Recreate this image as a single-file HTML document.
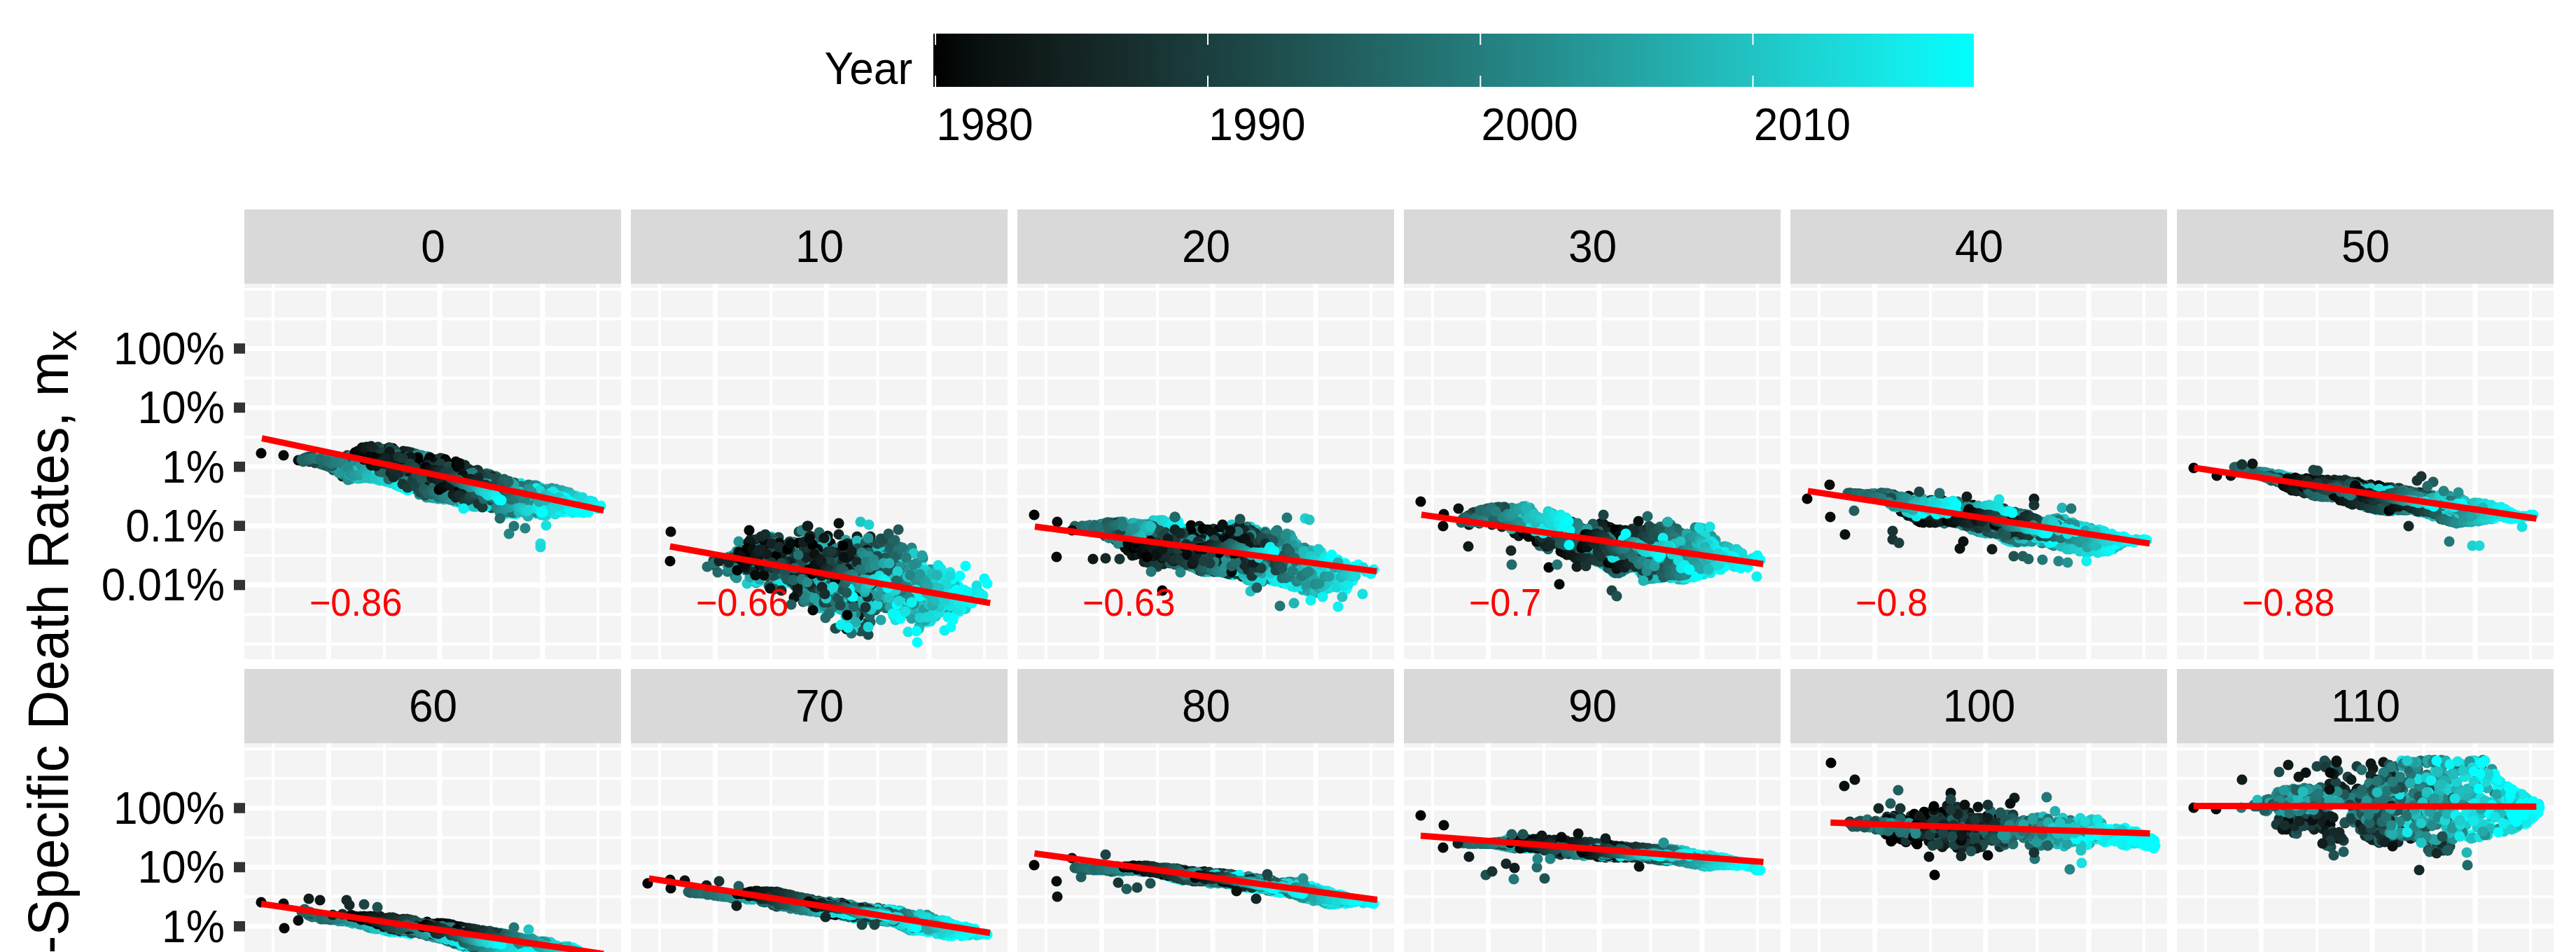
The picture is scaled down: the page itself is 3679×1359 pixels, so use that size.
<!DOCTYPE html>
<html><head><meta charset="utf-8"><title>chart</title>
<style>html,body{margin:0;padding:0;background:#fff}svg{display:block}text{font-family:"Liberation Sans", sans-serif;fill:#000}.P{fill:none;stroke-linecap:round;stroke-width:15.2px}.y0{stroke:#000000}.y1{stroke:#050a0a}.y2{stroke:#0a1211}.y3{stroke:#0e1817}.y4{stroke:#111d1d}.y5{stroke:#132222}.y6{stroke:#152827}.y7{stroke:#172d2d}.y8{stroke:#193333}.y9{stroke:#1a3938}.y10{stroke:#1c3f3e}.y11{stroke:#1d4444}.y12{stroke:#1e4b4a}.y13{stroke:#1f5150}.y14{stroke:#215757}.y15{stroke:#225d5d}.y16{stroke:#226463}.y17{stroke:#236a6a}.y18{stroke:#247170}.y19{stroke:#247777}.y20{stroke:#257e7e}.y21{stroke:#258584}.y22{stroke:#258b8b}.y23{stroke:#259292}.y24{stroke:#259999}.y25{stroke:#25a0a0}.y26{stroke:#25a7a7}.y27{stroke:#24aeae}.y28{stroke:#23b5b5}.y29{stroke:#22bcbc}.y30{stroke:#21c4c3}.y31{stroke:#20cbcb}.y32{stroke:#1ed2d2}.y33{stroke:#1bd9d9}.y34{stroke:#18e1e1}.y35{stroke:#15e8e8}.y36{stroke:#10f0f0}.y37{stroke:#09f7f7}.y38{stroke:#00ffff}</style></head><body>
<svg width="3679" height="1359" viewBox="0 0 3679 1359">
<rect width="3679" height="1359" fill="#fff"/>
<defs><linearGradient id="cb" x1="0" x2="1" y1="0" y2="0"><stop offset="0.0000" stop-color="#000000"/><stop offset="0.0417" stop-color="#080f0f"/><stop offset="0.0833" stop-color="#0f1818"/><stop offset="0.1250" stop-color="#132121"/><stop offset="0.1667" stop-color="#162929"/><stop offset="0.2083" stop-color="#183232"/><stop offset="0.2500" stop-color="#1b3c3b"/><stop offset="0.2917" stop-color="#1d4545"/><stop offset="0.3333" stop-color="#1f4f4e"/><stop offset="0.3750" stop-color="#215858"/><stop offset="0.4167" stop-color="#226362"/><stop offset="0.4583" stop-color="#236d6d"/><stop offset="0.5000" stop-color="#247777"/><stop offset="0.5417" stop-color="#258281"/><stop offset="0.5833" stop-color="#258c8c"/><stop offset="0.6250" stop-color="#259797"/><stop offset="0.6667" stop-color="#25a2a2"/><stop offset="0.7083" stop-color="#24adad"/><stop offset="0.7500" stop-color="#23b9b9"/><stop offset="0.7917" stop-color="#21c4c4"/><stop offset="0.8333" stop-color="#1ed0d0"/><stop offset="0.8750" stop-color="#1bdbdb"/><stop offset="0.9167" stop-color="#16e7e7"/><stop offset="0.9583" stop-color="#0df3f3"/><stop offset="1.0000" stop-color="#00ffff"/></linearGradient>
<clipPath id="vp"><rect x="0" y="0" width="3679" height="1359"/></clipPath><clipPath id="c00"><rect x="349" y="405" width="538" height="536"/></clipPath><clipPath id="c01"><rect x="901" y="405" width="538" height="536"/></clipPath><clipPath id="c02"><rect x="1453" y="405" width="538" height="536"/></clipPath><clipPath id="c03"><rect x="2005" y="405" width="538" height="536"/></clipPath><clipPath id="c04"><rect x="2557" y="405" width="538" height="536"/></clipPath><clipPath id="c05"><rect x="3109" y="405" width="538" height="536"/></clipPath><clipPath id="c10"><rect x="349" y="1061" width="538" height="536"/></clipPath><clipPath id="c11"><rect x="901" y="1061" width="538" height="536"/></clipPath><clipPath id="c12"><rect x="1453" y="1061" width="538" height="536"/></clipPath><clipPath id="c13"><rect x="2005" y="1061" width="538" height="536"/></clipPath><clipPath id="c14"><rect x="2557" y="1061" width="538" height="536"/></clipPath><clipPath id="c15"><rect x="3109" y="1061" width="538" height="536"/></clipPath></defs>
<rect x="1333" y="48" width="1486" height="76" fill="url(#cb)"/>
<rect x="1335.0" y="48" width="2" height="16" fill="#fff"/>
<rect x="1335.0" y="108.0" width="2" height="16" fill="#fff"/>
<rect x="1724.0" y="48" width="2" height="16" fill="#fff"/>
<rect x="1724.0" y="108.0" width="2" height="16" fill="#fff"/>
<rect x="2113.3" y="48" width="2" height="16" fill="#fff"/>
<rect x="2113.3" y="108.0" width="2" height="16" fill="#fff"/>
<rect x="2502.5" y="48" width="2" height="16" fill="#fff"/>
<rect x="2502.5" y="108.0" width="2" height="16" fill="#fff"/>
<text transform="translate(1177.5,120.0) scale(1,1.050)" font-size="62.2">Year</text>
<text transform="translate(1337.3,200.0) scale(1,1.050)" font-size="62.2">1980</text>
<text transform="translate(1726.3,200.0) scale(1,1.050)" font-size="62.2">1990</text>
<text transform="translate(2115.6,200.0) scale(1,1.050)" font-size="62.2">2000</text>
<text transform="translate(2504.8,200.0) scale(1,1.050)" font-size="62.2">2010</text>
<text transform="translate(96.5,1500.0) rotate(-90) scale(1,1.050)" font-size="77.8">Age-Specific Death Rates, m<tspan font-size="60" dy="12">x</tspan></text>
<rect x="349" y="299" width="538" height="106" fill="#d9d9d9"/>
<text transform="translate(618.5,374.3) scale(1,1.050)" font-size="62.2" text-anchor="middle">0</text>
<rect x="349" y="405" width="538" height="536" fill="#f4f4f4"/>
<path d="M390.0 405V941M549.0 405V941M701.5 405V941M854.0 405V941M349 413.1H887M349 455.3H887M349 539.7H887M349 624.1H887M349 708.5H887M349 792.9H887M349 877.3H887M349 919.5H887" stroke="#fff" stroke-width="4" fill="none"/>
<path d="M469.5 405V941M628.0 405V941M775.0 405V941M349 497.5H887M349 581.9H887M349 666.3H887M349 750.7H887M349 835.1H887" stroke="#fff" stroke-width="7" fill="none"/>
<g class="P" clip-path="url(#c00)"><path class="y0" d="M373 647h0"/><path class="y1" d="M405 650h0"/><path class="y2" d="M426 657h0"/><path class="y3" d="M442 659h0"/><path class="y6" d="M489 680h0"/><path class="y16" d="M595 699h0"/><path class="y34" d="M690 723h0"/><path class="y12" d="M491 653h0"/><path class="y14" d="M476 671h0"/><path class="y27" d="M529 683h0"/><path class="y33" d="M558 689h0"/><path class="y36" d="M581 699h0"/><path class="y37" d="M582 700h0"/><path class="y10" d="M447 653h0"/><path class="y11" d="M444 652h0"/><path class="y12" d="M441 652h0"/><path class="y13" d="M438 653h0"/><path class="y14" d="M435 654h0"/><path class="y15" d="M434 655h0"/><path class="y16" d="M438 655h0"/><path class="y18" d="M452 655h0"/><path class="y30" d="M501 684h0"/><path class="y34" d="M528 682h0"/><path class="y35" d="M529 683h0"/><path class="y36" d="M536 684h0"/><path class="y38" d="M539 685h0"/><path class="y10" d="M540 638h0"/><path class="y13" d="M549 641h0"/><path class="y15" d="M555 640h0"/><path class="y24" d="M590 647h0"/><path class="y12" d="M460 663h0"/><path class="y15" d="M450 661h0"/><path class="y16" d="M457 662h0"/><path class="y17" d="M463 664h0"/><path class="y18" d="M469 666h0"/><path class="y21" d="M489 677h0"/><path class="y22" d="M497 685h0"/><path class="y23" d="M497 681h0"/><path class="y24" d="M506 682h0"/><path class="y25" d="M513 683h0"/><path class="y26" d="M517 682h0"/><path class="y27" d="M520 682h0"/><path class="y28" d="M516 682h0"/><path class="y29" d="M523 682h0"/><path class="y30" d="M527 682h0"/><path class="y31" d="M543 686h0"/><path class="y32" d="M550 687h0"/><path class="y33" d="M552 687h0"/><path class="y34" d="M556 688h0"/><path class="y35" d="M558 689h0"/><path class="y36" d="M565 692h0"/><path class="y37" d="M568 693h0"/><path class="y38" d="M573 695h0"/><path class="y10" d="M496 650h0"/><path class="y11" d="M490 656h0"/><path class="y12" d="M483 654h0"/><path class="y13" d="M480 654h0"/><path class="y14" d="M478 654h0"/><path class="y17" d="M487 672h0"/><path class="y20" d="M500 651h0"/><path class="y23" d="M516 662h0"/><path class="y30" d="M540 683h0"/><path class="y33" d="M562 690h0"/><path class="y35" d="M570 694h0"/><path class="y10" d="M478 656h0"/><path class="y13" d="M467 665h0"/><path class="y14" d="M465 663h0"/><path class="y15" d="M465 661h0"/><path class="y17" d="M473 668h0"/><path class="y19" d="M487 661h0"/><path class="y20" d="M494 667h0"/><path class="y21" d="M502 660h0"/><path class="y22" d="M507 654h0"/><path class="y23" d="M513 667h0"/><path class="y24" d="M516 664h0"/><path class="y25" d="M522 668h0"/><path class="y28" d="M527 672h0"/><path class="y14" d="M536 675h0"/><path class="y19" d="M569 687h0"/><path class="y30" d="M634 713h0"/><path class="y31" d="M650 716h0"/><path class="y32" d="M655 717h0"/><path class="y36" d="M682 723h0"/><path class="y37" d="M688 724h0"/><path class="y0" d="M515 646h0"/><path class="y1" d="M518 646h0"/><path class="y3" d="M526 650h0"/><path class="y4" d="M530 650h0"/><path class="y16" d="M581 645h0"/><path class="y17" d="M583 645h0"/><path class="y18" d="M588 646h0"/><path class="y25" d="M611 652h0"/><path class="y29" d="M620 656h0"/><path class="y11" d="M449 660h0"/><path class="y12" d="M442 657h0"/><path class="y13" d="M440 658h0"/><path class="y14" d="M434 658h0"/><path class="y15" d="M433 659h0"/><path class="y16" d="M431 656h0"/><path class="y17" d="M441 656h0"/><path class="y18" d="M446 654h0"/><path class="y19" d="M452 655h0"/><path class="y20" d="M458 654h0"/><path class="y21" d="M466 654h0"/><path class="y22" d="M474 657h0"/><path class="y23" d="M477 668h0"/><path class="y24" d="M484 675h0"/><path class="y25" d="M494 663h0"/><path class="y26" d="M497 665h0"/><path class="y27" d="M503 671h0"/><path class="y28" d="M499 677h0"/><path class="y29" d="M504 672h0"/><path class="y30" d="M510 683h0"/><path class="y31" d="M523 679h0"/><path class="y32" d="M527 679h0"/><path class="y34" d="M536 678h0"/><path class="y36" d="M548 685h0"/><path class="y37" d="M557 689h0"/><path class="y0" d="M556 639h0"/><path class="y1" d="M561 640h0"/><path class="y4" d="M576 644h0"/><path class="y5" d="M581 645h0"/><path class="y6" d="M586 646h0"/><path class="y8" d="M594 648h0"/><path class="y9" d="M600 650h0"/><path class="y10" d="M604 651h0"/><path class="y11" d="M610 652h0"/><path class="y29" d="M758 732h0"/><path class="y30" d="M762 730h0"/><path class="y12" d="M493 657h0"/><path class="y13" d="M484 657h0"/><path class="y14" d="M474 665h0"/><path class="y15" d="M468 662h0"/><path class="y16" d="M460 659h0"/><path class="y17" d="M458 656h0"/><path class="y18" d="M468 659h0"/><path class="y19" d="M474 662h0"/><path class="y20" d="M480 659h0"/><path class="y21" d="M490 659h0"/><path class="y22" d="M497 666h0"/><path class="y23" d="M500 676h0"/><path class="y24" d="M505 679h0"/><path class="y25" d="M513 678h0"/><path class="y26" d="M519 675h0"/><path class="y27" d="M524 678h0"/><path class="y28" d="M524 678h0"/><path class="y29" d="M526 682h0"/><path class="y30" d="M535 683h0"/><path class="y31" d="M545 683h0"/><path class="y32" d="M551 687h0"/><path class="y33" d="M559 689h0"/><path class="y34" d="M565 692h0"/><path class="y35" d="M569 694h0"/><path class="y36" d="M574 696h0"/><path class="y37" d="M579 698h0"/><path class="y38" d="M584 699h0"/><path class="y4" d="M630 655h0"/><path class="y32" d="M768 694h0"/><path class="y33" d="M772 696h0"/><path class="y38" d="M808 702h0"/><path class="y33" d="M781 735h0"/><path class="y34" d="M793 734h0"/><path class="y35" d="M795 732h0"/><path class="y36" d="M802 731h0"/><path class="y37" d="M805 731h0"/><path class="y38" d="M810 730h0"/><path class="y30" d="M634 712h0"/><path class="y32" d="M653 716h0"/><path class="y33" d="M655 717h0"/><path class="y6" d="M622 656h0"/><path class="y11" d="M564 643h0"/><path class="y12" d="M562 645h0"/><path class="y13" d="M559 645h0"/><path class="y16" d="M557 640h0"/><path class="y17" d="M568 649h0"/><path class="y19" d="M581 653h0"/><path class="y21" d="M596 649h0"/><path class="y22" d="M602 650h0"/><path class="y23" d="M607 653h0"/><path class="y24" d="M611 652h0"/><path class="y3" d="M599 701h0"/><path class="y7" d="M611 691h0"/><path class="y9" d="M618 694h0"/><path class="y32" d="M712 728h0"/><path class="y35" d="M730 733h0"/><path class="y36" d="M737 734h0"/><path class="y37" d="M742 731h0"/><path class="y8" d="M670 670h0"/><path class="y15" d="M701 678h0"/><path class="y16" d="M708 680h0"/><path class="y17" d="M710 681h0"/><path class="y21" d="M737 690h0"/><path class="y29" d="M781 698h0"/><path class="y37" d="M823 708h0"/><path class="y13" d="M702 725h0"/><path class="y36" d="M818 732h0"/><path class="y37" d="M819 729h0"/><path class="y38" d="M825 731h0"/><path class="y0" d="M507 646h0"/><path class="y1" d="M511 644h0"/><path class="y2" d="M517 639h0"/><path class="y3" d="M520 639h0"/><path class="y4" d="M524 638h0"/><path class="y5" d="M530 637h0"/><path class="y6" d="M534 642h0"/><path class="y7" d="M536 652h0"/><path class="y8" d="M543 647h0"/><path class="y9" d="M546 646h0"/><path class="y10" d="M551 646h0"/><path class="y11" d="M557 641h0"/><path class="y12" d="M559 651h0"/><path class="y13" d="M561 652h0"/><path class="y15" d="M569 659h0"/><path class="y16" d="M574 659h0"/><path class="y30" d="M621 689h0"/><path class="y0" d="M614 653h0"/><path class="y1" d="M621 660h0"/><path class="y13" d="M683 672h0"/><path class="y16" d="M695 676h0"/><path class="y17" d="M699 677h0"/><path class="y2" d="M572 677h0"/><path class="y3" d="M578 677h0"/><path class="y6" d="M590 674h0"/><path class="y7" d="M593 683h0"/><path class="y11" d="M605 697h0"/><path class="y13" d="M612 701h0"/><path class="y14" d="M615 710h0"/><path class="y23" d="M657 716h0"/><path class="y28" d="M676 723h0"/><path class="y29" d="M675 722h0"/><path class="y30" d="M680 723h0"/><path class="y0" d="M597 658h0"/><path class="y1" d="M603 667h0"/><path class="y3" d="M609 685h0"/><path class="y8" d="M629 654h0"/><path class="y9" d="M633 655h0"/><path class="y35" d="M744 690h0"/><path class="y36" d="M751 693h0"/><path class="y37" d="M830 718h0"/><path class="y38" d="M836 721h0"/><path class="y14" d="M542 673h0"/><path class="y15" d="M543 671h0"/><path class="y16" d="M546 674h0"/><path class="y17" d="M555 684h0"/><path class="y19" d="M571 676h0"/><path class="y20" d="M579 687h0"/><path class="y21" d="M584 688h0"/><path class="y23" d="M599 706h0"/><path class="y24" d="M609 710h0"/><path class="y25" d="M614 706h0"/><path class="y26" d="M619 711h0"/><path class="y27" d="M627 712h0"/><path class="y28" d="M625 712h0"/><path class="y31" d="M656 711h0"/><path class="y32" d="M661 718h0"/><path class="y34" d="M672 722h0"/><path class="y35" d="M678 723h0"/><path class="y38" d="M695 723h0"/><path class="y3" d="M543 661h0"/><path class="y4" d="M549 662h0"/><path class="y5" d="M558 675h0"/><path class="y6" d="M562 681h0"/><path class="y7" d="M570 675h0"/><path class="y8" d="M575 691h0"/><path class="y9" d="M582 696h0"/><path class="y10" d="M589 686h0"/><path class="y11" d="M594 695h0"/><path class="y12" d="M600 703h0"/><path class="y13" d="M607 707h0"/><path class="y15" d="M616 705h0"/><path class="y16" d="M618 705h0"/><path class="y18" d="M626 710h0"/><path class="y19" d="M630 709h0"/><path class="y20" d="M633 711h0"/><path class="y21" d="M637 710h0"/><path class="y22" d="M642 713h0"/><path class="y23" d="M646 714h0"/><path class="y24" d="M649 709h0"/><path class="y30" d="M677 723h0"/><path class="y31" d="M683 722h0"/><path class="y33" d="M697 721h0"/><path class="y34" d="M708 723h0"/><path class="y35" d="M714 731h0"/><path class="y36" d="M721 734h0"/><path class="y38" d="M732 733h0"/><path class="y1" d="M664 667h0"/><path class="y6" d="M695 679h0"/><path class="y7" d="M703 680h0"/><path class="y13" d="M727 687h0"/><path class="y15" d="M734 689h0"/><path class="y17" d="M745 694h0"/><path class="y18" d="M746 695h0"/><path class="y19" d="M755 692h0"/><path class="y20" d="M761 693h0"/><path class="y21" d="M765 693h0"/><path class="y22" d="M774 699h0"/><path class="y23" d="M780 701h0"/><path class="y24" d="M788 697h0"/><path class="y25" d="M794 698h0"/><path class="y26" d="M802 700h0"/><path class="y27" d="M807 702h0"/><path class="y28" d="M813 703h0"/><path class="y29" d="M811 705h0"/><path class="y30" d="M818 707h0"/><path class="y31" d="M824 711h0"/><path class="y32" d="M827 710h0"/><path class="y33" d="M832 710h0"/><path class="y34" d="M843 715h0"/><path class="y35" d="M847 716h0"/><path class="y36" d="M852 724h0"/><path class="y37" d="M854 726h0"/><path class="y38" d="M858 722h0"/><path class="y2" d="M621 661h0"/><path class="y32" d="M742 702h0"/><path class="y36" d="M766 697h0"/><path class="y37" d="M768 702h0"/><path class="y0" d="M534 653h0"/><path class="y1" d="M539 655h0"/><path class="y2" d="M548 654h0"/><path class="y3" d="M556 645h0"/><path class="y4" d="M564 654h0"/><path class="y5" d="M574 664h0"/><path class="y6" d="M581 666h0"/><path class="y7" d="M590 659h0"/><path class="y9" d="M608 681h0"/><path class="y10" d="M615 683h0"/><path class="y11" d="M625 687h0"/><path class="y17" d="M661 713h0"/><path class="y27" d="M727 701h0"/><path class="y38" d="M814 716h0"/><path class="y0" d="M623 698h0"/><path class="y10" d="M681 714h0"/><path class="y20" d="M724 731h0"/><path class="y22" d="M730 730h0"/><path class="y23" d="M734 732h0"/><path class="y24" d="M737 731h0"/><path class="y26" d="M751 733h0"/><path class="y27" d="M754 737h0"/><path class="y28" d="M760 730h0"/><path class="y29" d="M759 728h0"/><path class="y30" d="M767 733h0"/><path class="y31" d="M773 735h0"/><path class="y32" d="M778 736h0"/><path class="y33" d="M785 729h0"/><path class="y34" d="M795 732h0"/><path class="y35" d="M801 727h0"/><path class="y0" d="M608 663h0"/><path class="y1" d="M612 657h0"/><path class="y3" d="M625 665h0"/><path class="y18" d="M700 683h0"/><path class="y31" d="M767 731h0"/><path class="y0" d="M597 653h0"/><path class="y1" d="M602 673h0"/><path class="y2" d="M607 667h0"/><path class="y4" d="M617 682h0"/><path class="y5" d="M625 685h0"/><path class="y6" d="M630 684h0"/><path class="y7" d="M635 678h0"/><path class="y24" d="M725 691h0"/><path class="y25" d="M730 689h0"/><path class="y26" d="M734 692h0"/><path class="y27" d="M738 702h0"/><path class="y29" d="M746 703h0"/><path class="y33" d="M771 700h0"/><path class="y34" d="M786 704h0"/><path class="y35" d="M790 702h0"/><path class="y36" d="M796 707h0"/><path class="y37" d="M803 709h0"/><path class="y38" d="M808 711h0"/><path class="y0" d="M636 656h0"/><path class="y1" d="M638 659h0"/><path class="y3" d="M647 675h0"/><path class="y6" d="M658 662h0"/><path class="y7" d="M664 664h0"/><path class="y8" d="M668 675h0"/><path class="y12" d="M688 677h0"/><path class="y13" d="M693 678h0"/><path class="y16" d="M706 705h0"/><path class="y20" d="M723 704h0"/><path class="y37" d="M791 710h0"/><path class="y0" d="M651 659h0"/><path class="y1" d="M655 661h0"/><path class="y2" d="M657 671h0"/><path class="y4" d="M664 676h0"/><path class="y6" d="M673 672h0"/><path class="y7" d="M679 672h0"/><path class="y8" d="M682 671h0"/><path class="y9" d="M685 677h0"/><path class="y10" d="M690 681h0"/><path class="y11" d="M696 683h0"/><path class="y12" d="M701 683h0"/><path class="y13" d="M706 686h0"/><path class="y15" d="M719 697h0"/><path class="y17" d="M728 707h0"/><path class="y18" d="M729 708h0"/><path class="y29" d="M759 710h0"/><path class="y33" d="M779 730h0"/><path class="y36" d="M797 728h0"/><path class="y0" d="M573 652h0"/><path class="y1" d="M577 656h0"/><path class="y2" d="M582 654h0"/><path class="y3" d="M587 653h0"/><path class="y4" d="M595 672h0"/><path class="y5" d="M600 681h0"/><path class="y6" d="M605 667h0"/><path class="y7" d="M611 664h0"/><path class="y8" d="M618 667h0"/><path class="y9" d="M623 668h0"/><path class="y10" d="M629 662h0"/><path class="y11" d="M633 677h0"/><path class="y12" d="M641 666h0"/><path class="y13" d="M645 679h0"/><path class="y15" d="M651 684h0"/><path class="y16" d="M656 681h0"/><path class="y19" d="M671 676h0"/><path class="y20" d="M675 675h0"/><path class="y24" d="M692 690h0"/><path class="y25" d="M696 691h0"/><path class="y26" d="M703 691h0"/><path class="y28" d="M715 706h0"/><path class="y31" d="M725 717h0"/><path class="y37" d="M763 717h0"/><path class="y0" d="M520 656h0"/><path class="y1" d="M527 652h0"/><path class="y2" d="M530 664h0"/><path class="y3" d="M537 665h0"/><path class="y4" d="M543 660h0"/><path class="y5" d="M550 654h0"/><path class="y6" d="M557 665h0"/><path class="y7" d="M561 668h0"/><path class="y8" d="M569 652h0"/><path class="y9" d="M575 654h0"/><path class="y10" d="M579 669h0"/><path class="y11" d="M586 662h0"/><path class="y12" d="M592 668h0"/><path class="y13" d="M595 677h0"/><path class="y14" d="M602 684h0"/><path class="y15" d="M605 698h0"/><path class="y16" d="M611 704h0"/><path class="y17" d="M618 698h0"/><path class="y18" d="M620 703h0"/><path class="y19" d="M624 703h0"/><path class="y20" d="M630 702h0"/><path class="y21" d="M634 707h0"/><path class="y22" d="M640 703h0"/><path class="y23" d="M647 707h0"/><path class="y24" d="M651 709h0"/><path class="y30" d="M681 706h0"/><path class="y32" d="M694 719h0"/><path class="y33" d="M701 714h0"/><path class="y0" d="M650 700h0"/><path class="y2" d="M660 698h0"/><path class="y8" d="M683 719h0"/><path class="y9" d="M689 724h0"/><path class="y20" d="M753 729h0"/><path class="y21" d="M759 722h0"/><path class="y22" d="M766 731h0"/><path class="y23" d="M772 732h0"/><path class="y29" d="M792 721h0"/><path class="y30" d="M792 713h0"/><path class="y31" d="M799 710h0"/><path class="y33" d="M807 726h0"/><path class="y36" d="M827 726h0"/><path class="y37" d="M833 732h0"/><path class="y38" d="M840 731h0"/><path class="y0" d="M654 703h0"/><path class="y3" d="M665 702h0"/><path class="y4" d="M666 706h0"/><path class="y7" d="M678 705h0"/><path class="y12" d="M701 714h0"/><path class="y14" d="M708 713h0"/><path class="y15" d="M716 709h0"/><path class="y17" d="M727 722h0"/><path class="y18" d="M732 732h0"/><path class="y21" d="M750 715h0"/><path class="y22" d="M753 720h0"/><path class="y23" d="M757 725h0"/><path class="y24" d="M762 728h0"/><path class="y25" d="M767 724h0"/><path class="y31" d="M780 727h0"/><path class="y32" d="M783 725h0"/><path class="y33" d="M788 727h0"/><path class="y34" d="M798 723h0"/><path class="y35" d="M805 723h0"/><path class="y36" d="M807 722h0"/><path class="y37" d="M814 728h0"/><path class="y38" d="M819 727h0"/><path class="y0" d="M627 699h0"/><path class="y1" d="M632 696h0"/><path class="y2" d="M638 693h0"/><path class="y3" d="M643 693h0"/><path class="y4" d="M647 706h0"/><path class="y5" d="M651 710h0"/><path class="y6" d="M656 706h0"/><path class="y7" d="M657 708h0"/><path class="y8" d="M664 714h0"/><path class="y9" d="M666 715h0"/><path class="y10" d="M670 713h0"/><path class="y11" d="M671 708h0"/><path class="y12" d="M674 705h0"/><path class="y13" d="M677 704h0"/><path class="y14" d="M680 704h0"/><path class="y15" d="M684 698h0"/><path class="y17" d="M691 712h0"/><path class="y18" d="M695 708h0"/><path class="y20" d="M704 710h0"/><path class="y21" d="M709 724h0"/><path class="y22" d="M714 731h0"/><path class="y23" d="M718 729h0"/><path class="y24" d="M723 725h0"/><path class="y25" d="M728 724h0"/><path class="y26" d="M734 721h0"/><path class="y27" d="M739 722h0"/><path class="y28" d="M741 731h0"/><path class="y29" d="M741 725h0"/><path class="y30" d="M745 725h0"/><path class="y31" d="M748 728h0"/><path class="y32" d="M752 730h0"/><path class="y33" d="M755 728h0"/><path class="y34" d="M766 726h0"/><path class="y35" d="M768 722h0"/><path class="y36" d="M772 724h0"/><path class="y37" d="M773 732h0"/><path class="y38" d="M775 731h0"/><path class="y0" d="M652 664h0"/><path class="y1" d="M656 663h0"/><path class="y2" d="M661 678h0"/><path class="y3" d="M666 686h0"/><path class="y4" d="M672 684h0"/><path class="y5" d="M677 685h0"/><path class="y6" d="M683 682h0"/><path class="y7" d="M687 693h0"/><path class="y8" d="M693 692h0"/><path class="y9" d="M697 694h0"/><path class="y10" d="M702 705h0"/><path class="y11" d="M707 693h0"/><path class="y12" d="M709 683h0"/><path class="y13" d="M715 696h0"/><path class="y14" d="M717 689h0"/><path class="y15" d="M720 684h0"/><path class="y16" d="M726 688h0"/><path class="y17" d="M730 707h0"/><path class="y18" d="M730 713h0"/><path class="y19" d="M737 711h0"/><path class="y20" d="M742 706h0"/><path class="y21" d="M746 711h0"/><path class="y22" d="M748 706h0"/><path class="y23" d="M755 698h0"/><path class="y24" d="M759 702h0"/><path class="y25" d="M765 710h0"/><path class="y26" d="M770 716h0"/><path class="y27" d="M771 715h0"/><path class="y28" d="M779 714h0"/><path class="y29" d="M779 707h0"/><path class="y30" d="M785 710h0"/><path class="y31" d="M789 711h0"/><path class="y32" d="M793 715h0"/><path class="y33" d="M799 722h0"/><path class="y34" d="M805 715h0"/><path class="y35" d="M813 720h0"/><path class="y36" d="M818 718h0"/><path class="y37" d="M821 728h0"/><path class="y38" d="M827 725h0"/><path class="y0" d="M608 667h0"/><path class="y1" d="M611 670h0"/><path class="y2" d="M614 671h0"/><path class="y3" d="M618 674h0"/><path class="y4" d="M621 671h0"/><path class="y5" d="M624 673h0"/><path class="y6" d="M627 674h0"/><path class="y7" d="M630 672h0"/><path class="y8" d="M633 676h0"/><path class="y9" d="M636 674h0"/><path class="y10" d="M639 673h0"/><path class="y11" d="M642 681h0"/><path class="y12" d="M644 683h0"/><path class="y13" d="M647 684h0"/><path class="y14" d="M650 686h0"/><path class="y15" d="M653 688h0"/><path class="y16" d="M655 685h0"/><path class="y17" d="M658 688h0"/><path class="y18" d="M660 691h0"/><path class="y19" d="M663 691h0"/><path class="y20" d="M665 692h0"/><path class="y21" d="M668 692h0"/><path class="y22" d="M670 695h0"/><path class="y23" d="M673 695h0"/><path class="y24" d="M676 694h0"/><path class="y25" d="M678 694h0"/><path class="y26" d="M681 695h0"/><path class="y27" d="M683 697h0"/><path class="y28" d="M686 700h0"/><path class="y29" d="M685 700h0"/><path class="y30" d="M688 700h0"/><path class="y31" d="M691 702h0"/><path class="y32" d="M694 704h0"/><path class="y33" d="M697 707h0"/><path class="y34" d="M704 706h0"/><path class="y35" d="M707 707h0"/><path class="y36" d="M710 710h0"/><path class="y37" d="M713 714h0"/><path class="y38" d="M716 714h0"/><path class="y21" d="M727 762h0"/><path class="y19" d="M734 751h0"/><path class="y21" d="M750 754h0"/><path class="y34" d="M780 750h0M772 776h0"/><path class="y33" d="M772 781h0"/><path class="y36" d="M662 726h0"/><path class="y17" d="M714 740h0"/></g>
<path d="M374.0 625.6L862.2 728.5" stroke="#f00" stroke-width="9" fill="none"/>
<text transform="translate(441.7,878.8) scale(1,1.050)" font-size="52.5" style="fill:#f00">−0.86</text>
<rect x="901" y="299" width="538" height="106" fill="#d9d9d9"/>
<text transform="translate(1170.5,374.3) scale(1,1.050)" font-size="62.2" text-anchor="middle">10</text>
<rect x="901" y="405" width="538" height="536" fill="#f4f4f4"/>
<path d="M942.0 405V941M1101.0 405V941M1253.5 405V941M1406.0 405V941M901 413.1H1439M901 455.3H1439M901 539.7H1439M901 624.1H1439M901 708.5H1439M901 792.9H1439M901 877.3H1439M901 919.5H1439" stroke="#fff" stroke-width="4" fill="none"/>
<path d="M1021.5 405V941M1180.0 405V941M1327.0 405V941M901 497.5H1439M901 581.9H1439M901 666.3H1439M901 750.7H1439M901 835.1H1439" stroke="#fff" stroke-width="7" fill="none"/>
<g class="P" clip-path="url(#c01)"><path class="y17" d="M1025 817h0"/><path class="y19" d="M1039 816h0"/><path class="y23" d="M1065 814h0"/><path class="y26" d="M1080 832h0"/><path class="y20" d="M1041 795h0"/><path class="y22" d="M1052 787h0"/><path class="y23" d="M1055 773h0"/><path class="y11" d="M1019 800h0"/><path class="y20" d="M1036 799h0"/><path class="y30" d="M1079 782h0"/><path class="y32" d="M1102 766h0"/><path class="y34" d="M1108 826h0"/><path class="y25" d="M1046 793h0"/><path class="y30" d="M1062 811h0"/><path class="y33" d="M1084 830h0"/><path class="y25" d="M1039 807h0"/><path class="y31" d="M1067 833h0"/><path class="y32" d="M1072 824h0"/><path class="y34" d="M1080 830h0"/><path class="y11" d="M1042 807h0"/><path class="y18" d="M1044 798h0"/><path class="y19" d="M1050 823h0"/><path class="y21" d="M1059 785h0"/><path class="y22" d="M1064 786h0"/><path class="y26" d="M1085 827h0"/><path class="y28" d="M1084 812h0"/><path class="y32" d="M1108 832h0"/><path class="y33" d="M1114 827h0"/><path class="y36" d="M1126 832h0"/><path class="y12" d="M1045 796h0"/><path class="y15" d="M1020 807h0"/><path class="y17" d="M1010 809h0"/><path class="y18" d="M1020 804h0"/><path class="y21" d="M1042 811h0"/><path class="y22" d="M1049 807h0"/><path class="y23" d="M1052 825h0"/><path class="y24" d="M1057 810h0"/><path class="y26" d="M1071 824h0"/><path class="y27" d="M1076 814h0"/><path class="y34" d="M1117 830h0"/><path class="y5" d="M1027 801h0"/><path class="y6" d="M1041 803h0"/><path class="y7" d="M1053 797h0"/><path class="y8" d="M1067 813h0"/><path class="y9" d="M1079 801h0"/><path class="y16" d="M1147 774h0"/><path class="y17" d="M1153 769h0"/><path class="y19" d="M1151 771h0"/><path class="y4" d="M1219 776h0"/><path class="y5" d="M1224 766h0"/><path class="y17" d="M1286 781h0"/><path class="y22" d="M1318 797h0"/><path class="y24" d="M1329 813h0"/><path class="y37" d="M1385 850h0"/><path class="y38" d="M1392 845h0"/><path class="y9" d="M1218 783h0"/><path class="y13" d="M1229 901h0"/><path class="y31" d="M1300 864h0"/><path class="y36" d="M1324 888h0"/><path class="y2" d="M1182 765h0"/><path class="y17" d="M1265 868h0"/><path class="y28" d="M1312 898h0"/><path class="y4" d="M1202 779h0"/><path class="y10" d="M1229 875h0"/><path class="y11" d="M1237 868h0"/><path class="y12" d="M1240 906h0"/><path class="y14" d="M1250 871h0"/><path class="y34" d="M1329 887h0"/><path class="y37" d="M1343 819h0"/><path class="y26" d="M1276 855h0"/><path class="y32" d="M1294 802h0"/><path class="y36" d="M1318 810h0"/><path class="y0" d="M1053 814h0"/><path class="y1" d="M1055 788h0"/><path class="y2" d="M1059 794h0"/><path class="y3" d="M1065 810h0"/><path class="y4" d="M1068 803h0"/><path class="y5" d="M1072 770h0"/><path class="y6" d="M1077 816h0"/><path class="y7" d="M1080 770h0"/><path class="y24" d="M1142 775h0"/><path class="y29" d="M1158 844h0"/><path class="y36" d="M1186 874h0"/><path class="y5" d="M1198 763h0"/><path class="y14" d="M1238 874h0"/><path class="y15" d="M1243 888h0"/><path class="y18" d="M1258 866h0"/><path class="y21" d="M1276 878h0"/><path class="y25" d="M1302 883h0"/><path class="y28" d="M1324 882h0"/><path class="y33" d="M1341 875h0"/><path class="y34" d="M1352 826h0"/><path class="y37" d="M1364 835h0"/><path class="y38" d="M1369 837h0"/><path class="y1" d="M1186 775h0"/><path class="y11" d="M1236 890h0"/><path class="y14" d="M1247 867h0"/><path class="y18" d="M1270 856h0"/><path class="y19" d="M1275 875h0"/><path class="y28" d="M1336 880h0"/><path class="y36" d="M1370 873h0"/><path class="y2" d="M1092 780h0"/><path class="y3" d="M1095 822h0"/><path class="y10" d="M1141 759h0"/><path class="y15" d="M1168 768h0"/><path class="y16" d="M1170 760h0"/><path class="y21" d="M1189 786h0"/><path class="y22" d="M1194 783h0"/><path class="y24" d="M1201 781h0"/><path class="y25" d="M1208 771h0"/><path class="y29" d="M1224 772h0"/><path class="y30" d="M1229 745h0"/><path class="y31" d="M1235 773h0"/><path class="y32" d="M1241 749h0"/><path class="y15" d="M1106 841h0"/><path class="y16" d="M1109 820h0"/><path class="y20" d="M1137 791h0"/><path class="y23" d="M1159 773h0"/><path class="y33" d="M1211 856h0"/><path class="y35" d="M1221 891h0"/><path class="y25" d="M1297 876h0"/><path class="y31" d="M1324 863h0"/><path class="y32" d="M1329 867h0"/><path class="y33" d="M1333 881h0"/><path class="y36" d="M1354 844h0"/><path class="y38" d="M1362 880h0"/><path class="y0" d="M1059 800h0"/><path class="y1" d="M1063 806h0"/><path class="y2" d="M1069 774h0"/><path class="y3" d="M1072 774h0"/><path class="y6" d="M1086 784h0"/><path class="y8" d="M1095 772h0"/><path class="y13" d="M1113 775h0"/><path class="y15" d="M1121 822h0"/><path class="y16" d="M1126 827h0"/><path class="y17" d="M1129 830h0"/><path class="y18" d="M1133 781h0"/><path class="y19" d="M1135 836h0"/><path class="y26" d="M1160 862h0"/><path class="y28" d="M1170 868h0"/><path class="y31" d="M1179 769h0"/><path class="y37" d="M1207 874h0"/><path class="y12" d="M1104 822h0"/><path class="y14" d="M1094 821h0"/><path class="y15" d="M1095 815h0"/><path class="y16" d="M1098 836h0"/><path class="y18" d="M1116 815h0"/><path class="y20" d="M1131 781h0"/><path class="y22" d="M1147 844h0"/><path class="y23" d="M1151 834h0"/><path class="y24" d="M1161 849h0"/><path class="y25" d="M1166 781h0"/><path class="y26" d="M1171 858h0"/><path class="y28" d="M1177 861h0"/><path class="y31" d="M1208 880h0"/><path class="y3" d="M1161 779h0"/><path class="y5" d="M1169 843h0"/><path class="y15" d="M1214 880h0"/><path class="y26" d="M1258 885h0"/><path class="y30" d="M1269 852h0"/><path class="y37" d="M1308 805h0"/><path class="y10" d="M1112 767h0"/><path class="y14" d="M1101 768h0"/><path class="y15" d="M1105 771h0"/><path class="y18" d="M1128 773h0"/><path class="y19" d="M1134 774h0"/><path class="y21" d="M1145 757h0"/><path class="y28" d="M1175 780h0"/><path class="y29" d="M1180 871h0"/><path class="y33" d="M1207 851h0"/><path class="y37" d="M1226 883h0"/><path class="y1" d="M1091 771h0"/><path class="y3" d="M1100 810h0"/><path class="y6" d="M1116 843h0"/><path class="y10" d="M1129 787h0"/><path class="y11" d="M1132 794h0"/><path class="y12" d="M1136 836h0"/><path class="y13" d="M1140 801h0"/><path class="y14" d="M1142 807h0"/><path class="y23" d="M1177 865h0"/><path class="y28" d="M1201 844h0"/><path class="y29" d="M1200 870h0"/><path class="y31" d="M1210 872h0"/><path class="y32" d="M1213 891h0"/><path class="y33" d="M1218 899h0"/><path class="y11" d="M1247 781h0"/><path class="y16" d="M1265 786h0"/><path class="y24" d="M1291 809h0"/><path class="y26" d="M1301 864h0"/><path class="y32" d="M1325 870h0"/><path class="y34" d="M1339 850h0"/><path class="y35" d="M1340 807h0"/><path class="y1" d="M1154 751h0"/><path class="y15" d="M1236 775h0"/><path class="y19" d="M1255 856h0"/><path class="y20" d="M1261 793h0"/><path class="y24" d="M1277 810h0"/><path class="y27" d="M1290 810h0"/><path class="y38" d="M1360 866h0"/><path class="y10" d="M1109 784h0"/><path class="y11" d="M1104 772h0"/><path class="y12" d="M1101 789h0"/><path class="y14" d="M1088 802h0"/><path class="y15" d="M1090 796h0"/><path class="y16" d="M1092 819h0"/><path class="y17" d="M1106 774h0"/><path class="y19" d="M1121 796h0"/><path class="y20" d="M1129 812h0"/><path class="y22" d="M1144 840h0"/><path class="y23" d="M1153 786h0"/><path class="y30" d="M1186 844h0"/><path class="y31" d="M1202 851h0"/><path class="y1" d="M1193 789h0"/><path class="y2" d="M1198 747h0"/><path class="y3" d="M1203 785h0"/><path class="y4" d="M1210 776h0"/><path class="y16" d="M1267 790h0"/><path class="y17" d="M1272 776h0"/><path class="y18" d="M1277 793h0"/><path class="y21" d="M1291 813h0"/><path class="y22" d="M1295 819h0"/><path class="y26" d="M1317 854h0"/><path class="y30" d="M1331 842h0"/><path class="y37" d="M1371 853h0"/><path class="y38" d="M1377 842h0"/><path class="y2" d="M1226 880h0"/><path class="y4" d="M1238 785h0"/><path class="y5" d="M1243 766h0"/><path class="y8" d="M1259 851h0"/><path class="y10" d="M1269 814h0"/><path class="y14" d="M1283 756h0"/><path class="y22" d="M1326 856h0"/><path class="y26" d="M1354 869h0"/><path class="y28" d="M1365 852h0"/><path class="y29" d="M1363 834h0"/><path class="y31" d="M1376 856h0"/><path class="y32" d="M1379 869h0"/><path class="y33" d="M1384 846h0"/><path class="y34" d="M1395 836h0"/><path class="y35" d="M1399 846h0"/><path class="y36" d="M1404 850h0"/><path class="y37" d="M1406 826h0"/><path class="y38" d="M1410 833h0"/><path class="y0" d="M1162 782h0"/><path class="y1" d="M1168 784h0"/><path class="y3" d="M1176 794h0"/><path class="y12" d="M1218 796h0"/><path class="y16" d="M1242 879h0"/><path class="y18" d="M1254 785h0"/><path class="y21" d="M1274 821h0"/><path class="y23" d="M1285 805h0"/><path class="y25" d="M1296 793h0"/><path class="y30" d="M1312 861h0"/><path class="y31" d="M1315 814h0"/><path class="y32" d="M1320 830h0"/><path class="y33" d="M1324 851h0"/><path class="y34" d="M1337 855h0"/><path class="y35" d="M1341 832h0"/><path class="y37" d="M1354 849h0"/><path class="y38" d="M1360 827h0"/><path class="y0" d="M1141 775h0"/><path class="y3" d="M1151 789h0"/><path class="y4" d="M1153 751h0"/><path class="y5" d="M1157 765h0"/><path class="y10" d="M1176 795h0"/><path class="y11" d="M1180 799h0"/><path class="y14" d="M1196 801h0"/><path class="y19" d="M1222 876h0"/><path class="y23" d="M1240 768h0"/><path class="y25" d="M1245 869h0"/><path class="y29" d="M1253 784h0"/><path class="y30" d="M1257 780h0"/><path class="y31" d="M1263 795h0"/><path class="y34" d="M1279 885h0"/><path class="y37" d="M1294 857h0"/><path class="y38" d="M1300 836h0"/><path class="y2" d="M1124 782h0"/><path class="y3" d="M1130 806h0"/><path class="y4" d="M1134 823h0"/><path class="y5" d="M1139 846h0"/><path class="y8" d="M1148 785h0"/><path class="y11" d="M1157 820h0"/><path class="y12" d="M1163 789h0"/><path class="y15" d="M1171 851h0"/><path class="y16" d="M1174 846h0"/><path class="y17" d="M1179 882h0"/><path class="y19" d="M1189 867h0"/><path class="y20" d="M1194 897h0"/><path class="y33" d="M1240 895h0"/><path class="y0" d="M1160 777h0"/><path class="y3" d="M1177 768h0"/><path class="y5" d="M1187 789h0"/><path class="y6" d="M1191 789h0"/><path class="y8" d="M1203 803h0"/><path class="y9" d="M1208 786h0"/><path class="y11" d="M1217 859h0"/><path class="y12" d="M1221 793h0"/><path class="y13" d="M1225 783h0"/><path class="y16" d="M1241 789h0"/><path class="y23" d="M1282 849h0"/><path class="y26" d="M1299 838h0"/><path class="y27" d="M1304 836h0"/><path class="y29" d="M1307 870h0"/><path class="y31" d="M1319 847h0"/><path class="y32" d="M1323 815h0"/><path class="y34" d="M1341 813h0"/><path class="y35" d="M1344 812h0"/><path class="y36" d="M1349 843h0"/><path class="y37" d="M1352 834h0"/><path class="y38" d="M1359 854h0"/><path class="y0" d="M1203 831h0"/><path class="y2" d="M1209 898h0"/><path class="y3" d="M1213 803h0"/><path class="y4" d="M1216 787h0"/><path class="y5" d="M1220 863h0"/><path class="y6" d="M1225 858h0"/><path class="y7" d="M1231 802h0"/><path class="y10" d="M1242 854h0"/><path class="y12" d="M1253 776h0"/><path class="y13" d="M1258 769h0"/><path class="y14" d="M1265 796h0"/><path class="y15" d="M1271 781h0"/><path class="y16" d="M1272 805h0"/><path class="y17" d="M1280 796h0"/><path class="y18" d="M1281 844h0"/><path class="y20" d="M1289 826h0"/><path class="y21" d="M1292 847h0"/><path class="y22" d="M1295 822h0"/><path class="y23" d="M1298 815h0"/><path class="y25" d="M1303 808h0"/><path class="y26" d="M1305 818h0"/><path class="y27" d="M1310 870h0"/><path class="y28" d="M1313 894h0"/><path class="y29" d="M1311 857h0"/><path class="y30" d="M1314 866h0"/><path class="y31" d="M1320 821h0"/><path class="y33" d="M1331 879h0"/><path class="y34" d="M1340 869h0"/><path class="y35" d="M1344 867h0"/><path class="y36" d="M1349 900h0"/><path class="y37" d="M1354 881h0"/><path class="y38" d="M1361 885h0"/><path class="y3" d="M1217 801h0"/><path class="y12" d="M1253 794h0"/><path class="y13" d="M1258 774h0"/><path class="y15" d="M1268 811h0"/><path class="y17" d="M1279 792h0"/><path class="y18" d="M1284 837h0"/><path class="y19" d="M1291 823h0"/><path class="y20" d="M1295 838h0"/><path class="y21" d="M1302 782h0"/><path class="y22" d="M1305 862h0"/><path class="y23" d="M1309 804h0"/><path class="y24" d="M1314 884h0"/><path class="y25" d="M1319 870h0"/><path class="y26" d="M1321 886h0"/><path class="y27" d="M1324 828h0"/><path class="y28" d="M1328 848h0"/><path class="y29" d="M1325 848h0"/><path class="y30" d="M1327 863h0"/><path class="y31" d="M1332 833h0"/><path class="y32" d="M1335 824h0"/><path class="y33" d="M1340 820h0"/><path class="y34" d="M1350 828h0"/><path class="y35" d="M1357 817h0"/><path class="y37" d="M1366 842h0"/><path class="y38" d="M1371 822h0"/><path class="y0" d="M1086 807h0"/><path class="y1" d="M1091 821h0"/><path class="y2" d="M1100 840h0"/><path class="y4" d="M1116 791h0"/><path class="y5" d="M1126 802h0"/><path class="y7" d="M1142 823h0"/><path class="y9" d="M1160 838h0"/><path class="y10" d="M1167 838h0"/><path class="y11" d="M1177 860h0"/><path class="y12" d="M1182 860h0"/><path class="y13" d="M1188 830h0"/><path class="y15" d="M1203 838h0"/><path class="y16" d="M1207 811h0"/><path class="y18" d="M1216 904h0"/><path class="y22" d="M1241 851h0"/><path class="y24" d="M1253 840h0"/><path class="y26" d="M1271 866h0"/><path class="y27" d="M1279 821h0"/><path class="y28" d="M1288 869h0"/><path class="y30" d="M1296 823h0"/><path class="y31" d="M1305 790h0"/><path class="y32" d="M1314 882h0"/><path class="y33" d="M1324 881h0"/><path class="y34" d="M1340 875h0"/><path class="y35" d="M1347 848h0"/><path class="y36" d="M1353 861h0"/><path class="y37" d="M1358 856h0"/><path class="y38" d="M1366 843h0"/><path class="y0" d="M1108 794h0"/><path class="y1" d="M1113 775h0"/><path class="y2" d="M1118 780h0"/><path class="y4" d="M1128 808h0"/><path class="y5" d="M1133 824h0"/><path class="y6" d="M1138 793h0"/><path class="y7" d="M1144 792h0"/><path class="y8" d="M1146 815h0"/><path class="y9" d="M1152 830h0"/><path class="y10" d="M1156 803h0"/><path class="y11" d="M1162 807h0"/><path class="y13" d="M1168 794h0"/><path class="y14" d="M1171 844h0"/><path class="y15" d="M1179 833h0"/><path class="y17" d="M1184 876h0"/><path class="y18" d="M1191 857h0"/><path class="y19" d="M1193 853h0"/><path class="y21" d="M1201 841h0"/><path class="y22" d="M1207 867h0"/><path class="y23" d="M1213 850h0"/><path class="y24" d="M1215 845h0"/><path class="y27" d="M1232 863h0"/><path class="y31" d="M1244 870h0"/><path class="y33" d="M1256 841h0"/><path class="y37" d="M1275 876h0"/><path class="y38" d="M1281 863h0"/><path class="y0" d="M1072 792h0"/><path class="y1" d="M1079 821h0"/><path class="y2" d="M1082 797h0"/><path class="y3" d="M1089 808h0"/><path class="y4" d="M1095 791h0"/><path class="y5" d="M1102 776h0"/><path class="y6" d="M1109 808h0"/><path class="y7" d="M1113 781h0"/><path class="y8" d="M1121 804h0"/><path class="y9" d="M1127 774h0"/><path class="y10" d="M1131 831h0"/><path class="y11" d="M1138 838h0"/><path class="y12" d="M1144 805h0"/><path class="y13" d="M1147 859h0"/><path class="y14" d="M1154 833h0"/><path class="y15" d="M1157 857h0"/><path class="y16" d="M1163 820h0"/><path class="y21" d="M1186 843h0"/><path class="y22" d="M1192 825h0"/><path class="y23" d="M1199 858h0"/><path class="y24" d="M1203 845h0"/><path class="y26" d="M1216 876h0"/><path class="y27" d="M1222 888h0"/><path class="y29" d="M1228 852h0"/><path class="y30" d="M1233 849h0"/><path class="y31" d="M1240 863h0"/><path class="y32" d="M1246 841h0"/><path class="y33" d="M1253 863h0"/><path class="y37" d="M1282 878h0"/><path class="y38" d="M1286 883h0"/><path class="y0" d="M1125 784h0"/><path class="y1" d="M1129 776h0"/><path class="y2" d="M1134 853h0"/><path class="y3" d="M1139 839h0"/><path class="y4" d="M1147 774h0"/><path class="y5" d="M1152 796h0"/><path class="y6" d="M1157 834h0"/><path class="y7" d="M1163 793h0"/><path class="y9" d="M1175 836h0"/><path class="y10" d="M1181 853h0"/><path class="y11" d="M1185 802h0"/><path class="y12" d="M1193 897h0"/><path class="y13" d="M1197 854h0"/><path class="y15" d="M1203 829h0"/><path class="y18" d="M1218 808h0"/><path class="y21" d="M1231 789h0"/><path class="y22" d="M1235 793h0"/><path class="y23" d="M1241 794h0"/><path class="y24" d="M1244 847h0"/><path class="y26" d="M1255 851h0"/><path class="y28" d="M1267 841h0"/><path class="y30" d="M1270 827h0"/><path class="y31" d="M1277 837h0"/><path class="y32" d="M1282 816h0"/><path class="y33" d="M1288 795h0"/><path class="y35" d="M1305 823h0"/><path class="y36" d="M1310 851h0"/><path class="y37" d="M1315 851h0"/><path class="y38" d="M1321 838h0"/><path class="y0" d="M1204 779h0"/><path class="y1" d="M1208 823h0"/><path class="y3" d="M1218 819h0"/><path class="y4" d="M1224 822h0"/><path class="y5" d="M1229 844h0"/><path class="y6" d="M1235 819h0"/><path class="y7" d="M1239 852h0"/><path class="y8" d="M1245 834h0"/><path class="y9" d="M1249 819h0"/><path class="y10" d="M1254 811h0"/><path class="y12" d="M1261 770h0"/><path class="y13" d="M1267 815h0"/><path class="y14" d="M1269 762h0"/><path class="y15" d="M1272 803h0"/><path class="y16" d="M1278 771h0"/><path class="y17" d="M1282 792h0"/><path class="y18" d="M1282 785h0"/><path class="y19" d="M1289 782h0"/><path class="y20" d="M1294 841h0"/><path class="y21" d="M1298 849h0"/><path class="y22" d="M1300 857h0"/><path class="y23" d="M1307 826h0"/><path class="y24" d="M1311 822h0"/><path class="y25" d="M1317 793h0"/><path class="y26" d="M1322 830h0"/><path class="y27" d="M1323 846h0"/><path class="y28" d="M1331 852h0"/><path class="y29" d="M1331 819h0"/><path class="y30" d="M1337 839h0"/><path class="y31" d="M1341 866h0"/><path class="y32" d="M1345 861h0"/><path class="y33" d="M1351 835h0"/><path class="y34" d="M1357 865h0"/><path class="y35" d="M1365 853h0"/><path class="y36" d="M1370 864h0"/><path class="y37" d="M1373 869h0"/><path class="y38" d="M1379 808h0"/><path class="y0" d="M1193 827h0"/><path class="y1" d="M1198 811h0"/><path class="y2" d="M1205 795h0"/><path class="y3" d="M1211 812h0"/><path class="y5" d="M1221 836h0"/><path class="y6" d="M1224 803h0"/><path class="y8" d="M1236 867h0"/><path class="y9" d="M1242 826h0"/><path class="y11" d="M1253 824h0"/><path class="y12" d="M1258 851h0"/><path class="y13" d="M1262 812h0"/><path class="y14" d="M1266 814h0"/><path class="y15" d="M1272 838h0"/><path class="y16" d="M1277 795h0"/><path class="y17" d="M1280 829h0"/><path class="y18" d="M1287 843h0"/><path class="y19" d="M1290 839h0"/><path class="y20" d="M1294 796h0"/><path class="y21" d="M1300 821h0"/><path class="y22" d="M1304 806h0"/><path class="y23" d="M1310 836h0"/><path class="y24" d="M1314 820h0"/><path class="y25" d="M1321 833h0"/><path class="y26" d="M1325 836h0"/><path class="y27" d="M1332 864h0"/><path class="y28" d="M1338 821h0"/><path class="y29" d="M1336 857h0"/><path class="y30" d="M1341 840h0"/><path class="y31" d="M1347 854h0"/><path class="y32" d="M1350 857h0"/><path class="y33" d="M1357 822h0"/><path class="y34" d="M1368 870h0"/><path class="y35" d="M1373 864h0"/><path class="y36" d="M1379 858h0"/><path class="y37" d="M1382 845h0"/><path class="y38" d="M1388 861h0"/><path class="y0" d="M1067 783h0"/><path class="y1" d="M1070 757h0"/><path class="y2" d="M1075 784h0"/><path class="y3" d="M1078 796h0"/><path class="y4" d="M1082 789h0"/><path class="y5" d="M1084 786h0"/><path class="y6" d="M1087 766h0"/><path class="y7" d="M1093 763h0"/><path class="y8" d="M1098 809h0"/><path class="y9" d="M1102 803h0"/><path class="y10" d="M1107 811h0"/><path class="y11" d="M1112 812h0"/><path class="y12" d="M1116 804h0"/><path class="y13" d="M1121 816h0"/><path class="y14" d="M1124 827h0"/><path class="y15" d="M1130 863h0"/><path class="y16" d="M1133 828h0"/><path class="y17" d="M1135 811h0"/><path class="y18" d="M1140 792h0"/><path class="y19" d="M1145 827h0"/><path class="y20" d="M1149 858h0"/><path class="y21" d="M1151 853h0"/><path class="y22" d="M1153 831h0"/><path class="y23" d="M1158 809h0"/><path class="y24" d="M1160 812h0"/><path class="y25" d="M1163 854h0"/><path class="y27" d="M1169 828h0"/><path class="y28" d="M1175 825h0"/><path class="y29" d="M1172 832h0"/><path class="y30" d="M1178 839h0"/><path class="y31" d="M1180 854h0"/><path class="y32" d="M1185 842h0"/><path class="y33" d="M1190 838h0"/><path class="y35" d="M1205 844h0"/><path class="y36" d="M1211 896h0"/><path class="y37" d="M1214 840h0"/><path class="y38" d="M1218 852h0"/><path class="y0" d="M1155 813h0"/><path class="y1" d="M1156 769h0"/><path class="y2" d="M1163 791h0"/><path class="y3" d="M1166 811h0"/><path class="y5" d="M1173 822h0"/><path class="y6" d="M1174 838h0"/><path class="y7" d="M1178 848h0"/><path class="y8" d="M1182 788h0"/><path class="y9" d="M1187 787h0"/><path class="y11" d="M1196 811h0"/><path class="y12" d="M1200 864h0"/><path class="y13" d="M1204 842h0"/><path class="y14" d="M1209 846h0"/><path class="y16" d="M1219 866h0"/><path class="y17" d="M1223 828h0"/><path class="y18" d="M1228 813h0"/><path class="y19" d="M1234 812h0"/><path class="y20" d="M1237 802h0"/><path class="y21" d="M1242 810h0"/><path class="y22" d="M1248 799h0"/><path class="y23" d="M1250 807h0"/><path class="y24" d="M1255 851h0"/><path class="y25" d="M1259 839h0"/><path class="y26" d="M1262 804h0"/><path class="y27" d="M1266 853h0"/><path class="y28" d="M1270 804h0"/><path class="y29" d="M1267 834h0"/><path class="y30" d="M1270 853h0"/><path class="y31" d="M1276 843h0"/><path class="y32" d="M1279 843h0"/><path class="y33" d="M1284 858h0"/><path class="y34" d="M1293 873h0"/><path class="y35" d="M1297 902h0"/><path class="y36" d="M1302 860h0"/><path class="y37" d="M1308 842h0"/><path class="y38" d="M1309 901h0"/><path class="y0" d="M1160 819h0"/><path class="y1" d="M1163 807h0"/><path class="y2" d="M1166 808h0"/><path class="y3" d="M1170 798h0"/><path class="y4" d="M1173 801h0"/><path class="y5" d="M1176 819h0"/><path class="y6" d="M1179 812h0"/><path class="y7" d="M1182 820h0"/><path class="y8" d="M1185 814h0"/><path class="y9" d="M1188 819h0"/><path class="y10" d="M1191 820h0"/><path class="y11" d="M1194 820h0"/><path class="y12" d="M1196 816h0"/><path class="y13" d="M1199 819h0"/><path class="y14" d="M1202 812h0"/><path class="y15" d="M1205 815h0"/><path class="y16" d="M1207 832h0"/><path class="y17" d="M1210 822h0"/><path class="y18" d="M1212 827h0"/><path class="y19" d="M1215 822h0"/><path class="y20" d="M1217 820h0"/><path class="y21" d="M1220 825h0"/><path class="y22" d="M1222 828h0"/><path class="y23" d="M1225 832h0"/><path class="y24" d="M1228 839h0"/><path class="y25" d="M1230 832h0"/><path class="y26" d="M1233 827h0"/><path class="y27" d="M1235 845h0"/><path class="y28" d="M1238 828h0"/><path class="y29" d="M1237 840h0"/><path class="y30" d="M1240 833h0"/><path class="y31" d="M1243 833h0"/><path class="y32" d="M1246 828h0"/><path class="y33" d="M1249 827h0"/><path class="y34" d="M1256 822h0"/><path class="y35" d="M1259 828h0"/><path class="y36" d="M1262 827h0"/><path class="y37" d="M1265 830h0"/><path class="y38" d="M1268 839h0"/><path class="y1" d="M958 759h0"/><path class="y0" d="M957 801h0"/><path class="y38" d="M1310 917h0M1358 895h0"/><path class="y36" d="M1201 892h0"/><path class="y0" d="M1210 878h0"/><path class="y1" d="M1161 871h0"/></g>
<path d="M956.9 780.0L1414.2 860.9" stroke="#f00" stroke-width="9" fill="none"/>
<text transform="translate(993.7,878.8) scale(1,1.050)" font-size="52.5" style="fill:#f00">−0.66</text>
<rect x="1453" y="299" width="538" height="106" fill="#d9d9d9"/>
<text transform="translate(1722.5,374.3) scale(1,1.050)" font-size="62.2" text-anchor="middle">20</text>
<rect x="1453" y="405" width="538" height="536" fill="#f4f4f4"/>
<path d="M1494.0 405V941M1653.0 405V941M1805.5 405V941M1958.0 405V941M1453 413.1H1991M1453 455.3H1991M1453 539.7H1991M1453 624.1H1991M1453 708.5H1991M1453 792.9H1991M1453 877.3H1991M1453 919.5H1991" stroke="#fff" stroke-width="4" fill="none"/>
<path d="M1573.5 405V941M1732.0 405V941M1879.0 405V941M1453 497.5H1991M1453 581.9H1991M1453 666.3H1991M1453 750.7H1991M1453 835.1H1991" stroke="#fff" stroke-width="7" fill="none"/>
<g class="P" clip-path="url(#c02)"><path class="y3" d="M1546 756h0"/><path class="y4" d="M1561 753h0"/><path class="y6" d="M1593 771h0"/><path class="y32" d="M1786 752h0"/><path class="y33" d="M1790 757h0"/><path class="y34" d="M1794 756h0"/><path class="y35" d="M1798 760h0"/><path class="y10" d="M1551 752h0"/><path class="y11" d="M1548 754h0"/><path class="y12" d="M1545 754h0"/><path class="y13" d="M1542 755h0"/><path class="y14" d="M1539 756h0"/><path class="y15" d="M1538 755h0"/><path class="y16" d="M1542 754h0"/><path class="y17" d="M1547 753h0"/><path class="y18" d="M1556 750h0"/><path class="y19" d="M1562 750h0"/><path class="y21" d="M1573 748h0"/><path class="y29" d="M1603 745h0"/><path class="y30" d="M1605 745h0"/><path class="y31" d="M1619 747h0"/><path class="y32" d="M1624 748h0"/><path class="y33" d="M1627 748h0"/><path class="y11" d="M1571 749h0"/><path class="y12" d="M1564 750h0"/><path class="y13" d="M1563 750h0"/><path class="y14" d="M1557 750h0"/><path class="y15" d="M1554 751h0"/><path class="y16" d="M1561 753h0"/><path class="y25" d="M1617 747h0"/><path class="y27" d="M1624 748h0"/><path class="y28" d="M1620 747h0"/><path class="y31" d="M1647 743h0"/><path class="y32" d="M1654 743h0"/><path class="y33" d="M1656 743h0"/><path class="y34" d="M1660 743h0"/><path class="y35" d="M1662 743h0"/><path class="y37" d="M1672 745h0"/><path class="y38" d="M1677 743h0"/><path class="y12" d="M1574 758h0"/><path class="y14" d="M1569 755h0"/><path class="y15" d="M1569 754h0M1572 756h0"/><path class="y17" d="M1567 753h0"/><path class="y21" d="M1597 776h0"/><path class="y22" d="M1604 778h0"/><path class="y33" d="M1662 759h0"/><path class="y1" d="M1607 782h0"/><path class="y2" d="M1611 786h0"/><path class="y3" d="M1617 793h0"/><path class="y4" d="M1620 790h0"/><path class="y9" d="M1639 803h0"/><path class="y13" d="M1653 809h0"/><path class="y25" d="M1696 807h0"/><path class="y26" d="M1701 809h0"/><path class="y27" d="M1705 810h0"/><path class="y29" d="M1710 813h0"/><path class="y36" d="M1738 816h0"/><path class="y37" d="M1741 816h0"/><path class="y38" d="M1746 817h0"/><path class="y11" d="M1553 751h0"/><path class="y12" d="M1546 751h0"/><path class="y13" d="M1544 753h0"/><path class="y14" d="M1538 754h0"/><path class="y15" d="M1537 753h0"/><path class="y16" d="M1535 751h0"/><path class="y17" d="M1545 751h0"/><path class="y18" d="M1550 751h0"/><path class="y19" d="M1556 750h0"/><path class="y20" d="M1562 750h0"/><path class="y21" d="M1570 749h0"/><path class="y22" d="M1578 747h0"/><path class="y23" d="M1581 747h0"/><path class="y24" d="M1588 746h0"/><path class="y25" d="M1598 745h0"/><path class="y33" d="M1636 748h0"/><path class="y12" d="M1597 761h0"/><path class="y13" d="M1588 764h0"/><path class="y14" d="M1578 765h0"/><path class="y15" d="M1572 755h0"/><path class="y16" d="M1564 751h0"/><path class="y17" d="M1562 752h0"/><path class="y18" d="M1572 753h0"/><path class="y19" d="M1578 762h0"/><path class="y20" d="M1584 768h0"/><path class="y21" d="M1594 770h0"/><path class="y22" d="M1601 774h0"/><path class="y23" d="M1604 765h0"/><path class="y24" d="M1609 755h0"/><path class="y25" d="M1617 765h0"/><path class="y26" d="M1623 767h0"/><path class="y27" d="M1628 767h0"/><path class="y28" d="M1628 757h0"/><path class="y29" d="M1630 769h0"/><path class="y30" d="M1639 761h0"/><path class="y12" d="M1653 752h0"/><path class="y13" d="M1646 751h0"/><path class="y14" d="M1640 749h0"/><path class="y16" d="M1644 762h0"/><path class="y17" d="M1658 763h0"/><path class="y21" d="M1690 755h0"/><path class="y22" d="M1696 755h0"/><path class="y32" d="M1759 749h0"/><path class="y10" d="M1600 759h0"/><path class="y11" d="M1594 746h0"/><path class="y12" d="M1587 751h0"/><path class="y13" d="M1584 746h0"/><path class="y14" d="M1582 746h0"/><path class="y15" d="M1581 746h0"/><path class="y16" d="M1583 754h0"/><path class="y17" d="M1591 750h0"/><path class="y18" d="M1596 749h0"/><path class="y19" d="M1602 745h0"/><path class="y20" d="M1604 751h0"/><path class="y21" d="M1611 768h0"/><path class="y22" d="M1616 755h0"/><path class="y23" d="M1620 754h0"/><path class="y24" d="M1629 749h0"/><path class="y25" d="M1632 749h0"/><path class="y26" d="M1637 752h0"/><path class="y27" d="M1641 757h0"/><path class="y28" d="M1636 753h0"/><path class="y29" d="M1641 750h0"/><path class="y30" d="M1644 752h0"/><path class="y31" d="M1659 743h0"/><path class="y32" d="M1660 743h0"/><path class="y33" d="M1666 746h0"/><path class="y34" d="M1670 752h0"/><path class="y35" d="M1674 748h0"/><path class="y36" d="M1678 743h0"/><path class="y37" d="M1683 745h0"/><path class="y38" d="M1689 755h0"/><path class="y10" d="M1664 760h0"/><path class="y12" d="M1661 761h0"/><path class="y13" d="M1657 758h0"/><path class="y14" d="M1653 772h0"/><path class="y17" d="M1669 765h0"/><path class="y20" d="M1692 760h0"/><path class="y32" d="M1757 820h0"/><path class="y0" d="M1701 750h0"/><path class="y1" d="M1707 755h0"/><path class="y3" d="M1713 751h0"/><path class="y8" d="M1733 755h0"/><path class="y14" d="M1763 755h0"/><path class="y15" d="M1766 756h0"/><path class="y18" d="M1781 752h0"/><path class="y22" d="M1797 760h0"/><path class="y25" d="M1807 759h0"/><path class="y15" d="M1723 762h0"/><path class="y16" d="M1726 765h0"/><path class="y38" d="M1814 828h0"/><path class="y0" d="M1740 756h0"/><path class="y1" d="M1742 760h0"/><path class="y2" d="M1746 749h0"/><path class="y3" d="M1751 762h0"/><path class="y15" d="M1807 761h0"/><path class="y19" d="M1824 757h0"/><path class="y20" d="M1827 770h0"/><path class="y23" d="M1835 766h0"/><path class="y24" d="M1838 762h0"/><path class="y25" d="M1843 764h0"/><path class="y26" d="M1846 770h0"/><path class="y27" d="M1849 775h0"/><path class="y29" d="M1852 777h0"/><path class="y35" d="M1887 788h0"/><path class="y1" d="M1720 816h0"/><path class="y14" d="M1781 827h0"/><path class="y8" d="M1734 816h0"/><path class="y13" d="M1756 819h0"/><path class="y14" d="M1761 820h0"/><path class="y18" d="M1780 826h0"/><path class="y32" d="M1831 832h0"/><path class="y33" d="M1836 833h0"/><path class="y34" d="M1845 837h0"/><path class="y35" d="M1849 838h0"/><path class="y37" d="M1860 842h0"/><path class="y5" d="M1662 805h0"/><path class="y19" d="M1711 758h0"/><path class="y21" d="M1719 771h0"/><path class="y23" d="M1729 759h0"/><path class="y30" d="M1756 760h0"/><path class="y1" d="M1760 820h0"/><path class="y37" d="M1925 836h0"/><path class="y9" d="M1753 819h0"/><path class="y10" d="M1758 820h0"/><path class="y0" d="M1611 776h0"/><path class="y1" d="M1615 782h0"/><path class="y2" d="M1621 792h0"/><path class="y3" d="M1624 786h0"/><path class="y4" d="M1628 791h0"/><path class="y5" d="M1634 802h0"/><path class="y7" d="M1640 803h0"/><path class="y8" d="M1647 798h0"/><path class="y9" d="M1650 806h0"/><path class="y10" d="M1655 795h0"/><path class="y14" d="M1671 804h0"/><path class="y16" d="M1678 806h0"/><path class="y17" d="M1681 804h0"/><path class="y18" d="M1685 801h0"/><path class="y24" d="M1705 810h0"/><path class="y25" d="M1709 812h0"/><path class="y26" d="M1712 814h0"/><path class="y27" d="M1718 816h0"/><path class="y28" d="M1722 816h0"/><path class="y29" d="M1721 816h0"/><path class="y30" d="M1725 816h0"/><path class="y33" d="M1739 816h0"/><path class="y34" d="M1747 817h0"/><path class="y35" d="M1753 819h0"/><path class="y36" d="M1756 819h0"/><path class="y38" d="M1762 821h0"/><path class="y0" d="M1701 758h0"/><path class="y1" d="M1706 767h0"/><path class="y3" d="M1717 770h0"/><path class="y32" d="M1868 785h0"/><path class="y38" d="M1912 826h0"/><path class="y19" d="M1685 782h0"/><path class="y21" d="M1700 771h0"/><path class="y11" d="M1662 763h0"/><path class="y12" d="M1656 773h0"/><path class="y17" d="M1659 776h0"/><path class="y19" d="M1675 766h0"/><path class="y21" d="M1688 774h0"/><path class="y22" d="M1699 772h0"/><path class="y23" d="M1703 770h0"/><path class="y25" d="M1718 778h0"/><path class="y27" d="M1731 765h0"/><path class="y28" d="M1729 770h0"/><path class="y30" d="M1742 767h0"/><path class="y33" d="M1772 754h0"/><path class="y0" d="M1715 815h0"/><path class="y6" d="M1751 818h0"/><path class="y7" d="M1755 819h0"/><path class="y9" d="M1765 819h0"/><path class="y10" d="M1770 817h0"/><path class="y14" d="M1787 829h0"/><path class="y17" d="M1803 830h0"/><path class="y18" d="M1805 827h0"/><path class="y19" d="M1812 826h0"/><path class="y23" d="M1836 833h0"/><path class="y24" d="M1840 831h0"/><path class="y27" d="M1861 842h0"/><path class="y28" d="M1868 844h0"/><path class="y29" d="M1866 841h0"/><path class="y30" d="M1870 844h0"/><path class="y32" d="M1881 846h0"/><path class="y34" d="M1897 840h0"/><path class="y35" d="M1899 839h0"/><path class="y36" d="M1906 837h0"/><path class="y37" d="M1909 838h0"/><path class="y7" d="M1771 818h0"/><path class="y8" d="M1774 823h0"/><path class="y25" d="M1867 841h0"/><path class="y37" d="M1927 830h0"/><path class="y38" d="M1932 829h0"/><path class="y0" d="M1619 782h0"/><path class="y1" d="M1622 780h0"/><path class="y2" d="M1627 778h0"/><path class="y3" d="M1630 781h0"/><path class="y4" d="M1634 780h0"/><path class="y9" d="M1654 806h0"/><path class="y10" d="M1659 795h0"/><path class="y11" d="M1664 776h0"/><path class="y13" d="M1673 777h0"/><path class="y19" d="M1697 807h0"/><path class="y28" d="M1727 816h0"/><path class="y37" d="M1766 815h0"/><path class="y38" d="M1770 813h0"/><path class="y0" d="M1660 796h0"/><path class="y2" d="M1670 795h0"/><path class="y3" d="M1676 801h0"/><path class="y4" d="M1680 795h0"/><path class="y20" d="M1749 815h0"/><path class="y32" d="M1803 824h0"/><path class="y35" d="M1821 830h0"/><path class="y2" d="M1734 816h0"/><path class="y3" d="M1741 807h0"/><path class="y4" d="M1748 798h0"/><path class="y30" d="M1871 844h0"/><path class="y36" d="M1911 823h0"/><path class="y37" d="M1917 831h0"/><path class="y6" d="M1743 791h0"/><path class="y34" d="M1893 806h0"/><path class="y38" d="M1911 799h0"/><path class="y0" d="M1677 796h0"/><path class="y1" d="M1681 799h0"/><path class="y3" d="M1691 788h0"/><path class="y9" d="M1727 813h0"/><path class="y10" d="M1733 815h0"/><path class="y11" d="M1737 812h0"/><path class="y12" d="M1745 813h0"/><path class="y17" d="M1764 808h0"/><path class="y21" d="M1783 828h0"/><path class="y22" d="M1787 829h0"/><path class="y24" d="M1796 826h0"/><path class="y29" d="M1816 811h0"/><path class="y34" d="M1853 836h0"/><path class="y35" d="M1857 837h0"/><path class="y0" d="M1633 785h0"/><path class="y1" d="M1637 785h0"/><path class="y3" d="M1647 794h0"/><path class="y6" d="M1666 783h0"/><path class="y7" d="M1674 800h0"/><path class="y8" d="M1679 797h0"/><path class="y9" d="M1686 800h0"/><path class="y10" d="M1693 806h0"/><path class="y11" d="M1698 804h0"/><path class="y12" d="M1704 802h0"/><path class="y13" d="M1711 809h0"/><path class="y14" d="M1716 815h0"/><path class="y15" d="M1720 811h0"/><path class="y16" d="M1722 808h0"/><path class="y18" d="M1730 814h0"/><path class="y19" d="M1734 812h0"/><path class="y20" d="M1737 816h0"/><path class="y21" d="M1741 816h0"/><path class="y22" d="M1746 817h0"/><path class="y23" d="M1750 809h0"/><path class="y26" d="M1762 799h0"/><path class="y29" d="M1776 821h0"/><path class="y30" d="M1781 827h0"/><path class="y31" d="M1787 829h0"/><path class="y32" d="M1793 832h0"/><path class="y33" d="M1801 830h0"/><path class="y34" d="M1812 820h0"/><path class="y35" d="M1818 826h0"/><path class="y36" d="M1825 830h0"/><path class="y37" d="M1830 822h0"/><path class="y38" d="M1836 833h0"/><path class="y0" d="M1624 775h0"/><path class="y1" d="M1631 790h0"/><path class="y2" d="M1634 781h0"/><path class="y3" d="M1641 778h0"/><path class="y4" d="M1647 784h0"/><path class="y5" d="M1654 776h0"/><path class="y6" d="M1661 795h0"/><path class="y7" d="M1665 790h0"/><path class="y8" d="M1673 783h0"/><path class="y9" d="M1679 769h0"/><path class="y10" d="M1683 784h0"/><path class="y11" d="M1690 762h0"/><path class="y14" d="M1706 782h0"/><path class="y15" d="M1709 789h0"/><path class="y16" d="M1715 775h0"/><path class="y17" d="M1722 794h0"/><path class="y18" d="M1724 797h0"/><path class="y19" d="M1728 789h0"/><path class="y20" d="M1734 801h0"/><path class="y23" d="M1751 798h0"/><path class="y28" d="M1781 818h0"/><path class="y31" d="M1792 757h0"/><path class="y0" d="M1693 781h0"/><path class="y1" d="M1696 792h0"/><path class="y2" d="M1699 780h0"/><path class="y3" d="M1703 805h0"/><path class="y4" d="M1705 801h0"/><path class="y5" d="M1709 793h0"/><path class="y6" d="M1711 773h0"/><path class="y7" d="M1715 779h0"/><path class="y8" d="M1721 781h0"/><path class="y9" d="M1722 786h0"/><path class="y10" d="M1728 804h0"/><path class="y19" d="M1774 812h0"/><path class="y20" d="M1778 813h0"/><path class="y23" d="M1792 817h0"/><path class="y26" d="M1802 818h0"/><path class="y31" d="M1815 818h0"/><path class="y33" d="M1820 807h0"/><path class="y35" d="M1834 820h0"/><path class="y36" d="M1841 831h0"/><path class="y1" d="M1759 816h0"/><path class="y2" d="M1764 793h0"/><path class="y6" d="M1778 757h0"/><path class="y8" d="M1787 757h0"/><path class="y9" d="M1793 761h0"/><path class="y21" d="M1863 782h0"/><path class="y24" d="M1881 815h0"/><path class="y38" d="M1944 812h0"/><path class="y0" d="M1718 755h0"/><path class="y1" d="M1725 756h0"/><path class="y2" d="M1731 760h0"/><path class="y3" d="M1738 768h0"/><path class="y4" d="M1744 773h0"/><path class="y5" d="M1750 767h0"/><path class="y12" d="M1783 759h0"/><path class="y13" d="M1787 761h0"/><path class="y18" d="M1810 763h0"/><path class="y19" d="M1815 769h0"/><path class="y20" d="M1822 759h0"/><path class="y22" d="M1835 770h0"/><path class="y23" d="M1840 777h0"/><path class="y24" d="M1847 778h0"/><path class="y25" d="M1854 782h0"/><path class="y29" d="M1873 786h0"/><path class="y30" d="M1878 792h0"/><path class="y31" d="M1883 784h0"/><path class="y33" d="M1893 796h0"/><path class="y38" d="M1921 804h0"/><path class="y4" d="M1770 750h0"/><path class="y7" d="M1782 813h0"/><path class="y8" d="M1788 822h0"/><path class="y9" d="M1791 815h0"/><path class="y17" d="M1831 825h0"/><path class="y18" d="M1836 825h0"/><path class="y19" d="M1843 814h0"/><path class="y24" d="M1866 837h0"/><path class="y25" d="M1871 841h0"/><path class="y26" d="M1873 845h0"/><path class="y27" d="M1876 833h0"/><path class="y28" d="M1880 846h0"/><path class="y29" d="M1877 846h0"/><path class="y30" d="M1879 842h0"/><path class="y31" d="M1884 840h0"/><path class="y32" d="M1887 843h0"/><path class="y33" d="M1892 842h0"/><path class="y34" d="M1902 838h0"/><path class="y35" d="M1909 838h0"/><path class="y36" d="M1911 838h0"/><path class="y37" d="M1918 832h0"/><path class="y38" d="M1923 841h0"/><path class="y0" d="M1741 789h0"/><path class="y1" d="M1745 772h0"/><path class="y2" d="M1750 771h0"/><path class="y11" d="M1797 767h0"/><path class="y14" d="M1812 769h0"/><path class="y17" d="M1824 813h0"/><path class="y22" d="M1847 786h0"/><path class="y23" d="M1852 793h0"/><path class="y25" d="M1864 787h0"/><path class="y26" d="M1869 788h0"/><path class="y28" d="M1879 809h0"/><path class="y30" d="M1883 803h0"/><path class="y31" d="M1890 818h0"/><path class="y32" d="M1894 806h0"/><path class="y33" d="M1899 807h0"/><path class="y37" d="M1923 807h0"/><path class="y38" d="M1929 817h0"/><path class="y1" d="M1753 769h0"/><path class="y2" d="M1761 771h0"/><path class="y3" d="M1765 764h0"/><path class="y5" d="M1774 793h0"/><path class="y6" d="M1778 759h0"/><path class="y9" d="M1790 765h0"/><path class="y10" d="M1795 775h0"/><path class="y12" d="M1802 768h0"/><path class="y14" d="M1811 802h0"/><path class="y16" d="M1817 798h0"/><path class="y17" d="M1819 804h0"/><path class="y18" d="M1822 782h0"/><path class="y19" d="M1827 771h0"/><path class="y20" d="M1830 778h0"/><path class="y21" d="M1832 782h0"/><path class="y22" d="M1836 764h0"/><path class="y23" d="M1840 779h0"/><path class="y24" d="M1843 783h0"/><path class="y25" d="M1850 793h0"/><path class="y26" d="M1853 800h0"/><path class="y28" d="M1862 794h0"/><path class="y29" d="M1862 787h0"/><path class="y30" d="M1866 801h0"/><path class="y31" d="M1872 794h0"/><path class="y32" d="M1877 799h0"/><path class="y33" d="M1881 803h0"/><path class="y34" d="M1891 796h0"/><path class="y35" d="M1892 798h0"/><path class="y36" d="M1897 799h0"/><path class="y37" d="M1900 798h0"/><path class="y38" d="M1902 792h0"/><path class="y4" d="M1768 769h0"/><path class="y5" d="M1772 786h0"/><path class="y6" d="M1777 806h0"/><path class="y7" d="M1783 795h0"/><path class="y9" d="M1789 783h0"/><path class="y10" d="M1794 783h0"/><path class="y12" d="M1805 773h0"/><path class="y14" d="M1817 797h0"/><path class="y25" d="M1855 810h0"/><path class="y26" d="M1857 805h0"/><path class="y27" d="M1862 809h0"/><path class="y28" d="M1865 832h0"/><path class="y29" d="M1863 817h0"/><path class="y30" d="M1866 809h0"/><path class="y31" d="M1872 809h0"/><path class="y32" d="M1876 814h0"/><path class="y33" d="M1883 819h0"/><path class="y36" d="M1901 816h0"/><path class="y37" d="M1906 813h0"/><path class="y0" d="M1638 795h0"/><path class="y1" d="M1643 772h0"/><path class="y2" d="M1652 791h0"/><path class="y3" d="M1660 784h0"/><path class="y4" d="M1668 769h0"/><path class="y5" d="M1678 756h0"/><path class="y6" d="M1685 761h0"/><path class="y7" d="M1694 777h0"/><path class="y8" d="M1704 780h0"/><path class="y9" d="M1712 780h0"/><path class="y10" d="M1719 801h0"/><path class="y11" d="M1729 790h0"/><path class="y12" d="M1734 771h0"/><path class="y13" d="M1740 779h0"/><path class="y15" d="M1755 789h0"/><path class="y16" d="M1759 808h0"/><path class="y17" d="M1765 802h0"/><path class="y18" d="M1768 759h0"/><path class="y21" d="M1787 764h0"/><path class="y23" d="M1798 815h0"/><path class="y24" d="M1805 808h0"/><path class="y27" d="M1831 787h0"/><path class="y29" d="M1838 809h0"/><path class="y30" d="M1848 807h0"/><path class="y31" d="M1857 823h0"/><path class="y32" d="M1866 830h0"/><path class="y33" d="M1876 820h0"/><path class="y34" d="M1892 822h0"/><path class="y35" d="M1899 833h0"/><path class="y36" d="M1905 821h0"/><path class="y37" d="M1910 819h0"/><path class="y38" d="M1918 827h0"/><path class="y0" d="M1745 780h0"/><path class="y1" d="M1750 778h0"/><path class="y2" d="M1757 757h0"/><path class="y6" d="M1776 770h0"/><path class="y7" d="M1784 767h0"/><path class="y8" d="M1788 801h0"/><path class="y9" d="M1794 810h0"/><path class="y10" d="M1801 811h0"/><path class="y14" d="M1818 772h0"/><path class="y15" d="M1824 793h0"/><path class="y16" d="M1829 803h0"/><path class="y17" d="M1832 804h0"/><path class="y18" d="M1839 796h0"/><path class="y19" d="M1842 823h0"/><path class="y20" d="M1846 815h0"/><path class="y21" d="M1852 830h0"/><path class="y22" d="M1856 828h0"/><path class="y23" d="M1862 827h0"/><path class="y24" d="M1866 833h0"/><path class="y25" d="M1873 819h0"/><path class="y26" d="M1877 828h0"/><path class="y27" d="M1884 840h0"/><path class="y28" d="M1890 830h0"/><path class="y29" d="M1888 837h0"/><path class="y30" d="M1893 834h0"/><path class="y31" d="M1899 828h0"/><path class="y32" d="M1902 824h0"/><path class="y33" d="M1909 838h0"/><path class="y34" d="M1920 836h0"/><path class="y35" d="M1925 834h0"/><path class="y36" d="M1931 817h0"/><path class="y37" d="M1934 809h0"/><path class="y38" d="M1940 806h0"/><path class="y0" d="M1763 790h0"/><path class="y1" d="M1768 773h0"/><path class="y2" d="M1778 769h0"/><path class="y3" d="M1783 779h0"/><path class="y4" d="M1790 803h0"/><path class="y5" d="M1795 785h0"/><path class="y6" d="M1799 796h0"/><path class="y7" d="M1807 776h0"/><path class="y8" d="M1811 786h0"/><path class="y9" d="M1816 794h0"/><path class="y10" d="M1821 806h0"/><path class="y11" d="M1822 814h0"/><path class="y12" d="M1826 804h0"/><path class="y13" d="M1831 811h0"/><path class="y14" d="M1835 792h0"/><path class="y15" d="M1838 783h0"/><path class="y16" d="M1842 787h0"/><path class="y17" d="M1849 797h0"/><path class="y18" d="M1850 801h0"/><path class="y19" d="M1859 822h0"/><path class="y20" d="M1865 818h0"/><path class="y21" d="M1869 816h0"/><path class="y22" d="M1878 834h0"/><path class="y23" d="M1884 833h0"/><path class="y24" d="M1892 823h0"/><path class="y25" d="M1898 823h0"/><path class="y26" d="M1906 810h0"/><path class="y27" d="M1911 803h0"/><path class="y28" d="M1917 814h0"/><path class="y29" d="M1915 824h0"/><path class="y30" d="M1922 821h0"/><path class="y31" d="M1928 821h0"/><path class="y32" d="M1931 823h0"/><path class="y33" d="M1936 822h0"/><path class="y34" d="M1947 810h0"/><path class="y35" d="M1951 816h0"/><path class="y36" d="M1956 817h0"/><path class="y37" d="M1958 819h0"/><path class="y38" d="M1962 813h0"/><path class="y0" d="M1712 783h0"/><path class="y1" d="M1715 783h0"/><path class="y2" d="M1718 784h0"/><path class="y3" d="M1722 781h0"/><path class="y4" d="M1725 780h0"/><path class="y5" d="M1728 778h0"/><path class="y6" d="M1731 780h0"/><path class="y7" d="M1734 779h0"/><path class="y8" d="M1737 781h0"/><path class="y9" d="M1740 779h0"/><path class="y10" d="M1743 783h0"/><path class="y11" d="M1746 784h0"/><path class="y12" d="M1748 781h0"/><path class="y13" d="M1751 780h0"/><path class="y14" d="M1754 778h0"/><path class="y15" d="M1757 776h0"/><path class="y16" d="M1759 782h0"/><path class="y17" d="M1762 778h0"/><path class="y18" d="M1764 785h0"/><path class="y19" d="M1767 781h0"/><path class="y20" d="M1769 782h0"/><path class="y21" d="M1772 783h0"/><path class="y22" d="M1774 783h0"/><path class="y23" d="M1777 786h0"/><path class="y24" d="M1780 787h0"/><path class="y25" d="M1782 789h0"/><path class="y26" d="M1785 790h0"/><path class="y27" d="M1787 792h0"/><path class="y28" d="M1790 789h0"/><path class="y29" d="M1789 789h0"/><path class="y30" d="M1792 789h0"/><path class="y31" d="M1795 789h0"/><path class="y32" d="M1798 796h0"/><path class="y33" d="M1801 789h0"/><path class="y34" d="M1808 792h0"/><path class="y35" d="M1811 786h0"/><path class="y36" d="M1814 781h0"/><path class="y37" d="M1817 788h0"/><path class="y38" d="M1820 787h0"/><path class="y0" d="M1477 735h0"/><path class="y1" d="M1510 745h0"/><path class="y2" d="M1531 757h0"/><path class="y1" d="M1509 795h0"/><path class="y3" d="M1561 798h0"/><path class="y6" d="M1579 797h0"/><path class="y8" d="M1599 798h0"/><path class="y0" d="M1660 843h0"/><path class="y15" d="M1678 738h0"/><path class="y21" d="M1686 817h0"/><path class="y19" d="M1644 816h0M1838 739h0"/><path class="y32" d="M1864 740h0"/><path class="y30" d="M1870 742h0"/><path class="y19" d="M1828 865h0"/><path class="y28" d="M1848 861h0"/><path class="y36" d="M1911 866h0"/><path class="y34" d="M1946 848h0"/><path class="y13" d="M1771 741h0"/><path class="y17" d="M1678 738h0"/><path class="y30" d="M1786 844h0"/><path class="y15" d="M1795 839h0"/><path class="y36" d="M1872 857h0M1889 852h0"/><path class="y30" d="M1917 852h0"/></g>
<path d="M1478.0 751.8L1966.2 815.6" stroke="#f00" stroke-width="9" fill="none"/>
<text transform="translate(1545.7,878.8) scale(1,1.050)" font-size="52.5" style="fill:#f00">−0.63</text>
<rect x="2005" y="299" width="538" height="106" fill="#d9d9d9"/>
<text transform="translate(2274.5,374.3) scale(1,1.050)" font-size="62.2" text-anchor="middle">30</text>
<rect x="2005" y="405" width="538" height="536" fill="#f4f4f4"/>
<path d="M2046.0 405V941M2205.0 405V941M2357.5 405V941M2510.0 405V941M2005 413.1H2543M2005 455.3H2543M2005 539.7H2543M2005 624.1H2543M2005 708.5H2543M2005 792.9H2543M2005 877.3H2543M2005 919.5H2543" stroke="#fff" stroke-width="4" fill="none"/>
<path d="M2125.5 405V941M2284.0 405V941M2431.0 405V941M2005 497.5H2543M2005 581.9H2543M2005 666.3H2543M2005 750.7H2543M2005 835.1H2543" stroke="#fff" stroke-width="7" fill="none"/>
<g class="P" clip-path="url(#c03)"><path class="y3" d="M2098 749h0"/><path class="y4" d="M2113 747h0"/><path class="y5" d="M2131 749h0"/><path class="y6" d="M2145 752h0"/><path class="y10" d="M2195 774h0"/><path class="y36" d="M2483 797h0"/><path class="y38" d="M2496 810h0"/><path class="y25" d="M2384 824h0"/><path class="y29" d="M2397 827h0"/><path class="y4" d="M2300 753h0"/><path class="y9" d="M2331 755h0"/><path class="y10" d="M2337 753h0"/><path class="y14" d="M2357 753h0"/><path class="y27" d="M2401 827h0"/><path class="y28" d="M2406 827h0"/><path class="y29" d="M2404 827h0"/><path class="y30" d="M2408 826h0"/><path class="y31" d="M2412 824h0"/><path class="y34" d="M2433 820h0"/><path class="y35" d="M2439 817h0"/><path class="y36" d="M2443 818h0"/><path class="y37" d="M2447 811h0"/><path class="y38" d="M2455 813h0"/><path class="y17" d="M2336 756h0"/><path class="y0" d="M2157 753h0"/><path class="y1" d="M2159 755h0"/><path class="y2" d="M2163 761h0"/><path class="y3" d="M2169 765h0"/><path class="y4" d="M2172 762h0"/><path class="y5" d="M2176 760h0"/><path class="y38" d="M2473 807h0"/><path class="y1" d="M2290 748h0"/><path class="y2" d="M2296 752h0"/><path class="y3" d="M2300 758h0"/><path class="y5" d="M2313 756h0"/><path class="y9" d="M2331 757h0"/><path class="y37" d="M2479 798h0"/><path class="y5" d="M2214 732h0"/><path class="y6" d="M2218 734h0"/><path class="y10" d="M2245 745h0"/><path class="y31" d="M2304 817h0"/><path class="y32" d="M2311 818h0"/><path class="y3" d="M2286 747h0"/><path class="y4" d="M2293 751h0"/><path class="y3" d="M2176 760h0"/><path class="y12" d="M2208 781h0"/><path class="y14" d="M2198 777h0"/><path class="y15" d="M2199 779h0"/><path class="y16" d="M2202 779h0"/><path class="y17" d="M2211 784h0"/><path class="y18" d="M2220 776h0"/><path class="y26" d="M2275 799h0"/><path class="y28" d="M2281 802h0"/><path class="y29" d="M2289 805h0"/><path class="y30" d="M2294 809h0"/><path class="y31" d="M2312 818h0"/><path class="y32" d="M2317 816h0"/><path class="y33" d="M2324 811h0"/><path class="y36" d="M2341 815h0"/><path class="y9" d="M2221 776h0"/><path class="y0" d="M2186 763h0"/><path class="y1" d="M2195 773h0"/><path class="y2" d="M2199 771h0"/><path class="y3" d="M2204 773h0"/><path class="y4" d="M2209 780h0"/><path class="y7" d="M2222 771h0"/><path class="y15" d="M2249 796h0"/><path class="y20" d="M2266 792h0"/><path class="y29" d="M2304 816h0"/><path class="y32" d="M2317 815h0"/><path class="y33" d="M2322 813h0"/><path class="y35" d="M2334 810h0"/><path class="y31" d="M2424 784h0"/><path class="y1" d="M2258 754h0"/><path class="y20" d="M2365 777h0"/><path class="y11" d="M2208 764h0"/><path class="y25" d="M2270 788h0"/><path class="y29" d="M2288 805h0"/><path class="y30" d="M2290 803h0"/><path class="y0" d="M2293 753h0"/><path class="y1" d="M2297 758h0"/><path class="y4" d="M2314 757h0"/><path class="y6" d="M2323 758h0"/><path class="y8" d="M2335 758h0"/><path class="y12" d="M2355 751h0"/><path class="y14" d="M2364 755h0"/><path class="y16" d="M2371 752h0"/><path class="y17" d="M2376 753h0"/><path class="y18" d="M2381 746h0"/><path class="y19" d="M2386 749h0"/><path class="y21" d="M2395 755h0"/><path class="y25" d="M2416 762h0"/><path class="y28" d="M2431 754h0"/><path class="y5" d="M2347 757h0"/><path class="y6" d="M2351 761h0"/><path class="y8" d="M2363 765h0"/><path class="y10" d="M2373 760h0"/><path class="y11" d="M2374 769h0"/><path class="y12" d="M2378 761h0"/><path class="y15" d="M2390 754h0"/><path class="y16" d="M2394 755h0"/><path class="y17" d="M2401 761h0"/><path class="y18" d="M2402 769h0"/><path class="y19" d="M2411 764h0"/><path class="y21" d="M2421 753h0"/><path class="y22" d="M2430 763h0"/><path class="y23" d="M2436 762h0"/><path class="y24" d="M2444 765h0"/><path class="y25" d="M2450 771h0"/><path class="y26" d="M2458 781h0"/><path class="y27" d="M2463 780h0"/><path class="y28" d="M2469 782h0"/><path class="y29" d="M2467 781h0"/><path class="y30" d="M2474 785h0"/><path class="y31" d="M2480 784h0"/><path class="y32" d="M2483 787h0"/><path class="y33" d="M2488 790h0"/><path class="y34" d="M2499 799h0"/><path class="y35" d="M2503 797h0"/><path class="y36" d="M2508 795h0"/><path class="y37" d="M2510 793h0"/><path class="y38" d="M2514 799h0"/><path class="y5" d="M2289 751h0"/><path class="y6" d="M2294 762h0"/><path class="y7" d="M2298 760h0"/><path class="y8" d="M2303 762h0"/><path class="y33" d="M2428 808h0"/><path class="y34" d="M2441 815h0"/><path class="y37" d="M2458 813h0"/><path class="y38" d="M2464 808h0"/><path class="y5" d="M2261 755h0"/><path class="y29" d="M2357 774h0"/><path class="y31" d="M2367 781h0"/><path class="y10" d="M2257 767h0"/><path class="y27" d="M2330 810h0"/><path class="y33" d="M2344 816h0"/><path class="y35" d="M2356 826h0"/><path class="y37" d="M2362 826h0"/><path class="y3" d="M2281 757h0"/><path class="y4" d="M2287 762h0"/><path class="y28" d="M2414 783h0"/><path class="y29" d="M2411 784h0"/><path class="y31" d="M2423 807h0"/><path class="y33" d="M2432 808h0"/><path class="y34" d="M2445 804h0"/><path class="y36" d="M2453 809h0"/><path class="y37" d="M2456 805h0"/><path class="y0" d="M2307 756h0"/><path class="y2" d="M2313 764h0"/><path class="y6" d="M2329 764h0"/><path class="y7" d="M2335 762h0"/><path class="y8" d="M2338 764h0"/><path class="y9" d="M2341 756h0"/><path class="y10" d="M2346 767h0"/><path class="y11" d="M2352 765h0"/><path class="y12" d="M2357 753h0"/><path class="y13" d="M2362 761h0"/><path class="y14" d="M2369 756h0"/><path class="y16" d="M2376 764h0"/><path class="y17" d="M2384 758h0"/><path class="y18" d="M2385 756h0"/><path class="y19" d="M2389 765h0"/><path class="y20" d="M2393 768h0"/><path class="y21" d="M2396 785h0"/><path class="y22" d="M2399 780h0"/><path class="y26" d="M2409 762h0"/><path class="y27" d="M2414 766h0"/><path class="y28" d="M2417 766h0"/><path class="y29" d="M2415 776h0"/><path class="y30" d="M2418 767h0"/><path class="y32" d="M2428 766h0"/><path class="y33" d="M2435 764h0"/><path class="y34" d="M2444 773h0"/><path class="y35" d="M2448 777h0"/><path class="y36" d="M2453 786h0"/><path class="y1" d="M2312 768h0"/><path class="y2" d="M2319 763h0"/><path class="y3" d="M2321 757h0"/><path class="y4" d="M2322 761h0"/><path class="y5" d="M2329 759h0"/><path class="y6" d="M2330 758h0"/><path class="y7" d="M2334 758h0"/><path class="y9" d="M2343 772h0"/><path class="y11" d="M2352 767h0"/><path class="y12" d="M2357 770h0"/><path class="y13" d="M2362 765h0"/><path class="y17" d="M2383 773h0"/><path class="y18" d="M2388 773h0"/><path class="y20" d="M2399 796h0"/><path class="y22" d="M2409 779h0"/><path class="y23" d="M2413 768h0"/><path class="y24" d="M2418 766h0"/><path class="y25" d="M2423 769h0"/><path class="y26" d="M2425 788h0"/><path class="y27" d="M2428 772h0"/><path class="y28" d="M2432 774h0"/><path class="y29" d="M2429 777h0"/><path class="y30" d="M2431 779h0"/><path class="y31" d="M2436 778h0"/><path class="y32" d="M2439 776h0"/><path class="y35" d="M2461 789h0"/><path class="y36" d="M2463 788h0"/><path class="y37" d="M2470 794h0"/><path class="y0" d="M2190 766h0"/><path class="y1" d="M2195 761h0"/><path class="y9" d="M2264 771h0"/><path class="y22" d="M2345 780h0"/><path class="y24" d="M2357 786h0"/><path class="y28" d="M2392 776h0"/><path class="y29" d="M2390 778h0"/><path class="y30" d="M2400 773h0"/><path class="y32" d="M2418 812h0"/><path class="y33" d="M2428 793h0"/><path class="y34" d="M2444 784h0"/><path class="y35" d="M2451 788h0"/><path class="y36" d="M2457 791h0"/><path class="y38" d="M2470 804h0"/><path class="y8" d="M2250 762h0"/><path class="y11" d="M2266 756h0"/><path class="y13" d="M2272 753h0"/><path class="y14" d="M2275 748h0"/><path class="y15" d="M2283 759h0"/><path class="y16" d="M2283 758h0"/><path class="y17" d="M2288 765h0"/><path class="y19" d="M2297 767h0"/><path class="y20" d="M2301 771h0"/><path class="y30" d="M2345 781h0"/><path class="y31" d="M2348 793h0"/><path class="y36" d="M2375 768h0"/><path class="y38" d="M2385 780h0"/><path class="y0" d="M2176 761h0"/><path class="y1" d="M2183 766h0"/><path class="y4" d="M2199 771h0"/><path class="y5" d="M2206 777h0"/><path class="y6" d="M2213 779h0"/><path class="y7" d="M2217 768h0"/><path class="y8" d="M2225 763h0"/><path class="y10" d="M2235 769h0"/><path class="y11" d="M2242 773h0"/><path class="y12" d="M2248 788h0"/><path class="y13" d="M2251 775h0"/><path class="y14" d="M2258 784h0"/><path class="y15" d="M2261 782h0"/><path class="y16" d="M2267 764h0"/><path class="y18" d="M2276 787h0"/><path class="y22" d="M2296 791h0"/><path class="y26" d="M2320 769h0"/><path class="y27" d="M2326 781h0"/><path class="y28" d="M2333 776h0"/><path class="y29" d="M2332 774h0"/><path class="y30" d="M2337 790h0"/><path class="y31" d="M2344 800h0"/><path class="y32" d="M2350 786h0"/><path class="y0" d="M2229 787h0"/><path class="y1" d="M2233 789h0"/><path class="y2" d="M2238 792h0"/><path class="y3" d="M2243 792h0"/><path class="y4" d="M2251 797h0"/><path class="y5" d="M2256 797h0"/><path class="y6" d="M2261 797h0"/><path class="y7" d="M2267 797h0"/><path class="y8" d="M2274 799h0"/><path class="y9" d="M2279 800h0"/><path class="y10" d="M2285 802h0"/><path class="y11" d="M2289 802h0"/><path class="y12" d="M2297 811h0"/><path class="y13" d="M2301 813h0"/><path class="y14" d="M2305 816h0"/><path class="y15" d="M2307 818h0"/><path class="y16" d="M2312 818h0"/><path class="y17" d="M2316 816h0"/><path class="y18" d="M2322 812h0"/><path class="y19" d="M2327 810h0"/><path class="y20" d="M2331 809h0"/><path class="y21" d="M2335 793h0"/><path class="y23" d="M2345 820h0"/><path class="y24" d="M2348 824h0"/><path class="y25" d="M2352 827h0"/><path class="y26" d="M2359 826h0"/><path class="y27" d="M2364 825h0"/><path class="y28" d="M2371 825h0"/><path class="y29" d="M2368 825h0"/><path class="y32" d="M2386 825h0"/><path class="y33" d="M2392 824h0"/><path class="y34" d="M2405 826h0"/><path class="y35" d="M2409 825h0"/><path class="y36" d="M2414 823h0"/><path class="y37" d="M2419 824h0"/><path class="y38" d="M2425 822h0"/><path class="y1" d="M2312 808h0"/><path class="y2" d="M2317 799h0"/><path class="y3" d="M2322 804h0"/><path class="y4" d="M2328 803h0"/><path class="y6" d="M2339 799h0"/><path class="y10" d="M2358 800h0"/><path class="y11" d="M2363 813h0"/><path class="y13" d="M2371 809h0"/><path class="y14" d="M2373 817h0"/><path class="y15" d="M2376 824h0"/><path class="y16" d="M2382 810h0"/><path class="y17" d="M2386 809h0"/><path class="y18" d="M2386 804h0"/><path class="y19" d="M2393 816h0"/><path class="y20" d="M2398 806h0"/><path class="y21" d="M2402 786h0"/><path class="y22" d="M2404 798h0"/><path class="y23" d="M2411 784h0"/><path class="y24" d="M2415 790h0"/><path class="y25" d="M2421 798h0"/><path class="y26" d="M2426 809h0"/><path class="y27" d="M2427 792h0"/><path class="y28" d="M2435 781h0"/><path class="y29" d="M2435 786h0"/><path class="y30" d="M2441 790h0"/><path class="y31" d="M2445 797h0"/><path class="y32" d="M2449 807h0"/><path class="y33" d="M2455 806h0"/><path class="y34" d="M2461 798h0"/><path class="y35" d="M2469 797h0"/><path class="y36" d="M2474 794h0"/><path class="y37" d="M2477 796h0"/><path class="y38" d="M2483 804h0"/><path class="y0" d="M2297 803h0"/><path class="y1" d="M2302 804h0"/><path class="y2" d="M2309 812h0"/><path class="y3" d="M2315 807h0"/><path class="y4" d="M2320 810h0"/><path class="y5" d="M2325 805h0"/><path class="y6" d="M2328 805h0"/><path class="y7" d="M2336 809h0"/><path class="y8" d="M2340 805h0"/><path class="y9" d="M2346 814h0"/><path class="y10" d="M2353 822h0"/><path class="y11" d="M2357 791h0"/><path class="y12" d="M2362 804h0"/><path class="y13" d="M2366 787h0"/><path class="y15" d="M2376 790h0"/><path class="y16" d="M2381 801h0"/><path class="y17" d="M2384 821h0"/><path class="y18" d="M2391 821h0"/><path class="y19" d="M2394 815h0"/><path class="y20" d="M2398 822h0"/><path class="y21" d="M2404 821h0"/><path class="y22" d="M2408 820h0"/><path class="y23" d="M2414 796h0"/><path class="y24" d="M2418 801h0"/><path class="y25" d="M2425 809h0"/><path class="y26" d="M2429 812h0"/><path class="y27" d="M2436 800h0"/><path class="y28" d="M2442 796h0"/><path class="y29" d="M2440 813h0"/><path class="y30" d="M2445 795h0"/><path class="y31" d="M2451 792h0"/><path class="y32" d="M2454 790h0"/><path class="y33" d="M2461 794h0"/><path class="y34" d="M2472 800h0"/><path class="y35" d="M2477 809h0"/><path class="y36" d="M2483 809h0"/><path class="y37" d="M2486 811h0"/><path class="y38" d="M2492 804h0"/><path class="y2" d="M2179 723h0"/><path class="y7" d="M2197 763h0"/><path class="y8" d="M2202 767h0"/><path class="y12" d="M2220 763h0"/><path class="y13" d="M2225 766h0"/><path class="y14" d="M2228 776h0"/><path class="y15" d="M2234 778h0"/><path class="y16" d="M2237 763h0"/><path class="y18" d="M2244 757h0"/><path class="y19" d="M2249 747h0"/><path class="y20" d="M2253 747h0"/><path class="y21" d="M2255 751h0"/><path class="y22" d="M2257 762h0"/><path class="y24" d="M2264 763h0"/><path class="y25" d="M2267 755h0"/><path class="y29" d="M2276 782h0"/><path class="y32" d="M2289 775h0"/><path class="y34" d="M2303 796h0"/><path class="y35" d="M2309 793h0"/><path class="y37" d="M2318 770h0"/><path class="y38" d="M2322 762h0"/><path class="y0" d="M2259 782h0"/><path class="y1" d="M2260 779h0"/><path class="y2" d="M2267 781h0"/><path class="y3" d="M2270 773h0"/><path class="y4" d="M2273 773h0"/><path class="y5" d="M2277 767h0"/><path class="y6" d="M2278 777h0"/><path class="y7" d="M2282 787h0"/><path class="y8" d="M2286 794h0"/><path class="y9" d="M2291 778h0"/><path class="y10" d="M2297 786h0"/><path class="y11" d="M2300 781h0"/><path class="y12" d="M2304 786h0"/><path class="y13" d="M2308 787h0"/><path class="y14" d="M2313 780h0"/><path class="y15" d="M2318 792h0"/><path class="y16" d="M2323 785h0"/><path class="y17" d="M2327 790h0"/><path class="y18" d="M2332 796h0"/><path class="y19" d="M2338 800h0"/><path class="y20" d="M2341 805h0"/><path class="y21" d="M2346 801h0"/><path class="y22" d="M2352 815h0"/><path class="y23" d="M2354 805h0"/><path class="y24" d="M2359 789h0"/><path class="y25" d="M2363 808h0"/><path class="y26" d="M2366 799h0"/><path class="y27" d="M2370 797h0"/><path class="y29" d="M2371 793h0"/><path class="y30" d="M2374 779h0"/><path class="y31" d="M2380 781h0"/><path class="y32" d="M2383 779h0"/><path class="y33" d="M2388 791h0"/><path class="y34" d="M2397 800h0"/><path class="y35" d="M2401 811h0"/><path class="y36" d="M2406 807h0"/><path class="y37" d="M2412 813h0"/><path class="y38" d="M2413 813h0"/><path class="y24" d="M2172 753h0"/><path class="y34" d="M2222 758h0"/><path class="y37" d="M2236 752h0"/><path class="y38" d="M2239 758h0"/><path class="y12" d="M2147 724h0"/><path class="y14" d="M2132 725h0"/><path class="y15" d="M2124 726h0"/><path class="y16" d="M2122 727h0"/><path class="y17" d="M2119 728h0"/><path class="y18" d="M2128 726h0"/><path class="y19" d="M2138 724h0"/><path class="y23" d="M2159 725h0"/><path class="y24" d="M2168 726h0"/><path class="y27" d="M2185 725h0"/><path class="y31" d="M2208 738h0"/><path class="y32" d="M2211 730h0"/><path class="y33" d="M2214 732h0"/><path class="y34" d="M2219 735h0"/><path class="y35" d="M2229 735h0"/><path class="y36" d="M2237 739h0"/><path class="y37" d="M2238 752h0"/><path class="y38" d="M2242 757h0"/><path class="y10" d="M2127 726h0"/><path class="y15" d="M2106 731h0"/><path class="y16" d="M2113 729h0"/><path class="y19" d="M2130 745h0"/><path class="y30" d="M2183 751h0"/><path class="y31" d="M2199 758h0"/><path class="y32" d="M2206 750h0"/><path class="y33" d="M2208 754h0"/><path class="y34" d="M2212 752h0"/><path class="y35" d="M2214 741h0"/><path class="y38" d="M2229 751h0"/><path class="y15" d="M2089 741h0"/><path class="y16" d="M2087 746h0"/><path class="y17" d="M2097 745h0"/><path class="y18" d="M2102 746h0"/><path class="y19" d="M2108 745h0"/><path class="y20" d="M2114 746h0"/><path class="y21" d="M2122 745h0"/><path class="y22" d="M2130 743h0"/><path class="y23" d="M2133 747h0"/><path class="y24" d="M2140 746h0"/><path class="y25" d="M2150 746h0"/><path class="y26" d="M2153 750h0"/><path class="y27" d="M2159 755h0"/><path class="y28" d="M2155 752h0"/><path class="y30" d="M2166 751h0"/><path class="y31" d="M2179 750h0"/><path class="y34" d="M2192 758h0"/><path class="y35" d="M2199 753h0"/><path class="y36" d="M2204 761h0"/><path class="y37" d="M2213 756h0"/><path class="y38" d="M2214 759h0"/><path class="y10" d="M2103 732h0"/><path class="y11" d="M2100 737h0"/><path class="y12" d="M2097 736h0"/><path class="y13" d="M2094 739h0"/><path class="y14" d="M2091 739h0"/><path class="y15" d="M2090 743h0"/><path class="y16" d="M2094 739h0"/><path class="y17" d="M2099 743h0"/><path class="y18" d="M2108 739h0"/><path class="y19" d="M2114 739h0"/><path class="y20" d="M2118 740h0"/><path class="y21" d="M2125 738h0"/><path class="y22" d="M2128 741h0"/><path class="y25" d="M2143 724h0"/><path class="y26" d="M2149 724h0"/><path class="y27" d="M2152 731h0"/><path class="y31" d="M2171 735h0"/><path class="y32" d="M2176 727h0"/><path class="y33" d="M2179 723h0"/><path class="y35" d="M2185 745h0"/><path class="y37" d="M2194 748h0"/><path class="y11" d="M2146 743h0"/><path class="y13" d="M2136 742h0"/><path class="y15" d="M2133 740h0"/><path class="y16" d="M2135 738h0"/><path class="y17" d="M2143 735h0"/><path class="y18" d="M2148 737h0"/><path class="y19" d="M2154 742h0"/><path class="y20" d="M2156 750h0"/><path class="y21" d="M2163 751h0"/><path class="y22" d="M2168 745h0"/><path class="y23" d="M2172 747h0"/><path class="y24" d="M2181 734h0"/><path class="y26" d="M2189 731h0"/><path class="y29" d="M2193 746h0"/><path class="y30" d="M2196 738h0"/><path class="y31" d="M2211 743h0"/><path class="y32" d="M2212 747h0"/><path class="y33" d="M2218 750h0"/><path class="y34" d="M2222 746h0"/><path class="y35" d="M2226 746h0"/><path class="y36" d="M2230 749h0"/><path class="y37" d="M2235 751h0"/><path class="y38" d="M2241 778h0"/><path class="y12" d="M2149 724h0"/><path class="y13" d="M2140 724h0"/><path class="y14" d="M2130 725h0"/><path class="y15" d="M2124 727h0"/><path class="y16" d="M2116 728h0"/><path class="y17" d="M2114 729h0"/><path class="y18" d="M2124 731h0"/><path class="y19" d="M2130 725h0"/><path class="y20" d="M2136 730h0"/><path class="y21" d="M2146 739h0"/><path class="y22" d="M2153 734h0"/><path class="y23" d="M2156 737h0"/><path class="y24" d="M2161 734h0"/><path class="y25" d="M2169 727h0"/><path class="y26" d="M2175 723h0"/><path class="y27" d="M2180 728h0"/><path class="y28" d="M2180 726h0"/><path class="y29" d="M2182 740h0"/><path class="y30" d="M2191 734h0"/><path class="y31" d="M2201 740h0"/><path class="y32" d="M2207 739h0"/><path class="y33" d="M2215 743h0"/><path class="y34" d="M2221 736h0"/><path class="y35" d="M2225 742h0"/><path class="y36" d="M2230 737h0"/><path class="y37" d="M2235 747h0"/><path class="y38" d="M2240 744h0"/><path class="y0" d="M2264 763h0"/><path class="y1" d="M2267 763h0"/><path class="y2" d="M2270 764h0"/><path class="y3" d="M2274 764h0"/><path class="y4" d="M2277 763h0"/><path class="y5" d="M2280 762h0"/><path class="y6" d="M2283 764h0"/><path class="y7" d="M2286 764h0"/><path class="y8" d="M2289 766h0"/><path class="y9" d="M2292 767h0"/><path class="y10" d="M2295 772h0"/><path class="y11" d="M2298 773h0"/><path class="y12" d="M2300 777h0"/><path class="y13" d="M2303 780h0"/><path class="y14" d="M2306 782h0"/><path class="y15" d="M2309 781h0"/><path class="y16" d="M2311 783h0"/><path class="y17" d="M2314 784h0"/><path class="y18" d="M2316 783h0"/><path class="y19" d="M2319 783h0"/><path class="y20" d="M2321 782h0"/><path class="y21" d="M2324 777h0"/><path class="y22" d="M2326 776h0"/><path class="y23" d="M2329 774h0"/><path class="y24" d="M2332 775h0"/><path class="y25" d="M2334 775h0"/><path class="y26" d="M2337 775h0"/><path class="y27" d="M2339 778h0"/><path class="y28" d="M2342 778h0"/><path class="y29" d="M2341 778h0"/><path class="y30" d="M2344 783h0"/><path class="y31" d="M2347 786h0"/><path class="y32" d="M2350 787h0"/><path class="y33" d="M2353 788h0"/><path class="y34" d="M2360 787h0"/><path class="y35" d="M2363 788h0"/><path class="y36" d="M2366 790h0"/><path class="y37" d="M2369 795h0"/><path class="y38" d="M2372 792h0"/><path class="y0" d="M2029 716h0"/><path class="y1" d="M2062 734h0"/><path class="y2" d="M2083 726h0"/><path class="y1" d="M2061 751h0"/><path class="y3" d="M2097 780h0"/><path class="y6" d="M2158 786h0"/><path class="y17" d="M2159 806h0"/><path class="y0" d="M2212 810h0"/><path class="y19" d="M2224 806h0"/><path class="y1" d="M2227 834h0"/><path class="y4" d="M2252 809h0"/><path class="y8" d="M2265 808h0"/><path class="y11" d="M2302 843h0"/><path class="y13" d="M2309 851h0"/><path class="y11" d="M2290 735h0"/><path class="y17" d="M2353 737h0"/><path class="y2" d="M2340 744h0"/><path class="y27" d="M2382 745h0"/><path class="y34" d="M2427 753h0M2442 752h0"/><path class="y36" d="M2509 823h0"/><path class="y28" d="M2347 829h0"/></g>
<path d="M2030.0 734.7L2518.2 805.3" stroke="#f00" stroke-width="9" fill="none"/>
<text transform="translate(2097.7,878.8) scale(1,1.050)" font-size="52.5" style="fill:#f00">−0.7</text>
<rect x="2557" y="299" width="538" height="106" fill="#d9d9d9"/>
<text transform="translate(2826.5,374.3) scale(1,1.050)" font-size="62.2" text-anchor="middle">40</text>
<rect x="2557" y="405" width="538" height="536" fill="#f4f4f4"/>
<path d="M2598.0 405V941M2757.0 405V941M2909.5 405V941M3062.0 405V941M2557 413.1H3095M2557 455.3H3095M2557 539.7H3095M2557 624.1H3095M2557 708.5H3095M2557 792.9H3095M2557 877.3H3095M2557 919.5H3095" stroke="#fff" stroke-width="4" fill="none"/>
<path d="M2677.5 405V941M2836.0 405V941M2983.0 405V941M2557 497.5H3095M2557 581.9H3095M2557 666.3H3095M2557 750.7H3095M2557 835.1H3095" stroke="#fff" stroke-width="7" fill="none"/>
<g class="P" clip-path="url(#c04)"><path class="y3" d="M2650 705h0"/><path class="y4" d="M2665 706h0"/><path class="y26" d="M2991 786h0"/><path class="y38" d="M3048 774h0"/><path class="y16" d="M2917 775h0"/><path class="y29" d="M2956 784h0"/><path class="y0" d="M2818 721h0"/><path class="y10" d="M2862 726h0"/><path class="y11" d="M2865 731h0"/><path class="y14" d="M2876 732h0"/><path class="y15" d="M2878 731h0"/><path class="y16" d="M2885 733h0"/><path class="y17" d="M2888 734h0"/><path class="y18" d="M2892 734h0"/><path class="y29" d="M2940 741h0"/><path class="y31" d="M2948 741h0"/><path class="y35" d="M2967 750h0"/><path class="y15" d="M2763 746h0"/><path class="y16" d="M2767 745h0"/><path class="y17" d="M2770 745h0"/><path class="y27" d="M2986 754h0"/><path class="y28" d="M2992 757h0"/><path class="y29" d="M2989 757h0"/><path class="y35" d="M3023 766h0"/><path class="y36" d="M3026 767h0"/><path class="y38" d="M3036 768h0"/><path class="y14" d="M2820 724h0"/><path class="y31" d="M2856 764h0"/><path class="y33" d="M2867 772h0"/><path class="y1" d="M2826 759h0"/><path class="y17" d="M2907 770h0"/><path class="y19" d="M2916 775h0"/><path class="y20" d="M2922 774h0"/><path class="y21" d="M2929 777h0"/><path class="y22" d="M2933 779h0"/><path class="y36" d="M3010 787h0"/><path class="y37" d="M3013 785h0"/><path class="y38" d="M3018 784h0"/><path class="y0" d="M2715 730h0"/><path class="y1" d="M2719 731h0"/><path class="y2" d="M2725 736h0"/><path class="y3" d="M2728 736h0"/><path class="y4" d="M2732 738h0"/><path class="y5" d="M2738 743h0"/><path class="y6" d="M2742 745h0"/><path class="y9" d="M2754 745h0"/><path class="y11" d="M2765 745h0"/><path class="y15" d="M2777 747h0"/><path class="y20" d="M2795 747h0"/><path class="y22" d="M2803 750h0"/><path class="y23" d="M2805 749h0"/><path class="y25" d="M2813 753h0"/><path class="y26" d="M2816 756h0"/><path class="y27" d="M2822 757h0"/><path class="y30" d="M2829 760h0"/><path class="y31" d="M2835 761h0"/><path class="y32" d="M2837 761h0"/><path class="y33" d="M2843 761h0"/><path class="y34" d="M2851 762h0"/><path class="y13" d="M2861 730h0"/><path class="y22" d="M2807 749h0"/><path class="y24" d="M2819 754h0"/><path class="y25" d="M2823 758h0"/><path class="y29" d="M2836 761h0"/><path class="y34" d="M2870 773h0"/><path class="y37" d="M2882 774h0"/><path class="y38" d="M2892 773h0"/><path class="y15" d="M2801 720h0"/><path class="y33" d="M2985 787h0"/><path class="y13" d="M2882 738h0"/><path class="y14" d="M2888 736h0"/><path class="y15" d="M2892 735h0"/><path class="y16" d="M2897 735h0"/><path class="y17" d="M2901 739h0"/><path class="y18" d="M2908 741h0"/><path class="y24" d="M2933 741h0"/><path class="y25" d="M2938 740h0"/><path class="y26" d="M2942 742h0"/><path class="y28" d="M2954 746h0"/><path class="y30" d="M2960 746h0"/><path class="y31" d="M2964 749h0"/><path class="y32" d="M2972 751h0"/><path class="y33" d="M2979 752h0"/><path class="y34" d="M2994 757h0"/><path class="y35" d="M2998 756h0"/><path class="y36" d="M3004 758h0"/><path class="y38" d="M3016 762h0"/><path class="y19" d="M2777 747h0"/><path class="y22" d="M2800 745h0"/><path class="y24" d="M2814 751h0"/><path class="y25" d="M2822 757h0"/><path class="y26" d="M2830 759h0"/><path class="y27" d="M2836 761h0"/><path class="y28" d="M2831 760h0"/><path class="y29" d="M2840 761h0"/><path class="y30" d="M2842 761h0"/><path class="y31" d="M2858 766h0"/><path class="y32" d="M2863 770h0"/><path class="y33" d="M2874 774h0"/><path class="y35" d="M2884 773h0"/><path class="y36" d="M2890 773h0"/><path class="y37" d="M2896 773h0"/><path class="y38" d="M2901 773h0"/><path class="y13" d="M2910 742h0"/><path class="y14" d="M2916 745h0"/><path class="y38" d="M3033 766h0"/><path class="y28" d="M3021 781h0"/><path class="y29" d="M3019 782h0"/><path class="y30" d="M3026 779h0"/><path class="y31" d="M3032 775h0"/><path class="y32" d="M3035 773h0"/><path class="y33" d="M3040 773h0"/><path class="y34" d="M3051 770h0"/><path class="y35" d="M3055 771h0"/><path class="y36" d="M3060 771h0"/><path class="y37" d="M3062 770h0"/><path class="y38" d="M3066 771h0"/><path class="y21" d="M2887 736h0"/><path class="y38" d="M2956 774h0"/><path class="y8" d="M2804 746h0"/><path class="y9" d="M2808 749h0"/><path class="y10" d="M2809 751h0"/><path class="y12" d="M2819 752h0"/><path class="y23" d="M2865 768h0"/><path class="y26" d="M2876 771h0"/><path class="y37" d="M2914 772h0"/><path class="y33" d="M2984 786h0"/><path class="y13" d="M2914 745h0"/><path class="y24" d="M2956 772h0"/><path class="y25" d="M2959 773h0"/><path class="y33" d="M2987 757h0"/><path class="y36" d="M3005 782h0"/><path class="y37" d="M3010 780h0"/><path class="y8" d="M2892 752h0"/><path class="y17" d="M2935 745h0"/><path class="y18" d="M2940 743h0"/><path class="y19" d="M2947 749h0"/><path class="y28" d="M2984 762h0"/><path class="y29" d="M2981 761h0"/><path class="y33" d="M2996 759h0"/><path class="y34" d="M3006 759h0"/><path class="y35" d="M3013 764h0"/><path class="y36" d="M3015 763h0"/><path class="y37" d="M3022 766h0"/><path class="y38" d="M3027 767h0"/><path class="y0" d="M2742 745h0"/><path class="y1" d="M2747 746h0"/><path class="y2" d="M2756 746h0"/><path class="y3" d="M2764 746h0"/><path class="y4" d="M2772 744h0"/><path class="y5" d="M2782 744h0"/><path class="y7" d="M2798 744h0"/><path class="y8" d="M2808 745h0"/><path class="y9" d="M2816 748h0"/><path class="y10" d="M2823 752h0"/><path class="y12" d="M2838 759h0"/><path class="y13" d="M2844 761h0"/><path class="y14" d="M2851 762h0"/><path class="y15" d="M2859 763h0"/><path class="y16" d="M2863 767h0"/><path class="y17" d="M2869 769h0"/><path class="y18" d="M2872 770h0"/><path class="y19" d="M2881 774h0"/><path class="y20" d="M2885 771h0"/><path class="y21" d="M2891 773h0"/><path class="y22" d="M2897 772h0"/><path class="y23" d="M2902 773h0"/><path class="y25" d="M2918 773h0"/><path class="y27" d="M2935 776h0"/><path class="y28" d="M2944 780h0"/><path class="y29" d="M2942 779h0"/><path class="y30" d="M2952 784h0"/><path class="y31" d="M2961 783h0"/><path class="y32" d="M2970 787h0"/><path class="y33" d="M2980 790h0"/><path class="y34" d="M2996 789h0"/><path class="y35" d="M3003 787h0"/><path class="y36" d="M3009 786h0"/><path class="y37" d="M3014 784h0"/><path class="y38" d="M3022 777h0"/><path class="y0" d="M2764 714h0"/><path class="y2" d="M2774 714h0"/><path class="y5" d="M2789 734h0"/><path class="y7" d="M2800 721h0"/><path class="y8" d="M2802 722h0"/><path class="y19" d="M2849 735h0"/><path class="y23" d="M2869 761h0"/><path class="y29" d="M2890 769h0"/><path class="y32" d="M2907 768h0"/><path class="y33" d="M2912 768h0"/><path class="y34" d="M2919 768h0"/><path class="y35" d="M2925 771h0"/><path class="y36" d="M2927 775h0"/><path class="y37" d="M2931 774h0"/><path class="y38" d="M2937 769h0"/><path class="y4" d="M2751 735h0"/><path class="y5" d="M2758 735h0"/><path class="y6" d="M2765 737h0"/><path class="y12" d="M2800 736h0"/><path class="y13" d="M2803 741h0"/><path class="y14" d="M2810 738h0"/><path class="y15" d="M2813 743h0"/><path class="y17" d="M2826 752h0"/><path class="y19" d="M2832 752h0"/><path class="y22" d="M2848 752h0"/><path class="y23" d="M2855 753h0"/><path class="y29" d="M2884 768h0"/><path class="y30" d="M2889 765h0"/><path class="y32" d="M2902 764h0"/><path class="y38" d="M2942 768h0"/><path class="y0" d="M2781 743h0"/><path class="y1" d="M2785 745h0"/><path class="y2" d="M2790 746h0"/><path class="y3" d="M2795 742h0"/><path class="y4" d="M2803 743h0"/><path class="y5" d="M2808 746h0"/><path class="y6" d="M2813 746h0"/><path class="y7" d="M2819 746h0"/><path class="y8" d="M2826 754h0"/><path class="y9" d="M2831 751h0"/><path class="y10" d="M2837 752h0"/><path class="y11" d="M2841 750h0"/><path class="y12" d="M2849 748h0"/><path class="y13" d="M2853 752h0"/><path class="y17" d="M2868 762h0"/><path class="y20" d="M2883 764h0"/><path class="y24" d="M2900 748h0"/><path class="y29" d="M2920 746h0"/><path class="y30" d="M2926 742h0"/><path class="y32" d="M2938 747h0"/><path class="y33" d="M2944 750h0"/><path class="y36" d="M2966 754h0"/><path class="y37" d="M2971 757h0"/><path class="y2" d="M2869 741h0"/><path class="y3" d="M2874 746h0"/><path class="y4" d="M2880 744h0"/><path class="y5" d="M2885 743h0"/><path class="y6" d="M2891 738h0"/><path class="y7" d="M2895 736h0"/><path class="y8" d="M2901 739h0"/><path class="y9" d="M2905 740h0"/><path class="y10" d="M2910 744h0"/><path class="y11" d="M2915 749h0"/><path class="y12" d="M2917 748h0"/><path class="y17" d="M2938 750h0"/><path class="y18" d="M2938 751h0"/><path class="y19" d="M2945 756h0"/><path class="y20" d="M2950 766h0"/><path class="y21" d="M2954 750h0"/><path class="y22" d="M2956 748h0"/><path class="y23" d="M2963 749h0"/><path class="y26" d="M2978 758h0"/><path class="y27" d="M2979 772h0"/><path class="y28" d="M2987 764h0"/><path class="y29" d="M2987 762h0"/><path class="y30" d="M2993 759h0"/><path class="y31" d="M2997 767h0"/><path class="y32" d="M3001 768h0"/><path class="y33" d="M3007 773h0"/><path class="y34" d="M3013 768h0"/><path class="y35" d="M3021 767h0"/><path class="y36" d="M3026 769h0"/><path class="y37" d="M3029 767h0"/><path class="y38" d="M3035 767h0"/><path class="y0" d="M2849 749h0"/><path class="y1" d="M2854 750h0"/><path class="y2" d="M2861 760h0"/><path class="y3" d="M2867 763h0"/><path class="y4" d="M2872 760h0"/><path class="y5" d="M2877 757h0"/><path class="y6" d="M2880 759h0"/><path class="y7" d="M2888 763h0"/><path class="y8" d="M2892 763h0"/><path class="y9" d="M2898 764h0"/><path class="y10" d="M2905 759h0"/><path class="y12" d="M2914 765h0"/><path class="y14" d="M2922 766h0"/><path class="y15" d="M2928 764h0"/><path class="y16" d="M2933 766h0"/><path class="y17" d="M2936 764h0"/><path class="y18" d="M2943 768h0"/><path class="y19" d="M2946 764h0"/><path class="y21" d="M2956 768h0"/><path class="y22" d="M2960 769h0"/><path class="y23" d="M2966 771h0"/><path class="y24" d="M2970 774h0"/><path class="y25" d="M2977 767h0"/><path class="y26" d="M2981 781h0"/><path class="y27" d="M2988 777h0"/><path class="y28" d="M2994 778h0"/><path class="y29" d="M2992 779h0"/><path class="y30" d="M2997 769h0"/><path class="y31" d="M3003 768h0"/><path class="y32" d="M3006 773h0"/><path class="y33" d="M3013 772h0"/><path class="y34" d="M3024 771h0"/><path class="y35" d="M3029 774h0"/><path class="y36" d="M3035 771h0"/><path class="y37" d="M3038 772h0"/><path class="y38" d="M3044 771h0"/><path class="y1" d="M2726 708h0"/><path class="y2" d="M2731 711h0"/><path class="y8" d="M2754 715h0"/><path class="y9" d="M2758 714h0"/><path class="y12" d="M2772 715h0"/><path class="y13" d="M2777 718h0"/><path class="y14" d="M2780 717h0"/><path class="y15" d="M2786 717h0"/><path class="y18" d="M2796 716h0"/><path class="y19" d="M2801 725h0"/><path class="y20" d="M2805 728h0"/><path class="y21" d="M2807 728h0"/><path class="y22" d="M2809 723h0"/><path class="y23" d="M2814 724h0"/><path class="y27" d="M2825 722h0"/><path class="y28" d="M2831 724h0"/><path class="y29" d="M2828 724h0"/><path class="y30" d="M2834 725h0"/><path class="y31" d="M2836 722h0"/><path class="y32" d="M2841 721h0"/><path class="y33" d="M2846 722h0"/><path class="y34" d="M2855 725h0"/><path class="y35" d="M2861 731h0"/><path class="y36" d="M2867 730h0"/><path class="y37" d="M2870 730h0"/><path class="y38" d="M2874 732h0"/><path class="y0" d="M2811 730h0"/><path class="y1" d="M2812 727h0"/><path class="y2" d="M2819 734h0"/><path class="y3" d="M2822 743h0"/><path class="y4" d="M2825 733h0"/><path class="y5" d="M2829 738h0"/><path class="y6" d="M2830 744h0"/><path class="y7" d="M2834 740h0"/><path class="y8" d="M2838 736h0"/><path class="y9" d="M2843 736h0"/><path class="y10" d="M2849 743h0"/><path class="y11" d="M2852 744h0"/><path class="y12" d="M2856 745h0"/><path class="y13" d="M2860 760h0"/><path class="y14" d="M2865 764h0"/><path class="y16" d="M2875 752h0"/><path class="y17" d="M2879 752h0"/><path class="y18" d="M2884 750h0"/><path class="y19" d="M2890 752h0"/><path class="y20" d="M2893 755h0"/><path class="y21" d="M2898 755h0"/><path class="y22" d="M2904 750h0"/><path class="y23" d="M2906 759h0"/><path class="y24" d="M2911 758h0"/><path class="y25" d="M2915 755h0"/><path class="y26" d="M2918 756h0"/><path class="y29" d="M2923 746h0"/><path class="y30" d="M2926 758h0"/><path class="y31" d="M2932 745h0"/><path class="y32" d="M2935 750h0"/><path class="y33" d="M2940 757h0"/><path class="y34" d="M2949 754h0"/><path class="y35" d="M2953 762h0"/><path class="y36" d="M2958 756h0"/><path class="y37" d="M2964 759h0"/><path class="y38" d="M2965 759h0"/><path class="y10" d="M2686 704h0"/><path class="y11" d="M2678 705h0"/><path class="y12" d="M2678 705h0"/><path class="y13" d="M2675 705h0"/><path class="y14" d="M2673 705h0"/><path class="y15" d="M2673 705h0"/><path class="y16" d="M2678 705h0"/><path class="y23" d="M2721 711h0"/><path class="y31" d="M2759 716h0"/><path class="y32" d="M2765 714h0"/><path class="y33" d="M2771 719h0"/><path class="y34" d="M2774 720h0"/><path class="y17" d="M2671 706h0"/><path class="y18" d="M2680 706h0"/><path class="y22" d="M2708 708h0"/><path class="y32" d="M2763 731h0"/><path class="y35" d="M2781 717h0"/><path class="y36" d="M2789 715h0"/><path class="y37" d="M2790 718h0"/><path class="y38" d="M2794 720h0"/><path class="y11" d="M2675 708h0"/><path class="y12" d="M2668 706h0"/><path class="y13" d="M2667 706h0"/><path class="y14" d="M2661 706h0"/><path class="y15" d="M2658 706h0"/><path class="y16" d="M2665 706h0"/><path class="y17" d="M2671 707h0"/><path class="y20" d="M2692 714h0"/><path class="y31" d="M2751 730h0"/><path class="y32" d="M2758 727h0"/><path class="y34" d="M2764 727h0"/><path class="y36" d="M2773 719h0"/><path class="y38" d="M2781 733h0"/><path class="y11" d="M2657 705h0"/><path class="y12" d="M2650 705h0"/><path class="y13" d="M2648 705h0"/><path class="y14" d="M2642 704h0"/><path class="y15" d="M2641 704h0"/><path class="y16" d="M2639 704h0"/><path class="y17" d="M2649 705h0"/><path class="y18" d="M2654 705h0"/><path class="y19" d="M2660 706h0"/><path class="y20" d="M2666 706h0"/><path class="y21" d="M2674 705h0"/><path class="y22" d="M2682 706h0"/><path class="y30" d="M2718 715h0"/><path class="y32" d="M2735 713h0"/><path class="y36" d="M2756 720h0"/><path class="y38" d="M2766 734h0"/><path class="y10" d="M2655 705h0"/><path class="y11" d="M2652 705h0"/><path class="y12" d="M2649 705h0"/><path class="y13" d="M2646 705h0"/><path class="y14" d="M2643 704h0"/><path class="y15" d="M2642 704h0"/><path class="y16" d="M2646 705h0"/><path class="y17" d="M2651 705h0"/><path class="y18" d="M2660 706h0"/><path class="y19" d="M2666 707h0"/><path class="y20" d="M2670 706h0"/><path class="y21" d="M2677 707h0"/><path class="y22" d="M2680 708h0"/><path class="y23" d="M2684 711h0"/><path class="y24" d="M2689 712h0"/><path class="y26" d="M2701 720h0"/><path class="y27" d="M2704 723h0"/><path class="y28" d="M2699 719h0"/><path class="y30" d="M2709 724h0"/><path class="y31" d="M2723 730h0"/><path class="y32" d="M2728 732h0"/><path class="y33" d="M2731 731h0"/><path class="y35" d="M2737 737h0"/><path class="y36" d="M2744 730h0"/><path class="y37" d="M2746 733h0"/><path class="y38" d="M2747 731h0"/><path class="y10" d="M2704 706h0"/><path class="y11" d="M2698 705h0"/><path class="y12" d="M2691 704h0"/><path class="y13" d="M2688 704h0"/><path class="y14" d="M2686 704h0"/><path class="y15" d="M2685 705h0"/><path class="y16" d="M2687 704h0"/><path class="y17" d="M2695 704h0"/><path class="y18" d="M2700 706h0"/><path class="y19" d="M2706 709h0"/><path class="y20" d="M2708 715h0"/><path class="y21" d="M2715 709h0"/><path class="y22" d="M2720 710h0"/><path class="y23" d="M2724 712h0"/><path class="y24" d="M2733 715h0"/><path class="y25" d="M2736 717h0"/><path class="y26" d="M2741 715h0"/><path class="y27" d="M2745 711h0"/><path class="y28" d="M2740 715h0"/><path class="y29" d="M2745 724h0"/><path class="y30" d="M2748 717h0"/><path class="y31" d="M2763 719h0"/><path class="y32" d="M2764 720h0"/><path class="y33" d="M2770 722h0"/><path class="y35" d="M2778 723h0"/><path class="y36" d="M2782 730h0"/><path class="y37" d="M2787 728h0"/><path class="y38" d="M2793 728h0"/><path class="y12" d="M2701 711h0"/><path class="y13" d="M2692 711h0"/><path class="y14" d="M2682 709h0"/><path class="y15" d="M2676 708h0"/><path class="y16" d="M2668 706h0"/><path class="y17" d="M2666 707h0"/><path class="y18" d="M2676 709h0"/><path class="y19" d="M2682 710h0"/><path class="y20" d="M2688 712h0"/><path class="y21" d="M2698 717h0"/><path class="y22" d="M2705 722h0"/><path class="y23" d="M2708 721h0"/><path class="y24" d="M2713 723h0"/><path class="y25" d="M2721 724h0"/><path class="y26" d="M2727 725h0"/><path class="y27" d="M2732 728h0"/><path class="y28" d="M2732 720h0"/><path class="y29" d="M2734 723h0"/><path class="y30" d="M2743 723h0"/><path class="y31" d="M2753 727h0"/><path class="y32" d="M2759 723h0"/><path class="y33" d="M2767 727h0"/><path class="y34" d="M2773 732h0"/><path class="y35" d="M2777 726h0"/><path class="y36" d="M2782 729h0"/><path class="y37" d="M2787 729h0"/><path class="y38" d="M2792 729h0"/><path class="y0" d="M2816 731h0"/><path class="y1" d="M2819 732h0"/><path class="y2" d="M2822 734h0"/><path class="y3" d="M2826 733h0"/><path class="y4" d="M2829 734h0"/><path class="y5" d="M2832 735h0"/><path class="y6" d="M2835 736h0"/><path class="y7" d="M2838 735h0"/><path class="y8" d="M2841 735h0"/><path class="y9" d="M2844 736h0"/><path class="y10" d="M2847 738h0"/><path class="y11" d="M2850 737h0"/><path class="y12" d="M2852 741h0"/><path class="y13" d="M2855 742h0"/><path class="y14" d="M2858 743h0"/><path class="y15" d="M2861 744h0"/><path class="y16" d="M2863 746h0"/><path class="y17" d="M2866 750h0"/><path class="y18" d="M2868 751h0"/><path class="y19" d="M2871 750h0"/><path class="y20" d="M2873 752h0"/><path class="y21" d="M2876 751h0"/><path class="y22" d="M2878 751h0"/><path class="y23" d="M2881 751h0"/><path class="y24" d="M2884 752h0"/><path class="y25" d="M2886 752h0"/><path class="y26" d="M2889 751h0"/><path class="y27" d="M2891 752h0"/><path class="y28" d="M2894 752h0"/><path class="y29" d="M2893 754h0"/><path class="y30" d="M2896 755h0"/><path class="y31" d="M2899 755h0"/><path class="y32" d="M2902 755h0"/><path class="y33" d="M2905 756h0"/><path class="y34" d="M2912 757h0"/><path class="y35" d="M2915 759h0"/><path class="y36" d="M2918 761h0"/><path class="y37" d="M2921 761h0"/><path class="y38" d="M2924 761h0"/><path class="y1" d="M2613 692h0"/><path class="y0" d="M2581 712h0"/><path class="y1" d="M2614 738h0"/><path class="y2" d="M2635 763h0"/><path class="y15" d="M2648 729h0"/><path class="y8" d="M2703 758h0M2703 770h0"/><path class="y10" d="M2712 775h0"/><path class="y2" d="M2804 773h0M2799 783h0"/><path class="y4" d="M2845 784h0M2905 712h0"/><path class="y8" d="M2905 721h0"/><path class="y13" d="M2876 794h0"/><path class="y15" d="M2889 794h0"/><path class="y16" d="M2897 798h0"/><path class="y19" d="M2917 799h0"/><path class="y21" d="M2940 801h0"/><path class="y23" d="M2953 803h0"/><path class="y36" d="M2980 801h0"/><path class="y34" d="M2855 713h0"/><path class="y28" d="M2945 725h0"/><path class="y19" d="M2958 726h0"/><path class="y4" d="M2809 709h0"/><path class="y17" d="M2770 704h0"/><path class="y11" d="M2741 702h0"/></g>
<path d="M2582.0 700.9L3070.2 775.9" stroke="#f00" stroke-width="9" fill="none"/>
<text transform="translate(2649.7,878.8) scale(1,1.050)" font-size="52.5" style="fill:#f00">−0.8</text>
<rect x="3109" y="299" width="538" height="106" fill="#d9d9d9"/>
<text transform="translate(3378.5,374.3) scale(1,1.050)" font-size="62.2" text-anchor="middle">50</text>
<rect x="3109" y="405" width="538" height="536" fill="#f4f4f4"/>
<path d="M3150.0 405V941M3309.0 405V941M3461.5 405V941M3614.0 405V941M3109 413.1H3647M3109 455.3H3647M3109 539.7H3647M3109 624.1H3647M3109 708.5H3647M3109 792.9H3647M3109 877.3H3647M3109 919.5H3647" stroke="#fff" stroke-width="4" fill="none"/>
<path d="M3229.5 405V941M3388.0 405V941M3535.0 405V941M3109 497.5H3647M3109 581.9H3647M3109 666.3H3647M3109 750.7H3647M3109 835.1H3647" stroke="#fff" stroke-width="7" fill="none"/>
<g class="P" clip-path="url(#c05)"><path class="y10" d="M3238 675h0"/><path class="y11" d="M3230 675h0"/><path class="y13" d="M3227 674h0"/><path class="y14" d="M3225 674h0"/><path class="y15" d="M3225 674h0"/><path class="y16" d="M3230 674h0"/><path class="y19" d="M3247 678h0"/><path class="y26" d="M3288 685h0"/><path class="y28" d="M3287 684h0"/><path class="y17" d="M3223 675h0"/><path class="y12" d="M3220 675h0"/><path class="y13" d="M3219 675h0"/><path class="y15" d="M3210 672h0"/><path class="y16" d="M3217 675h0"/><path class="y11" d="M3209 671h0"/><path class="y12" d="M3202 669h0"/><path class="y15" d="M3193 667h0"/><path class="y16" d="M3191 667h0"/><path class="y17" d="M3201 669h0"/><path class="y18" d="M3206 670h0"/><path class="y21" d="M3226 674h0"/><path class="y22" d="M3234 674h0"/><path class="y23" d="M3237 675h0"/><path class="y24" d="M3244 676h0"/><path class="y25" d="M3254 677h0"/><path class="y26" d="M3257 678h0"/><path class="y28" d="M3259 678h0"/><path class="y29" d="M3264 680h0"/><path class="y30" d="M3270 681h0"/><path class="y10" d="M3207 670h0"/><path class="y11" d="M3204 670h0"/><path class="y12" d="M3201 669h0"/><path class="y13" d="M3198 668h0"/><path class="y14" d="M3195 667h0"/><path class="y15" d="M3194 667h0"/><path class="y16" d="M3198 668h0"/><path class="y17" d="M3203 670h0"/><path class="y18" d="M3212 673h0"/><path class="y19" d="M3218 674h0"/><path class="y20" d="M3222 676h0"/><path class="y21" d="M3229 677h0"/><path class="y22" d="M3232 677h0"/><path class="y23" d="M3236 677h0"/><path class="y24" d="M3241 679h0"/><path class="y25" d="M3247 679h0"/><path class="y26" d="M3253 682h0"/><path class="y10" d="M3256 682h0"/><path class="y11" d="M3250 682h0"/><path class="y12" d="M3243 679h0"/><path class="y13" d="M3240 681h0"/><path class="y15" d="M3237 680h0"/><path class="y16" d="M3239 683h0"/><path class="y17" d="M3247 683h0"/><path class="y18" d="M3252 684h0"/><path class="y19" d="M3258 687h0"/><path class="y20" d="M3260 688h0"/><path class="y12" d="M3253 688h0"/><path class="y13" d="M3244 686h0"/><path class="y14" d="M3234 681h0"/><path class="y15" d="M3228 679h0"/><path class="y16" d="M3220 676h0"/><path class="y17" d="M3218 675h0"/><path class="y18" d="M3228 679h0"/><path class="y19" d="M3234 681h0"/><path class="y20" d="M3240 682h0"/><path class="y21" d="M3250 684h0"/><path class="y22" d="M3257 689h0"/><path class="y23" d="M3260 690h0"/><path class="y0" d="M3410 729h0"/><path class="y25" d="M3540 743h0"/><path class="y26" d="M3543 743h0"/><path class="y27" d="M3549 742h0"/><path class="y29" d="M3552 741h0"/><path class="y30" d="M3552 741h0"/><path class="y31" d="M3559 741h0"/><path class="y32" d="M3564 738h0"/><path class="y33" d="M3567 737h0"/><path class="y34" d="M3577 738h0"/><path class="y35" d="M3583 740h0"/><path class="y36" d="M3587 741h0"/><path class="y37" d="M3593 740h0"/><path class="y38" d="M3600 741h0"/><path class="y4" d="M3407 729h0"/><path class="y6" d="M3416 729h0"/><path class="y7" d="M3417 729h0"/><path class="y8" d="M3424 728h0"/><path class="y11" d="M3431 728h0"/><path class="y12" d="M3434 728h0"/><path class="y13" d="M3437 728h0"/><path class="y24" d="M3483 738h0"/><path class="y35" d="M3528 745h0"/><path class="y36" d="M3532 744h0"/><path class="y1" d="M3386 692h0"/><path class="y5" d="M3410 696h0"/><path class="y6" d="M3415 696h0"/><path class="y7" d="M3425 697h0"/><path class="y8" d="M3427 697h0"/><path class="y9" d="M3435 700h0"/><path class="y10" d="M3441 701h0"/><path class="y13" d="M3456 704h0"/><path class="y14" d="M3461 703h0"/><path class="y2" d="M3381 693h0"/><path class="y3" d="M3386 692h0"/><path class="y4" d="M3389 694h0"/><path class="y5" d="M3395 694h0"/><path class="y0" d="M3261 693h0"/><path class="y1" d="M3263 694h0"/><path class="y2" d="M3267 696h0"/><path class="y3" d="M3273 700h0"/><path class="y4" d="M3276 700h0"/><path class="y5" d="M3280 701h0"/><path class="y6" d="M3285 700h0"/><path class="y7" d="M3288 702h0"/><path class="y8" d="M3291 704h0"/><path class="y9" d="M3295 702h0"/><path class="y10" d="M3300 705h0"/><path class="y17" d="M3322 709h0"/><path class="y18" d="M3326 709h0"/><path class="y25" d="M3352 716h0"/><path class="y36" d="M3394 728h0"/><path class="y37" d="M3397 728h0"/><path class="y38" d="M3588 739h0"/><path class="y10" d="M3349 685h0"/><path class="y11" d="M3354 687h0"/><path class="y12" d="M3360 688h0"/><path class="y13" d="M3367 688h0"/><path class="y14" d="M3372 691h0"/><path class="y16" d="M3378 693h0"/><path class="y24" d="M3409 698h0"/><path class="y26" d="M3418 698h0"/><path class="y36" d="M3562 740h0"/><path class="y37" d="M3565 737h0"/><path class="y38" d="M3570 735h0"/><path class="y0" d="M3267 683h0"/><path class="y1" d="M3271 684h0"/><path class="y3" d="M3280 691h0"/><path class="y4" d="M3284 692h0"/><path class="y5" d="M3290 695h0"/><path class="y34" d="M3403 728h0"/><path class="y35" d="M3409 729h0"/><path class="y38" d="M3418 729h0"/><path class="y11" d="M3318 709h0"/><path class="y12" d="M3312 708h0"/><path class="y13" d="M3307 708h0"/><path class="y14" d="M3302 706h0"/><path class="y15" d="M3303 707h0"/><path class="y16" d="M3306 707h0"/><path class="y17" d="M3315 709h0"/><path class="y18" d="M3324 709h0"/><path class="y19" d="M3331 710h0"/><path class="y23" d="M3359 720h0"/><path class="y25" d="M3374 721h0"/><path class="y26" d="M3379 724h0"/><path class="y27" d="M3387 725h0"/><path class="y30" d="M3398 728h0"/><path class="y37" d="M3450 729h0"/><path class="y1" d="M3363 690h0"/><path class="y2" d="M3366 689h0"/><path class="y30" d="M3477 736h0"/><path class="y34" d="M3501 745h0"/><path class="y0" d="M3290 695h0"/><path class="y1" d="M3299 701h0"/><path class="y5" d="M3385 695h0"/><path class="y11" d="M3312 699h0"/><path class="y14" d="M3296 698h0"/><path class="y15" d="M3298 701h0"/><path class="y16" d="M3300 701h0"/><path class="y17" d="M3314 702h0"/><path class="y18" d="M3322 702h0"/><path class="y0" d="M3397 693h0"/><path class="y1" d="M3401 695h0"/><path class="y2" d="M3406 698h0"/><path class="y3" d="M3411 698h0"/><path class="y35" d="M3572 724h0"/><path class="y36" d="M3578 727h0"/><path class="y37" d="M3579 728h0"/><path class="y38" d="M3585 731h0"/><path class="y3" d="M3439 702h0"/><path class="y6" d="M3455 703h0"/><path class="y33" d="M3592 737h0"/><path class="y34" d="M3603 737h0"/><path class="y35" d="M3607 737h0"/><path class="y36" d="M3612 737h0"/><path class="y37" d="M3614 735h0"/><path class="y38" d="M3618 735h0"/><path class="y1" d="M3376 694h0"/><path class="y2" d="M3379 696h0"/><path class="y8" d="M3407 701h0"/><path class="y10" d="M3417 698h0"/><path class="y11" d="M3422 700h0"/><path class="y13" d="M3431 700h0"/><path class="y14" d="M3437 703h0"/><path class="y16" d="M3450 704h0"/><path class="y20" d="M3474 707h0"/><path class="y24" d="M3498 708h0"/><path class="y30" d="M3520 715h0"/><path class="y31" d="M3523 718h0"/><path class="y38" d="M3568 725h0M3508 738h0"/><path class="y12" d="M3371 712h0"/><path class="y0" d="M3368 692h0"/><path class="y1" d="M3372 692h0"/><path class="y10" d="M3419 701h0"/><path class="y11" d="M3425 700h0"/><path class="y12" d="M3429 700h0"/><path class="y13" d="M3433 701h0"/><path class="y15" d="M3444 702h0"/><path class="y16" d="M3449 703h0"/><path class="y23" d="M3490 711h0"/><path class="y25" d="M3500 714h0"/><path class="y26" d="M3507 711h0"/><path class="y29" d="M3515 712h0"/><path class="y30" d="M3520 716h0"/><path class="y31" d="M3527 721h0"/><path class="y32" d="M3531 722h0"/><path class="y33" d="M3536 718h0"/><path class="y34" d="M3549 719h0"/><path class="y37" d="M3560 723h0"/><path class="y38" d="M3567 725h0"/><path class="y10" d="M3450 706h0"/><path class="y11" d="M3456 707h0"/><path class="y23" d="M3506 731h0"/><path class="y24" d="M3508 731h0"/><path class="y38" d="M3569 728h0"/><path class="y12" d="M3461 705h0"/><path class="y13" d="M3466 704h0"/><path class="y14" d="M3468 711h0"/><path class="y15" d="M3476 710h0"/><path class="y20" d="M3503 715h0"/><path class="y21" d="M3510 718h0"/><path class="y24" d="M3522 723h0"/><path class="y26" d="M3529 726h0"/><path class="y29" d="M3533 718h0"/><path class="y30" d="M3535 718h0"/><path class="y31" d="M3540 718h0"/><path class="y32" d="M3543 719h0"/><path class="y33" d="M3548 720h0"/><path class="y34" d="M3558 721h0"/><path class="y35" d="M3565 725h0"/><path class="y36" d="M3567 727h0"/><path class="y37" d="M3574 730h0"/><path class="y38" d="M3579 730h0"/><path class="y0" d="M3294 683h0"/><path class="y1" d="M3299 684h0"/><path class="y2" d="M3308 685h0"/><path class="y3" d="M3316 685h0"/><path class="y4" d="M3324 685h0"/><path class="y5" d="M3334 685h0"/><path class="y6" d="M3341 686h0"/><path class="y7" d="M3350 687h0"/><path class="y8" d="M3360 691h0"/><path class="y10" d="M3375 696h0"/><path class="y11" d="M3385 696h0"/><path class="y12" d="M3390 700h0"/><path class="y15" d="M3411 701h0"/><path class="y17" d="M3421 700h0"/><path class="y18" d="M3424 702h0"/><path class="y19" d="M3433 700h0"/><path class="y20" d="M3437 703h0"/><path class="y22" d="M3449 707h0"/><path class="y24" d="M3461 711h0"/><path class="y29" d="M3494 730h0"/><path class="y30" d="M3504 727h0"/><path class="y31" d="M3513 734h0"/><path class="y32" d="M3522 726h0"/><path class="y33" d="M3532 729h0"/><path class="y35" d="M3555 730h0"/><path class="y37" d="M3566 730h0"/><path class="y38" d="M3574 730h0"/><path class="y3" d="M3332 690h0"/><path class="y4" d="M3336 692h0"/><path class="y7" d="M3352 692h0"/><path class="y8" d="M3354 692h0"/><path class="y10" d="M3364 692h0"/><path class="y11" d="M3370 705h0"/><path class="y12" d="M3373 699h0"/><path class="y37" d="M3483 729h0"/><path class="y38" d="M3489 722h0"/><path class="y0" d="M3280 683h0"/><path class="y1" d="M3287 688h0"/><path class="y4" d="M3303 692h0"/><path class="y5" d="M3310 689h0"/><path class="y6" d="M3317 688h0"/><path class="y7" d="M3321 690h0"/><path class="y8" d="M3329 692h0"/><path class="y9" d="M3335 692h0"/><path class="y10" d="M3339 692h0"/><path class="y11" d="M3346 694h0"/><path class="y12" d="M3352 694h0"/><path class="y13" d="M3355 691h0"/><path class="y14" d="M3362 691h0"/><path class="y15" d="M3365 692h0"/><path class="y16" d="M3371 701h0"/><path class="y22" d="M3400 714h0"/><path class="y37" d="M3490 723h0"/><path class="y38" d="M3494 721h0"/><path class="y0" d="M3333 707h0"/><path class="y1" d="M3337 709h0"/><path class="y2" d="M3342 714h0"/><path class="y3" d="M3347 715h0"/><path class="y4" d="M3355 718h0"/><path class="y5" d="M3360 720h0"/><path class="y6" d="M3365 718h0"/><path class="y7" d="M3371 721h0"/><path class="y8" d="M3378 721h0"/><path class="y9" d="M3383 725h0"/><path class="y10" d="M3389 726h0"/><path class="y11" d="M3393 727h0"/><path class="y12" d="M3401 728h0"/><path class="y13" d="M3405 723h0"/><path class="y14" d="M3409 723h0"/><path class="y15" d="M3411 729h0"/><path class="y16" d="M3416 728h0"/><path class="y17" d="M3420 725h0"/><path class="y18" d="M3426 728h0"/><path class="y19" d="M3431 725h0"/><path class="y20" d="M3435 728h0"/><path class="y21" d="M3439 728h0"/><path class="y22" d="M3443 727h0"/><path class="y23" d="M3449 729h0"/><path class="y24" d="M3452 730h0"/><path class="y25" d="M3456 731h0"/><path class="y26" d="M3463 732h0"/><path class="y27" d="M3468 734h0"/><path class="y28" d="M3475 737h0"/><path class="y29" d="M3472 734h0"/><path class="y30" d="M3478 736h0"/><path class="y31" d="M3485 739h0"/><path class="y32" d="M3490 738h0"/><path class="y33" d="M3496 742h0"/><path class="y34" d="M3509 747h0"/><path class="y35" d="M3513 746h0"/><path class="y36" d="M3518 745h0"/><path class="y37" d="M3523 745h0"/><path class="y38" d="M3529 745h0"/><path class="y0" d="M3412 729h0"/><path class="y1" d="M3416 725h0"/><path class="y2" d="M3421 723h0"/><path class="y3" d="M3426 723h0"/><path class="y4" d="M3432 719h0"/><path class="y5" d="M3437 722h0"/><path class="y6" d="M3443 725h0"/><path class="y7" d="M3447 726h0"/><path class="y8" d="M3453 730h0"/><path class="y9" d="M3457 728h0"/><path class="y10" d="M3462 730h0"/><path class="y11" d="M3467 730h0"/><path class="y12" d="M3469 731h0"/><path class="y13" d="M3475 733h0"/><path class="y14" d="M3477 734h0"/><path class="y15" d="M3480 733h0"/><path class="y16" d="M3486 741h0"/><path class="y17" d="M3490 741h0"/><path class="y18" d="M3490 742h0"/><path class="y19" d="M3497 744h0"/><path class="y20" d="M3502 745h0"/><path class="y21" d="M3506 746h0"/><path class="y22" d="M3508 747h0"/><path class="y23" d="M3515 746h0"/><path class="y24" d="M3519 745h0"/><path class="y25" d="M3525 745h0"/><path class="y26" d="M3530 745h0"/><path class="y27" d="M3531 744h0"/><path class="y28" d="M3539 744h0"/><path class="y29" d="M3539 744h0"/><path class="y30" d="M3545 742h0"/><path class="y31" d="M3549 741h0"/><path class="y32" d="M3553 739h0"/><path class="y33" d="M3559 737h0"/><path class="y34" d="M3565 735h0"/><path class="y35" d="M3573 737h0"/><path class="y36" d="M3578 739h0"/><path class="y37" d="M3581 738h0"/><path class="y38" d="M3587 738h0"/><path class="y2" d="M3413 716h0"/><path class="y11" d="M3461 713h0"/><path class="y15" d="M3480 721h0"/><path class="y16" d="M3485 716h0"/><path class="y17" d="M3488 722h0"/><path class="y19" d="M3498 715h0"/><path class="y20" d="M3502 718h0"/><path class="y21" d="M3508 726h0"/><path class="y22" d="M3512 727h0"/><path class="y23" d="M3518 734h0"/><path class="y24" d="M3522 738h0"/><path class="y25" d="M3529 737h0"/><path class="y26" d="M3533 734h0"/><path class="y27" d="M3540 729h0"/><path class="y28" d="M3546 725h0"/><path class="y29" d="M3544 732h0"/><path class="y30" d="M3549 734h0"/><path class="y31" d="M3555 733h0"/><path class="y32" d="M3558 732h0"/><path class="y33" d="M3565 733h0"/><path class="y34" d="M3576 734h0"/><path class="y35" d="M3581 733h0"/><path class="y36" d="M3587 737h0"/><path class="y37" d="M3590 734h0"/><path class="y38" d="M3596 736h0"/><path class="y0" d="M3275 684h0"/><path class="y1" d="M3278 682h0"/><path class="y2" d="M3283 685h0"/><path class="y3" d="M3286 685h0"/><path class="y4" d="M3290 692h0"/><path class="y5" d="M3292 690h0"/><path class="y6" d="M3295 686h0"/><path class="y7" d="M3301 692h0"/><path class="y8" d="M3306 695h0"/><path class="y9" d="M3310 690h0"/><path class="y10" d="M3315 697h0"/><path class="y11" d="M3320 699h0"/><path class="y12" d="M3324 700h0"/><path class="y13" d="M3329 696h0"/><path class="y14" d="M3332 697h0"/><path class="y15" d="M3338 695h0"/><path class="y16" d="M3341 699h0"/><path class="y17" d="M3343 702h0"/><path class="y18" d="M3348 701h0"/><path class="y19" d="M3353 705h0"/><path class="y20" d="M3357 707h0"/><path class="y21" d="M3359 700h0"/><path class="y22" d="M3361 698h0"/><path class="y23" d="M3366 697h0"/><path class="y24" d="M3368 695h0"/><path class="y25" d="M3371 698h0"/><path class="y26" d="M3374 700h0"/><path class="y29" d="M3380 698h0"/><path class="y30" d="M3386 697h0"/><path class="y31" d="M3388 704h0"/><path class="y32" d="M3393 704h0"/><path class="y33" d="M3398 698h0"/><path class="y34" d="M3407 701h0"/><path class="y35" d="M3413 700h0"/><path class="y0" d="M3363 695h0"/><path class="y1" d="M3364 693h0"/><path class="y2" d="M3371 701h0"/><path class="y3" d="M3374 709h0"/><path class="y4" d="M3377 707h0"/><path class="y5" d="M3381 712h0"/><path class="y6" d="M3382 707h0"/><path class="y7" d="M3386 707h0"/><path class="y8" d="M3390 714h0"/><path class="y9" d="M3395 713h0"/><path class="y10" d="M3401 710h0"/><path class="y11" d="M3404 708h0"/><path class="y12" d="M3408 715h0"/><path class="y13" d="M3412 705h0"/><path class="y14" d="M3417 704h0"/><path class="y15" d="M3422 703h0"/><path class="y16" d="M3427 704h0"/><path class="y17" d="M3431 703h0"/><path class="y18" d="M3436 706h0"/><path class="y19" d="M3442 704h0"/><path class="y20" d="M3445 709h0"/><path class="y21" d="M3450 710h0"/><path class="y22" d="M3456 709h0"/><path class="y23" d="M3458 714h0"/><path class="y24" d="M3463 715h0"/><path class="y25" d="M3467 720h0"/><path class="y26" d="M3470 712h0"/><path class="y27" d="M3474 711h0"/><path class="y28" d="M3478 711h0"/><path class="y29" d="M3475 716h0"/><path class="y30" d="M3478 718h0"/><path class="y31" d="M3484 707h0"/><path class="y32" d="M3487 707h0"/><path class="y33" d="M3492 720h0"/><path class="y34" d="M3501 722h0"/><path class="y35" d="M3505 724h0"/><path class="y36" d="M3510 719h0"/><path class="y37" d="M3516 719h0"/><path class="y38" d="M3517 720h0"/><path class="y0" d="M3368 700h0"/><path class="y1" d="M3371 701h0"/><path class="y2" d="M3374 703h0"/><path class="y3" d="M3378 705h0"/><path class="y4" d="M3381 705h0"/><path class="y5" d="M3384 704h0"/><path class="y6" d="M3387 707h0"/><path class="y7" d="M3390 707h0"/><path class="y8" d="M3393 709h0"/><path class="y9" d="M3396 709h0"/><path class="y10" d="M3399 709h0"/><path class="y11" d="M3402 710h0"/><path class="y12" d="M3404 709h0"/><path class="y13" d="M3407 710h0"/><path class="y14" d="M3410 710h0"/><path class="y15" d="M3413 710h0"/><path class="y16" d="M3415 711h0"/><path class="y17" d="M3418 712h0"/><path class="y18" d="M3420 712h0"/><path class="y19" d="M3423 712h0"/><path class="y20" d="M3425 713h0"/><path class="y21" d="M3428 713h0"/><path class="y22" d="M3430 714h0"/><path class="y23" d="M3433 715h0"/><path class="y24" d="M3436 714h0"/><path class="y25" d="M3438 714h0"/><path class="y26" d="M3441 714h0"/><path class="y27" d="M3443 715h0"/><path class="y28" d="M3446 716h0"/><path class="y29" d="M3445 715h0"/><path class="y30" d="M3448 715h0"/><path class="y31" d="M3451 717h0"/><path class="y32" d="M3454 718h0"/><path class="y33" d="M3457 717h0"/><path class="y34" d="M3464 716h0"/><path class="y35" d="M3467 719h0"/><path class="y36" d="M3470 720h0"/><path class="y37" d="M3473 721h0"/><path class="y38" d="M3476 723h0"/><path class="y0" d="M3133 668h0"/><path class="y1" d="M3166 679h0"/><path class="y2" d="M3186 679h0"/><path class="y8" d="M3202 663h0"/><path class="y3" d="M3217 662h0"/><path class="y11" d="M3304 671h0M3310 672h0"/><path class="y8" d="M3452 686h0M3458 680h0"/><path class="y15" d="M3475 688h0"/><path class="y17" d="M3467 694h0"/><path class="y23" d="M3511 703h0"/><path class="y21" d="M3490 701h0"/><path class="y6" d="M3440 751h0"/><path class="y19" d="M3498 773h0"/><path class="y32" d="M3531 779h0"/><path class="y33" d="M3541 779h0"/><path class="y34" d="M3602 752h0"/></g>
<path d="M3133.6 667.7L3622.5 740.2" stroke="#f00" stroke-width="9" fill="none"/>
<text transform="translate(3201.7,878.8) scale(1,1.050)" font-size="52.5" style="fill:#f00">−0.88</text>
<rect x="334" y="490.2" width="16" height="14.6" fill="#333"/>
<text transform="translate(321.0,519.8) scale(1,1.050)" font-size="62.2" text-anchor="end">100%</text>
<rect x="334" y="574.6" width="16" height="14.6" fill="#333"/>
<text transform="translate(321.0,604.2) scale(1,1.050)" font-size="62.2" text-anchor="end">10%</text>
<rect x="334" y="659.0" width="16" height="14.6" fill="#333"/>
<text transform="translate(321.0,688.6) scale(1,1.050)" font-size="62.2" text-anchor="end">1%</text>
<rect x="334" y="743.4" width="16" height="14.6" fill="#333"/>
<text transform="translate(321.0,773.0) scale(1,1.050)" font-size="62.2" text-anchor="end">0.1%</text>
<rect x="334" y="827.8" width="16" height="14.6" fill="#333"/>
<text transform="translate(321.0,857.4) scale(1,1.050)" font-size="62.2" text-anchor="end">0.01%</text>
<rect x="349" y="955" width="538" height="106" fill="#d9d9d9"/>
<text transform="translate(618.5,1030.3) scale(1,1.050)" font-size="62.2" text-anchor="middle">60</text>
<rect x="349" y="1061" width="538" height="536" fill="#f4f4f4"/>
<path d="M390.0 1061V1597M549.0 1061V1597M701.5 1061V1597M854.0 1061V1597M349 1069.1H887M349 1111.3H887M349 1195.7H887M349 1280.1H887M349 1364.5H887M349 1448.9H887M349 1533.3H887M349 1575.5H887" stroke="#fff" stroke-width="4" fill="none"/>
<path d="M469.5 1061V1597M628.0 1061V1597M775.0 1061V1597M349 1153.5H887M349 1237.9H887M349 1322.3H887M349 1406.7H887M349 1491.1H887" stroke="#fff" stroke-width="7" fill="none"/>
<g class="P" clip-path="url(#c10)"><path class="y24" d="M516 1320h0"/><path class="y25" d="M522 1321h0"/><path class="y27" d="M532 1325h0"/><path class="y28" d="M527 1324h0"/><path class="y32" d="M557 1330h0"/><path class="y33" d="M563 1330h0"/><path class="y34" d="M566 1330h0"/><path class="y35" d="M570 1330h0"/><path class="y36" d="M572 1331h0"/><path class="y37" d="M580 1332h0"/><path class="y38" d="M583 1332h0"/><path class="y16" d="M466 1312h0"/><path class="y17" d="M463 1312h0"/><path class="y18" d="M472 1313h0"/><path class="y19" d="M482 1314h0"/><path class="y20" d="M489 1315h0"/><path class="y24" d="M512 1319h0"/><path class="y25" d="M516 1319h0"/><path class="y28" d="M527 1324h0"/><path class="y29" d="M532 1325h0"/><path class="y30" d="M537 1326h0"/><path class="y31" d="M552 1329h0"/><path class="y33" d="M558 1330h0"/><path class="y34" d="M563 1330h0"/><path class="y35" d="M573 1331h0"/><path class="y36" d="M581 1332h0"/><path class="y37" d="M582 1332h0"/><path class="y38" d="M586 1333h0"/><path class="y10" d="M471 1308h0"/><path class="y11" d="M467 1310h0"/><path class="y13" d="M459 1308h0"/><path class="y15" d="M450 1305h0"/><path class="y17" d="M463 1309h0"/><path class="y18" d="M469 1309h0"/><path class="y12" d="M442 1307h0"/><path class="y13" d="M440 1306h0"/><path class="y14" d="M434 1302h0"/><path class="y15" d="M433 1301h0"/><path class="y16" d="M431 1302h0"/><path class="y17" d="M441 1306h0"/><path class="y18" d="M446 1309h0"/><path class="y19" d="M452 1309h0"/><path class="y20" d="M458 1312h0"/><path class="y21" d="M466 1311h0"/><path class="y22" d="M474 1313h0"/><path class="y23" d="M477 1313h0"/><path class="y24" d="M484 1315h0"/><path class="y25" d="M494 1315h0"/><path class="y26" d="M497 1316h0"/><path class="y27" d="M503 1318h0"/><path class="y28" d="M499 1316h0"/><path class="y29" d="M504 1318h0"/><path class="y30" d="M510 1318h0"/><path class="y31" d="M523 1322h0"/><path class="y33" d="M532 1325h0"/><path class="y34" d="M536 1326h0"/><path class="y36" d="M548 1328h0"/><path class="y37" d="M557 1330h0"/><path class="y38" d="M558 1330h0"/><path class="y10" d="M447 1304h0"/><path class="y11" d="M444 1304h0"/><path class="y12" d="M441 1302h0"/><path class="y14" d="M435 1298h0"/><path class="y15" d="M434 1299h0"/><path class="y16" d="M438 1302h0"/><path class="y17" d="M443 1302h0"/><path class="y18" d="M452 1305h0"/><path class="y19" d="M458 1308h0"/><path class="y20" d="M462 1308h0"/><path class="y21" d="M469 1309h0"/><path class="y22" d="M472 1310h0"/><path class="y24" d="M481 1308h0"/><path class="y13" d="M480 1309h0"/><path class="y14" d="M478 1308h0"/><path class="y16" d="M479 1309h0"/><path class="y19" d="M498 1314h0"/><path class="y23" d="M516 1318h0"/><path class="y24" d="M525 1323h0"/><path class="y25" d="M528 1324h0"/><path class="y28" d="M532 1323h0"/><path class="y30" d="M540 1326h0"/><path class="y31" d="M555 1329h0"/><path class="y32" d="M556 1329h0"/><path class="y33" d="M562 1328h0"/><path class="y34" d="M566 1329h0"/><path class="y38" d="M585 1332h0"/><path class="y12" d="M493 1311h0"/><path class="y13" d="M484 1311h0"/><path class="y14" d="M474 1312h0"/><path class="y15" d="M468 1312h0"/><path class="y16" d="M460 1312h0"/><path class="y17" d="M458 1310h0"/><path class="y18" d="M468 1311h0"/><path class="y19" d="M474 1311h0"/><path class="y20" d="M480 1312h0"/><path class="y21" d="M490 1311h0"/><path class="y22" d="M497 1313h0"/><path class="y23" d="M500 1313h0"/><path class="y24" d="M505 1316h0"/><path class="y25" d="M513 1318h0"/><path class="y26" d="M519 1317h0"/><path class="y28" d="M524 1320h0"/><path class="y29" d="M526 1318h0"/><path class="y30" d="M535 1325h0"/><path class="y31" d="M545 1324h0"/><path class="y33" d="M559 1328h0"/><path class="y37" d="M579 1328h0"/><path class="y38" d="M584 1330h0"/><path class="y0" d="M373 1288h0"/><path class="y1" d="M405 1290h0"/><path class="y5" d="M475 1306h0"/><path class="y6" d="M489 1305h0"/><path class="y7" d="M501 1306h0"/><path class="y8" d="M515 1308h0"/><path class="y9" d="M527 1308h0"/><path class="y11" d="M550 1311h0"/><path class="y16" d="M595 1317h0"/><path class="y17" d="M601 1318h0"/><path class="y19" d="M599 1318h0"/><path class="y21" d="M616 1319h0"/><path class="y19" d="M745 1361h0"/><path class="y22" d="M766 1366h0"/><path class="y23" d="M772 1366h0"/><path class="y24" d="M777 1364h0"/><path class="y26" d="M783 1364h0"/><path class="y1" d="M632 1318h0"/><path class="y7" d="M657 1323h0"/><path class="y11" d="M671 1326h0"/><path class="y13" d="M677 1326h0"/><path class="y25" d="M744 1339h0"/><path class="y35" d="M801 1352h0"/><path class="y38" d="M815 1364h0"/><path class="y0" d="M636 1319h0"/><path class="y1" d="M638 1319h0"/><path class="y2" d="M642 1320h0"/><path class="y5" d="M655 1323h0"/><path class="y7" d="M664 1325h0"/><path class="y13" d="M693 1329h0"/><path class="y16" d="M706 1332h0"/><path class="y32" d="M762 1342h0"/><path class="y0" d="M610 1316h0"/><path class="y1" d="M619 1319h0"/><path class="y4" d="M629 1318h0"/><path class="y5" d="M635 1319h0"/><path class="y6" d="M637 1319h0"/><path class="y37" d="M768 1365h0"/><path class="y38" d="M772 1365h0"/><path class="y0" d="M501 1308h0"/><path class="y1" d="M503 1307h0"/><path class="y2" d="M507 1308h0"/><path class="y3" d="M513 1310h0"/><path class="y4" d="M516 1313h0"/><path class="y6" d="M525 1314h0"/><path class="y28" d="M606 1334h0"/><path class="y29" d="M606 1334h0"/><path class="y35" d="M805 1366h0"/><path class="y0" d="M625 1318h0"/><path class="y1" d="M634 1320h0"/><path class="y38" d="M828 1359h0"/><path class="y25" d="M656 1349h0"/><path class="y26" d="M658 1350h0"/><path class="y27" d="M664 1352h0"/><path class="y30" d="M677 1354h0"/><path class="y32" d="M689 1355h0"/><path class="y35" d="M795 1365h0"/><path class="y38" d="M810 1365h0"/><path class="y0" d="M507 1309h0"/><path class="y1" d="M511 1309h0"/><path class="y2" d="M517 1311h0"/><path class="y3" d="M520 1312h0"/><path class="y4" d="M524 1312h0"/><path class="y10" d="M551 1311h0"/><path class="y37" d="M756 1363h0"/><path class="y26" d="M619 1338h0"/><path class="y0" d="M530 1315h0"/><path class="y5" d="M558 1326h0"/><path class="y6" d="M564 1327h0"/><path class="y7" d="M566 1326h0"/><path class="y8" d="M571 1329h0"/><path class="y9" d="M573 1327h0"/><path class="y12" d="M584 1330h0"/><path class="y13" d="M588 1332h0"/><path class="y14" d="M590 1330h0"/><path class="y15" d="M593 1331h0"/><path class="y17" d="M600 1333h0"/><path class="y18" d="M604 1333h0"/><path class="y19" d="M607 1334h0"/><path class="y20" d="M610 1336h0"/><path class="y21" d="M615 1336h0"/><path class="y22" d="M620 1336h0"/><path class="y23" d="M625 1339h0"/><path class="y24" d="M629 1340h0"/><path class="y26" d="M640 1344h0"/><path class="y28" d="M649 1346h0"/><path class="y29" d="M648 1347h0"/><path class="y33" d="M666 1352h0"/><path class="y34" d="M673 1353h0"/><path class="y36" d="M680 1354h0"/><path class="y37" d="M682 1355h0"/><path class="y38" d="M686 1354h0"/><path class="y3" d="M661 1324h0"/><path class="y4" d="M666 1325h0"/><path class="y5" d="M670 1325h0"/><path class="y6" d="M674 1327h0"/><path class="y3" d="M613 1319h0"/><path class="y4" d="M617 1320h0"/><path class="y5" d="M625 1322h0"/><path class="y28" d="M746 1340h0"/><path class="y36" d="M796 1351h0"/><path class="y15" d="M538 1318h0"/><path class="y16" d="M540 1319h0"/><path class="y18" d="M562 1324h0"/><path class="y19" d="M569 1326h0"/><path class="y20" d="M577 1329h0"/><path class="y21" d="M586 1326h0"/><path class="y22" d="M592 1328h0"/><path class="y24" d="M606 1333h0"/><path class="y25" d="M614 1333h0"/><path class="y30" d="M634 1341h0"/><path class="y34" d="M668 1352h0"/><path class="y0" d="M637 1319h0"/><path class="y1" d="M641 1319h0"/><path class="y2" d="M646 1320h0"/><path class="y3" d="M651 1322h0"/><path class="y4" d="M658 1323h0"/><path class="y5" d="M664 1325h0"/><path class="y6" d="M667 1325h0"/><path class="y7" d="M675 1326h0"/><path class="y8" d="M679 1327h0"/><path class="y9" d="M682 1327h0"/><path class="y10" d="M689 1328h0"/><path class="y11" d="M693 1330h0"/><path class="y12" d="M699 1329h0"/><path class="y13" d="M702 1330h0"/><path class="y14" d="M708 1331h0"/><path class="y16" d="M715 1332h0"/><path class="y17" d="M720 1333h0"/><path class="y18" d="M725 1334h0"/><path class="y19" d="M730 1336h0"/><path class="y20" d="M736 1337h0"/><path class="y21" d="M739 1338h0"/><path class="y22" d="M743 1339h0"/><path class="y23" d="M748 1341h0"/><path class="y24" d="M754 1339h0"/><path class="y25" d="M760 1340h0"/><path class="y26" d="M765 1343h0"/><path class="y30" d="M779 1344h0"/><path class="y31" d="M786 1345h0"/><path class="y32" d="M790 1348h0"/><path class="y33" d="M795 1350h0"/><path class="y34" d="M807 1351h0"/><path class="y35" d="M812 1351h0"/><path class="y36" d="M818 1353h0"/><path class="y37" d="M819 1353h0"/><path class="y38" d="M825 1356h0"/><path class="y7" d="M703 1332h0"/><path class="y8" d="M707 1332h0"/><path class="y9" d="M712 1333h0"/><path class="y10" d="M717 1338h0"/><path class="y22" d="M774 1344h0"/><path class="y23" d="M780 1346h0"/><path class="y24" d="M788 1351h0"/><path class="y25" d="M794 1354h0"/><path class="y26" d="M802 1353h0"/><path class="y27" d="M807 1354h0"/><path class="y29" d="M811 1352h0"/><path class="y30" d="M818 1356h0"/><path class="y31" d="M824 1357h0"/><path class="y33" d="M832 1364h0"/><path class="y34" d="M843 1364h0"/><path class="y35" d="M847 1365h0"/><path class="y13" d="M671 1350h0"/><path class="y14" d="M677 1354h0"/><path class="y15" d="M686 1354h0"/><path class="y34" d="M785 1365h0"/><path class="y37" d="M802 1364h0"/><path class="y0" d="M589 1325h0"/><path class="y1" d="M592 1325h0"/><path class="y9" d="M618 1333h0"/><path class="y13" d="M637 1342h0"/><path class="y14" d="M644 1344h0"/><path class="y15" d="M650 1347h0"/><path class="y38" d="M748 1361h0"/><path class="y0" d="M564 1311h0"/><path class="y1" d="M571 1313h0"/><path class="y2" d="M572 1314h0"/><path class="y17" d="M627 1324h0"/><path class="y18" d="M632 1322h0"/><path class="y2" d="M617 1321h0"/><path class="y3" d="M625 1324h0"/><path class="y1" d="M655 1323h0"/><path class="y2" d="M657 1325h0"/><path class="y3" d="M661 1324h0"/><path class="y4" d="M664 1330h0"/><path class="y5" d="M668 1326h0"/><path class="y6" d="M673 1327h0"/><path class="y7" d="M679 1328h0"/><path class="y8" d="M682 1329h0"/><path class="y31" d="M768 1364h0"/><path class="y32" d="M772 1363h0"/><path class="y33" d="M779 1362h0"/><path class="y36" d="M797 1365h0"/><path class="y18" d="M732 1360h0"/><path class="y27" d="M772 1361h0"/><path class="y29" d="M773 1360h0"/><path class="y31" d="M780 1360h0"/><path class="y32" d="M783 1351h0"/><path class="y33" d="M788 1351h0"/><path class="y34" d="M798 1356h0"/><path class="y35" d="M805 1355h0"/><path class="y36" d="M807 1365h0"/><path class="y37" d="M814 1363h0"/><path class="y38" d="M819 1364h0"/><path class="y0" d="M534 1316h0"/><path class="y1" d="M539 1319h0"/><path class="y2" d="M548 1323h0"/><path class="y7" d="M590 1325h0"/><path class="y10" d="M615 1333h0"/><path class="y15" d="M651 1344h0"/><path class="y16" d="M655 1347h0"/><path class="y17" d="M661 1350h0"/><path class="y18" d="M664 1349h0"/><path class="y19" d="M673 1350h0"/><path class="y22" d="M689 1354h0"/><path class="y23" d="M694 1356h0"/><path class="y24" d="M701 1357h0"/><path class="y29" d="M734 1358h0"/><path class="y30" d="M744 1362h0"/><path class="y34" d="M788 1366h0"/><path class="y0" d="M556 1310h0"/><path class="y1" d="M561 1310h0"/><path class="y2" d="M566 1312h0"/><path class="y3" d="M572 1314h0"/><path class="y4" d="M576 1312h0"/><path class="y5" d="M581 1312h0"/><path class="y6" d="M586 1313h0"/><path class="y12" d="M613 1319h0"/><path class="y13" d="M616 1322h0"/><path class="y17" d="M632 1325h0"/><path class="y18" d="M639 1324h0"/><path class="y19" d="M641 1324h0"/><path class="y20" d="M645 1324h0"/><path class="y21" d="M649 1327h0"/><path class="y23" d="M661 1330h0"/><path class="y0" d="M520 1308h0"/><path class="y1" d="M527 1309h0"/><path class="y2" d="M530 1308h0"/><path class="y3" d="M537 1307h0"/><path class="y4" d="M543 1308h0"/><path class="y5" d="M550 1313h0"/><path class="y6" d="M557 1310h0"/><path class="y7" d="M561 1310h0"/><path class="y8" d="M569 1314h0"/><path class="y9" d="M575 1314h0"/><path class="y10" d="M579 1313h0"/><path class="y11" d="M586 1314h0"/><path class="y12" d="M592 1314h0"/><path class="y13" d="M595 1316h0"/><path class="y14" d="M602 1319h0"/><path class="y15" d="M605 1318h0"/><path class="y17" d="M618 1322h0"/><path class="y18" d="M620 1322h0"/><path class="y0" d="M573 1325h0"/><path class="y2" d="M582 1326h0"/><path class="y3" d="M587 1325h0"/><path class="y4" d="M595 1322h0"/><path class="y8" d="M618 1333h0"/><path class="y10" d="M629 1338h0"/><path class="y14" d="M649 1343h0"/><path class="y19" d="M671 1348h0"/><path class="y20" d="M675 1349h0"/><path class="y21" d="M679 1349h0"/><path class="y32" d="M730 1358h0"/><path class="y37" d="M763 1362h0"/><path class="y38" d="M769 1362h0"/><path class="y0" d="M652 1327h0"/><path class="y1" d="M656 1330h0"/><path class="y2" d="M661 1332h0"/><path class="y3" d="M666 1331h0"/><path class="y4" d="M672 1332h0"/><path class="y5" d="M677 1334h0"/><path class="y6" d="M683 1331h0"/><path class="y7" d="M687 1330h0"/><path class="y8" d="M693 1331h0"/><path class="y9" d="M697 1336h0"/><path class="y10" d="M702 1334h0"/><path class="y11" d="M707 1338h0"/><path class="y15" d="M720 1336h0"/><path class="y16" d="M726 1336h0"/><path class="y17" d="M730 1337h0"/><path class="y18" d="M730 1340h0"/><path class="y19" d="M737 1339h0"/><path class="y20" d="M742 1344h0"/><path class="y21" d="M746 1342h0"/><path class="y22" d="M748 1342h0"/><path class="y23" d="M755 1340h0"/><path class="y24" d="M759 1343h0"/><path class="y26" d="M770 1346h0"/><path class="y27" d="M771 1346h0"/><path class="y28" d="M779 1350h0"/><path class="y29" d="M779 1354h0"/><path class="y30" d="M785 1356h0"/><path class="y31" d="M789 1358h0"/><path class="y32" d="M793 1358h0"/><path class="y33" d="M799 1358h0"/><path class="y34" d="M805 1357h0"/><path class="y35" d="M813 1360h0"/><path class="y36" d="M818 1362h0"/><path class="y37" d="M821 1362h0"/><path class="y38" d="M827 1358h0"/><path class="y1" d="M646 1331h0"/><path class="y2" d="M653 1332h0"/><path class="y4" d="M664 1335h0"/><path class="y5" d="M669 1336h0"/><path class="y6" d="M672 1338h0"/><path class="y7" d="M680 1339h0"/><path class="y9" d="M690 1338h0"/><path class="y10" d="M697 1339h0"/><path class="y11" d="M701 1333h0"/><path class="y12" d="M706 1338h0"/><path class="y13" d="M710 1340h0"/><path class="y14" d="M714 1340h0"/><path class="y15" d="M720 1345h0"/><path class="y16" d="M725 1344h0"/><path class="y17" d="M728 1346h0"/><path class="y18" d="M735 1345h0"/><path class="y19" d="M738 1344h0"/><path class="y20" d="M742 1348h0"/><path class="y21" d="M748 1351h0"/><path class="y22" d="M752 1350h0"/><path class="y23" d="M758 1349h0"/><path class="y24" d="M762 1345h0"/><path class="y25" d="M769 1351h0"/><path class="y26" d="M773 1352h0"/><path class="y27" d="M780 1355h0"/><path class="y28" d="M786 1360h0"/><path class="y29" d="M784 1359h0"/><path class="y30" d="M789 1362h0"/><path class="y31" d="M795 1364h0"/><path class="y32" d="M798 1363h0"/><path class="y33" d="M805 1363h0"/><path class="y34" d="M816 1359h0"/><path class="y35" d="M821 1360h0"/><path class="y36" d="M827 1363h0"/><path class="y37" d="M830 1360h0"/><path class="y0" d="M515 1312h0"/><path class="y1" d="M518 1311h0"/><path class="y2" d="M523 1309h0"/><path class="y3" d="M526 1311h0"/><path class="y4" d="M530 1311h0"/><path class="y5" d="M532 1313h0"/><path class="y6" d="M535 1315h0"/><path class="y7" d="M541 1316h0"/><path class="y8" d="M546 1316h0"/><path class="y9" d="M550 1321h0"/><path class="y10" d="M555 1324h0"/><path class="y11" d="M560 1324h0"/><path class="y12" d="M564 1324h0"/><path class="y13" d="M569 1321h0"/><path class="y14" d="M572 1326h0"/><path class="y15" d="M578 1324h0"/><path class="y16" d="M581 1320h0"/><path class="y17" d="M583 1322h0"/><path class="y18" d="M588 1323h0"/><path class="y19" d="M593 1324h0"/><path class="y20" d="M597 1328h0"/><path class="y21" d="M599 1331h0"/><path class="y22" d="M601 1331h0"/><path class="y23" d="M606 1331h0"/><path class="y24" d="M608 1333h0"/><path class="y25" d="M611 1330h0"/><path class="y26" d="M614 1330h0"/><path class="y27" d="M617 1331h0"/><path class="y28" d="M623 1334h0"/><path class="y29" d="M620 1333h0"/><path class="y30" d="M626 1335h0"/><path class="y31" d="M628 1338h0"/><path class="y32" d="M633 1339h0"/><path class="y33" d="M638 1341h0"/><path class="y34" d="M647 1343h0"/><path class="y35" d="M653 1344h0"/><path class="y36" d="M659 1349h0"/><path class="y37" d="M662 1348h0"/><path class="y38" d="M666 1348h0"/><path class="y0" d="M603 1323h0"/><path class="y1" d="M604 1323h0"/><path class="y2" d="M611 1323h0"/><path class="y3" d="M614 1323h0"/><path class="y4" d="M617 1325h0"/><path class="y5" d="M621 1328h0"/><path class="y6" d="M622 1332h0"/><path class="y7" d="M626 1333h0"/><path class="y8" d="M630 1331h0"/><path class="y9" d="M635 1329h0"/><path class="y10" d="M641 1330h0"/><path class="y11" d="M644 1335h0"/><path class="y12" d="M648 1335h0"/><path class="y13" d="M652 1337h0"/><path class="y14" d="M657 1337h0"/><path class="y15" d="M662 1345h0"/><path class="y16" d="M667 1347h0"/><path class="y17" d="M671 1347h0"/><path class="y18" d="M676 1349h0"/><path class="y19" d="M682 1350h0"/><path class="y20" d="M685 1349h0"/><path class="y21" d="M690 1349h0"/><path class="y22" d="M696 1354h0"/><path class="y23" d="M698 1357h0"/><path class="y24" d="M703 1356h0"/><path class="y25" d="M707 1358h0"/><path class="y26" d="M710 1356h0"/><path class="y27" d="M714 1359h0"/><path class="y28" d="M718 1360h0"/><path class="y29" d="M715 1358h0"/><path class="y30" d="M718 1358h0"/><path class="y31" d="M724 1358h0"/><path class="y32" d="M727 1352h0"/><path class="y33" d="M732 1358h0"/><path class="y34" d="M741 1362h0"/><path class="y35" d="M745 1361h0"/><path class="y36" d="M750 1359h0"/><path class="y37" d="M756 1359h0"/><path class="y38" d="M757 1364h0"/><path class="y0" d="M608 1320h0"/><path class="y1" d="M611 1322h0"/><path class="y2" d="M614 1322h0"/><path class="y3" d="M618 1323h0"/><path class="y4" d="M621 1323h0"/><path class="y5" d="M624 1324h0"/><path class="y6" d="M627 1325h0"/><path class="y7" d="M630 1326h0"/><path class="y8" d="M633 1326h0"/><path class="y9" d="M636 1328h0"/><path class="y10" d="M639 1329h0"/><path class="y11" d="M642 1331h0"/><path class="y12" d="M644 1331h0"/><path class="y13" d="M647 1332h0"/><path class="y14" d="M650 1333h0"/><path class="y15" d="M653 1334h0"/><path class="y16" d="M655 1334h0"/><path class="y17" d="M658 1334h0"/><path class="y18" d="M660 1336h0"/><path class="y19" d="M663 1337h0"/><path class="y20" d="M665 1339h0"/><path class="y21" d="M668 1339h0"/><path class="y22" d="M670 1339h0"/><path class="y23" d="M673 1341h0"/><path class="y24" d="M676 1342h0"/><path class="y25" d="M678 1342h0"/><path class="y26" d="M681 1343h0"/><path class="y27" d="M683 1343h0"/><path class="y28" d="M686 1344h0"/><path class="y29" d="M685 1343h0"/><path class="y30" d="M688 1343h0"/><path class="y31" d="M691 1344h0"/><path class="y32" d="M694 1344h0"/><path class="y33" d="M697 1346h0"/><path class="y34" d="M704 1346h0"/><path class="y35" d="M707 1347h0"/><path class="y36" d="M710 1346h0"/><path class="y37" d="M713 1347h0"/><path class="y38" d="M716 1348h0"/><path class="y4" d="M441 1283h0"/><path class="y3" d="M457 1285h0"/><path class="y6" d="M495 1285h0M499 1292h0"/><path class="y11" d="M520 1291h0"/><path class="y13" d="M539 1295h0"/><path class="y1" d="M426 1314h0M406 1325h0"/><path class="y19" d="M734 1324h0"/><path class="y30" d="M755 1327h0"/></g>
<path d="M373.0 1290.3L862.0 1361.7" stroke="#f00" stroke-width="9" fill="none"/>
<rect x="901" y="955" width="538" height="106" fill="#d9d9d9"/>
<text transform="translate(1170.5,1030.3) scale(1,1.050)" font-size="62.2" text-anchor="middle">70</text>
<rect x="901" y="1061" width="538" height="536" fill="#f4f4f4"/>
<path d="M942.0 1061V1597M1101.0 1061V1597M1253.5 1061V1597M1406.0 1061V1597M901 1069.1H1439M901 1111.3H1439M901 1195.7H1439M901 1280.1H1439M901 1364.5H1439M901 1448.9H1439M901 1533.3H1439M901 1575.5H1439" stroke="#fff" stroke-width="4" fill="none"/>
<path d="M1021.5 1061V1597M1180.0 1061V1597M1327.0 1061V1597M901 1153.5H1439M901 1237.9H1439M901 1322.3H1439M901 1406.7H1439M901 1491.1H1439" stroke="#fff" stroke-width="7" fill="none"/>
<g class="P" clip-path="url(#c11)"><path class="y10" d="M1030 1276h0"/><path class="y11" d="M1022 1275h0"/><path class="y12" d="M1022 1275h0"/><path class="y13" d="M1019 1275h0"/><path class="y14" d="M1017 1275h0"/><path class="y18" d="M1032 1276h0"/><path class="y19" d="M1039 1277h0"/><path class="y12" d="M1043 1276h0"/><path class="y21" d="M1045 1277h0"/><path class="y10" d="M1023 1275h0"/><path class="y11" d="M1019 1275h0"/><path class="y12" d="M1012 1274h0"/><path class="y13" d="M1011 1274h0"/><path class="y17" d="M1015 1276h0"/><path class="y18" d="M1021 1276h0"/><path class="y19" d="M1026 1277h0"/><path class="y20" d="M1036 1277h0"/><path class="y22" d="M1049 1277h0"/><path class="y11" d="M1001 1275h0"/><path class="y12" d="M994 1275h0"/><path class="y13" d="M992 1274h0"/><path class="y14" d="M986 1274h0"/><path class="y15" d="M985 1274h0"/><path class="y16" d="M983 1273h0"/><path class="y17" d="M993 1274h0"/><path class="y18" d="M998 1275h0"/><path class="y19" d="M1004 1275h0"/><path class="y21" d="M1018 1277h0"/><path class="y10" d="M999 1274h0"/><path class="y11" d="M996 1273h0"/><path class="y12" d="M993 1273h0"/><path class="y13" d="M990 1274h0"/><path class="y14" d="M987 1274h0"/><path class="y15" d="M986 1273h0"/><path class="y16" d="M990 1274h0"/><path class="y17" d="M995 1274h0"/><path class="y18" d="M1004 1275h0"/><path class="y19" d="M1010 1275h0"/><path class="y20" d="M1014 1276h0"/><path class="y21" d="M1021 1278h0"/><path class="y22" d="M1024 1278h0"/><path class="y25" d="M1039 1280h0"/><path class="y31" d="M1067 1284h0"/><path class="y32" d="M1072 1284h0"/><path class="y33" d="M1075 1283h0"/><path class="y35" d="M1081 1283h0"/><path class="y10" d="M1048 1278h0"/><path class="y12" d="M1035 1277h0"/><path class="y13" d="M1032 1276h0"/><path class="y14" d="M1030 1277h0"/><path class="y15" d="M1029 1277h0"/><path class="y16" d="M1031 1278h0"/><path class="y17" d="M1039 1277h0"/><path class="y18" d="M1044 1277h0"/><path class="y19" d="M1050 1279h0"/><path class="y34" d="M1118 1294h0"/><path class="y12" d="M1045 1282h0"/><path class="y13" d="M1036 1280h0"/><path class="y14" d="M1026 1279h0"/><path class="y15" d="M1020 1278h0"/><path class="y16" d="M1012 1277h0"/><path class="y17" d="M1010 1277h0"/><path class="y18" d="M1020 1278h0"/><path class="y19" d="M1026 1279h0"/><path class="y20" d="M1032 1280h0"/><path class="y21" d="M1042 1281h0"/><path class="y22" d="M1049 1282h0"/><path class="y23" d="M1052 1282h0"/><path class="y24" d="M1057 1282h0"/><path class="y25" d="M1065 1282h0"/><path class="y26" d="M1071 1283h0"/><path class="y27" d="M1076 1284h0"/><path class="y28" d="M1076 1283h0"/><path class="y29" d="M1078 1282h0"/><path class="y30" d="M1087 1286h0"/><path class="y31" d="M1097 1288h0"/><path class="y32" d="M1103 1291h0"/><path class="y33" d="M1111 1294h0"/><path class="y0" d="M1202 1289h0"/><path class="y1" d="M1207 1291h0"/><path class="y4" d="M1219 1294h0"/><path class="y11" d="M1250 1298h0"/><path class="y13" d="M1261 1298h0"/><path class="y23" d="M1324 1306h0"/><path class="y24" d="M1329 1309h0"/><path class="y25" d="M1332 1312h0"/><path class="y26" d="M1335 1312h0"/><path class="y27" d="M1341 1315h0"/><path class="y28" d="M1345 1314h0"/><path class="y36" d="M1379 1323h0"/><path class="y37" d="M1385 1325h0"/><path class="y38" d="M1392 1326h0"/><path class="y21" d="M1261 1315h0"/><path class="y24" d="M1275 1316h0"/><path class="y26" d="M1286 1321h0"/><path class="y27" d="M1291 1323h0"/><path class="y28" d="M1293 1324h0"/><path class="y29" d="M1293 1324h0"/><path class="y30" d="M1297 1326h0"/><path class="y31" d="M1300 1328h0"/><path class="y32" d="M1304 1328h0"/><path class="y34" d="M1318 1328h0"/><path class="y35" d="M1320 1329h0"/><path class="y36" d="M1324 1330h0"/><path class="y37" d="M1325 1330h0"/><path class="y38" d="M1327 1330h0"/><path class="y30" d="M1319 1309h0"/><path class="y31" d="M1325 1310h0"/><path class="y32" d="M1330 1313h0"/><path class="y33" d="M1337 1316h0"/><path class="y35" d="M1335 1315h0"/><path class="y8" d="M1197 1289h0"/><path class="y9" d="M1201 1290h0"/><path class="y10" d="M1206 1291h0"/><path class="y12" d="M1213 1292h0"/><path class="y13" d="M1215 1292h0"/><path class="y15" d="M1222 1295h0"/><path class="y22" d="M1256 1298h0"/><path class="y26" d="M1276 1299h0"/><path class="y29" d="M1284 1300h0"/><path class="y30" d="M1288 1301h0"/><path class="y31" d="M1292 1304h0"/><path class="y0" d="M1053 1276h0"/><path class="y1" d="M1055 1275h0"/><path class="y2" d="M1059 1275h0"/><path class="y4" d="M1068 1274h0"/><path class="y5" d="M1072 1273h0"/><path class="y10" d="M1092 1273h0"/><path class="y12" d="M1098 1273h0"/><path class="y13" d="M1243 1297h0"/><path class="y38" d="M1380 1327h0"/><path class="y20" d="M1185 1287h0"/><path class="y21" d="M1189 1289h0"/><path class="y22" d="M1194 1289h0"/><path class="y32" d="M1241 1297h0"/><path class="y33" d="M1249 1298h0"/><path class="y34" d="M1260 1299h0"/><path class="y37" d="M1278 1300h0"/><path class="y38" d="M1284 1302h0"/><path class="y30" d="M1187 1290h0"/><path class="y3" d="M1182 1289h0"/><path class="y6" d="M1199 1292h0"/><path class="y13" d="M1231 1296h0"/><path class="y14" d="M1235 1295h0"/><path class="y15" d="M1240 1297h0"/><path class="y26" d="M1303 1306h0"/><path class="y0" d="M1059 1276h0"/><path class="y1" d="M1063 1275h0"/><path class="y2" d="M1069 1274h0"/><path class="y3" d="M1072 1274h0"/><path class="y14" d="M1094 1273h0"/><path class="y15" d="M1095 1273h0"/><path class="y18" d="M1116 1275h0"/><path class="y12" d="M1200 1293h0"/><path class="y3" d="M1213 1309h0"/><path class="y5" d="M1222 1310h0"/><path class="y19" d="M1275 1315h0"/><path class="y33" d="M1329 1329h0"/><path class="y26" d="M1286 1321h0"/><path class="y27" d="M1290 1322h0"/><path class="y28" d="M1298 1327h0"/><path class="y29" d="M1298 1326h0"/><path class="y30" d="M1304 1328h0"/><path class="y31" d="M1308 1328h0"/><path class="y32" d="M1316 1328h0"/><path class="y33" d="M1323 1329h0"/><path class="y34" d="M1338 1333h0"/><path class="y35" d="M1342 1333h0"/><path class="y36" d="M1348 1335h0"/><path class="y37" d="M1355 1336h0"/><path class="y38" d="M1360 1336h0"/><path class="y10" d="M1109 1294h0"/><path class="y11" d="M1104 1292h0"/><path class="y12" d="M1101 1288h0"/><path class="y13" d="M1094 1287h0"/><path class="y14" d="M1088 1287h0"/><path class="y15" d="M1090 1287h0"/><path class="y16" d="M1092 1288h0"/><path class="y17" d="M1106 1291h0"/><path class="y18" d="M1114 1293h0"/><path class="y19" d="M1121 1294h0"/><path class="y20" d="M1129 1297h0"/><path class="y21" d="M1138 1298h0"/><path class="y22" d="M1144 1299h0"/><path class="y23" d="M1153 1300h0"/><path class="y24" d="M1158 1301h0"/><path class="y25" d="M1166 1302h0"/><path class="y26" d="M1174 1303h0"/><path class="y28" d="M1175 1304h0"/><path class="y29" d="M1184 1305h0"/><path class="y30" d="M1186 1305h0"/><path class="y31" d="M1202 1307h0"/><path class="y32" d="M1207 1308h0"/><path class="y33" d="M1218 1310h0"/><path class="y34" d="M1220 1311h0"/><path class="y35" d="M1228 1312h0"/><path class="y37" d="M1240 1313h0"/><path class="y38" d="M1245 1313h0"/><path class="y0" d="M1189 1305h0"/><path class="y6" d="M1219 1309h0"/><path class="y7" d="M1227 1309h0"/><path class="y28" d="M1327 1311h0"/><path class="y33" d="M1347 1314h0"/><path class="y34" d="M1359 1319h0"/><path class="y37" d="M1371 1323h0"/><path class="y38" d="M1377 1325h0"/><path class="y8" d="M1259 1300h0"/><path class="y15" d="M1286 1304h0"/><path class="y16" d="M1290 1304h0"/><path class="y17" d="M1297 1305h0"/><path class="y32" d="M1379 1335h0"/><path class="y33" d="M1384 1335h0"/><path class="y34" d="M1395 1335h0"/><path class="y35" d="M1399 1334h0"/><path class="y36" d="M1404 1333h0"/><path class="y37" d="M1406 1333h0"/><path class="y38" d="M1410 1334h0"/><path class="y5" d="M1185 1290h0"/><path class="y6" d="M1190 1292h0"/><path class="y10" d="M1209 1293h0"/><path class="y18" d="M1254 1296h0"/><path class="y19" d="M1261 1302h0"/><path class="y27" d="M1304 1308h0"/><path class="y3" d="M1151 1283h0"/><path class="y4" d="M1153 1283h0"/><path class="y6" d="M1159 1284h0"/><path class="y8" d="M1169 1286h0"/><path class="y9" d="M1170 1288h0"/><path class="y10" d="M1176 1288h0"/><path class="y11" d="M1180 1291h0"/><path class="y14" d="M1196 1292h0"/><path class="y36" d="M1289 1319h0"/><path class="y5" d="M1187 1292h0"/><path class="y7" d="M1199 1294h0"/><path class="y10" d="M1211 1292h0"/><path class="y37" d="M1352 1332h0"/><path class="y38" d="M1359 1334h0"/><path class="y22" d="M1295 1305h0"/><path class="y25" d="M1303 1307h0"/><path class="y34" d="M1340 1328h0"/><path class="y9" d="M1239 1310h0"/><path class="y20" d="M1295 1306h0"/><path class="y28" d="M1328 1313h0"/><path class="y31" d="M1332 1315h0"/><path class="y37" d="M1366 1333h0"/><path class="y18" d="M1216 1292h0"/><path class="y19" d="M1225 1296h0"/><path class="y27" d="M1279 1301h0"/><path class="y31" d="M1305 1310h0"/><path class="y32" d="M1314 1305h0"/><path class="y33" d="M1324 1310h0"/><path class="y34" d="M1340 1315h0"/><path class="y35" d="M1347 1315h0"/><path class="y36" d="M1353 1315h0"/><path class="y37" d="M1358 1321h0"/><path class="y38" d="M1366 1321h0"/><path class="y0" d="M1108 1283h0"/><path class="y1" d="M1113 1288h0"/><path class="y2" d="M1118 1287h0"/><path class="y3" d="M1124 1289h0"/><path class="y28" d="M1236 1298h0"/><path class="y0" d="M1072 1273h0"/><path class="y1" d="M1079 1272h0"/><path class="y2" d="M1082 1272h0"/><path class="y3" d="M1089 1273h0"/><path class="y4" d="M1095 1273h0"/><path class="y5" d="M1102 1273h0"/><path class="y6" d="M1109 1273h0"/><path class="y7" d="M1113 1274h0"/><path class="y8" d="M1121 1276h0"/><path class="y9" d="M1127 1277h0"/><path class="y10" d="M1131 1278h0"/><path class="y11" d="M1138 1280h0"/><path class="y12" d="M1144 1281h0"/><path class="y13" d="M1147 1282h0"/><path class="y14" d="M1154 1283h0"/><path class="y15" d="M1157 1285h0"/><path class="y16" d="M1163 1286h0"/><path class="y17" d="M1170 1288h0"/><path class="y18" d="M1172 1287h0"/><path class="y19" d="M1176 1288h0"/><path class="y21" d="M1186 1292h0"/><path class="y23" d="M1199 1294h0"/><path class="y24" d="M1203 1294h0"/><path class="y25" d="M1210 1292h0"/><path class="y26" d="M1216 1293h0"/><path class="y27" d="M1222 1295h0"/><path class="y30" d="M1233 1298h0"/><path class="y33" d="M1253 1298h0"/><path class="y34" d="M1267 1299h0"/><path class="y35" d="M1270 1298h0"/><path class="y36" d="M1277 1300h0"/><path class="y37" d="M1282 1303h0"/><path class="y38" d="M1286 1304h0"/><path class="y0" d="M1125 1290h0"/><path class="y1" d="M1129 1290h0"/><path class="y2" d="M1134 1292h0"/><path class="y3" d="M1139 1294h0"/><path class="y4" d="M1147 1295h0"/><path class="y5" d="M1152 1293h0"/><path class="y8" d="M1170 1301h0"/><path class="y9" d="M1175 1302h0"/><path class="y15" d="M1203 1306h0"/><path class="y16" d="M1208 1307h0"/><path class="y17" d="M1212 1308h0"/><path class="y19" d="M1223 1307h0"/><path class="y20" d="M1227 1309h0"/><path class="y21" d="M1231 1309h0"/><path class="y22" d="M1235 1310h0"/><path class="y24" d="M1244 1313h0"/><path class="y25" d="M1248 1314h0"/><path class="y26" d="M1255 1314h0"/><path class="y27" d="M1260 1314h0"/><path class="y28" d="M1267 1316h0"/><path class="y29" d="M1264 1314h0"/><path class="y30" d="M1270 1313h0"/><path class="y31" d="M1277 1317h0"/><path class="y32" d="M1282 1319h0"/><path class="y33" d="M1288 1320h0"/><path class="y34" d="M1301 1326h0"/><path class="y35" d="M1305 1328h0"/><path class="y36" d="M1310 1328h0"/><path class="y37" d="M1315 1328h0"/><path class="y38" d="M1321 1329h0"/><path class="y0" d="M1204 1293h0"/><path class="y1" d="M1208 1293h0"/><path class="y2" d="M1213 1297h0"/><path class="y5" d="M1229 1296h0"/><path class="y6" d="M1235 1300h0"/><path class="y7" d="M1239 1298h0"/><path class="y8" d="M1245 1300h0"/><path class="y10" d="M1254 1302h0"/><path class="y12" d="M1261 1302h0"/><path class="y14" d="M1269 1302h0"/><path class="y15" d="M1272 1304h0"/><path class="y16" d="M1278 1305h0"/><path class="y18" d="M1282 1308h0"/><path class="y19" d="M1289 1305h0"/><path class="y20" d="M1294 1308h0"/><path class="y21" d="M1298 1308h0"/><path class="y22" d="M1300 1315h0"/><path class="y23" d="M1307 1315h0"/><path class="y24" d="M1311 1318h0"/><path class="y25" d="M1317 1319h0"/><path class="y26" d="M1322 1319h0"/><path class="y27" d="M1323 1324h0"/><path class="y28" d="M1331 1326h0"/><path class="y29" d="M1331 1319h0"/><path class="y30" d="M1337 1320h0"/><path class="y32" d="M1345 1332h0"/><path class="y33" d="M1351 1330h0"/><path class="y34" d="M1357 1332h0"/><path class="y35" d="M1365 1331h0"/><path class="y36" d="M1370 1331h0"/><path class="y37" d="M1373 1336h0"/><path class="y38" d="M1379 1335h0"/><path class="y0" d="M1193 1306h0"/><path class="y1" d="M1198 1304h0"/><path class="y2" d="M1205 1306h0"/><path class="y5" d="M1221 1307h0"/><path class="y7" d="M1232 1306h0"/><path class="y8" d="M1236 1309h0"/><path class="y9" d="M1242 1309h0"/><path class="y11" d="M1253 1310h0"/><path class="y12" d="M1258 1307h0"/><path class="y13" d="M1262 1308h0"/><path class="y15" d="M1272 1313h0"/><path class="y16" d="M1277 1315h0"/><path class="y17" d="M1280 1310h0"/><path class="y18" d="M1287 1308h0"/><path class="y19" d="M1290 1313h0"/><path class="y20" d="M1294 1317h0"/><path class="y21" d="M1300 1322h0"/><path class="y22" d="M1304 1325h0"/><path class="y23" d="M1310 1323h0"/><path class="y24" d="M1314 1324h0"/><path class="y25" d="M1321 1324h0"/><path class="y26" d="M1325 1327h0"/><path class="y27" d="M1332 1320h0"/><path class="y28" d="M1338 1324h0"/><path class="y29" d="M1336 1320h0"/><path class="y30" d="M1341 1322h0"/><path class="y31" d="M1347 1326h0"/><path class="y32" d="M1350 1324h0"/><path class="y33" d="M1357 1327h0"/><path class="y34" d="M1368 1325h0"/><path class="y35" d="M1373 1326h0"/><path class="y36" d="M1379 1328h0"/><path class="y37" d="M1382 1332h0"/><path class="y38" d="M1388 1330h0"/><path class="y0" d="M1067 1277h0"/><path class="y1" d="M1070 1279h0"/><path class="y2" d="M1075 1278h0"/><path class="y3" d="M1078 1279h0"/><path class="y4" d="M1082 1280h0"/><path class="y5" d="M1084 1280h0"/><path class="y6" d="M1087 1283h0"/><path class="y7" d="M1093 1283h0"/><path class="y8" d="M1098 1281h0"/><path class="y9" d="M1102 1285h0"/><path class="y10" d="M1107 1286h0"/><path class="y11" d="M1112 1291h0"/><path class="y12" d="M1116 1290h0"/><path class="y13" d="M1121 1291h0"/><path class="y14" d="M1124 1291h0"/><path class="y15" d="M1130 1293h0"/><path class="y16" d="M1133 1291h0"/><path class="y17" d="M1135 1295h0"/><path class="y18" d="M1140 1295h0"/><path class="y19" d="M1145 1299h0"/><path class="y20" d="M1149 1299h0"/><path class="y21" d="M1151 1297h0"/><path class="y22" d="M1153 1295h0"/><path class="y23" d="M1158 1298h0"/><path class="y24" d="M1160 1297h0"/><path class="y25" d="M1163 1297h0"/><path class="y26" d="M1166 1300h0"/><path class="y27" d="M1169 1300h0"/><path class="y29" d="M1172 1301h0"/><path class="y30" d="M1178 1303h0"/><path class="y31" d="M1180 1303h0"/><path class="y33" d="M1190 1303h0"/><path class="y34" d="M1199 1303h0"/><path class="y35" d="M1205 1305h0"/><path class="y36" d="M1211 1305h0"/><path class="y37" d="M1214 1306h0"/><path class="y38" d="M1218 1306h0"/><path class="y0" d="M1155 1287h0"/><path class="y1" d="M1156 1289h0"/><path class="y2" d="M1163 1294h0"/><path class="y3" d="M1166 1295h0"/><path class="y4" d="M1169 1294h0"/><path class="y5" d="M1173 1289h0"/><path class="y6" d="M1174 1294h0"/><path class="y7" d="M1178 1293h0"/><path class="y8" d="M1182 1296h0"/><path class="y9" d="M1187 1295h0"/><path class="y10" d="M1193 1296h0"/><path class="y11" d="M1196 1297h0"/><path class="y12" d="M1200 1297h0"/><path class="y13" d="M1204 1294h0"/><path class="y14" d="M1209 1297h0"/><path class="y15" d="M1214 1299h0"/><path class="y16" d="M1219 1295h0"/><path class="y17" d="M1223 1303h0"/><path class="y18" d="M1228 1301h0"/><path class="y19" d="M1234 1301h0"/><path class="y20" d="M1237 1302h0"/><path class="y21" d="M1242 1302h0"/><path class="y22" d="M1248 1302h0"/><path class="y23" d="M1250 1303h0"/><path class="y24" d="M1255 1304h0"/><path class="y25" d="M1259 1302h0"/><path class="y27" d="M1266 1305h0"/><path class="y28" d="M1270 1309h0"/><path class="y29" d="M1267 1310h0"/><path class="y30" d="M1270 1312h0"/><path class="y31" d="M1276 1313h0"/><path class="y32" d="M1279 1309h0"/><path class="y33" d="M1284 1310h0"/><path class="y34" d="M1293 1318h0"/><path class="y35" d="M1297 1318h0"/><path class="y36" d="M1302 1323h0"/><path class="y37" d="M1308 1324h0"/><path class="y38" d="M1309 1324h0"/><path class="y0" d="M1160 1290h0"/><path class="y1" d="M1163 1291h0"/><path class="y2" d="M1166 1292h0"/><path class="y3" d="M1170 1292h0"/><path class="y4" d="M1173 1293h0"/><path class="y5" d="M1176 1292h0"/><path class="y6" d="M1179 1293h0"/><path class="y7" d="M1182 1294h0"/><path class="y8" d="M1185 1293h0"/><path class="y9" d="M1188 1294h0"/><path class="y10" d="M1191 1294h0"/><path class="y11" d="M1194 1295h0"/><path class="y12" d="M1196 1296h0"/><path class="y13" d="M1199 1297h0"/><path class="y14" d="M1202 1297h0"/><path class="y15" d="M1205 1297h0"/><path class="y16" d="M1207 1297h0"/><path class="y17" d="M1210 1297h0"/><path class="y18" d="M1212 1299h0"/><path class="y19" d="M1215 1300h0"/><path class="y20" d="M1217 1301h0"/><path class="y21" d="M1220 1301h0"/><path class="y22" d="M1222 1303h0"/><path class="y23" d="M1225 1304h0"/><path class="y24" d="M1228 1304h0"/><path class="y25" d="M1230 1304h0"/><path class="y26" d="M1233 1303h0"/><path class="y27" d="M1235 1303h0"/><path class="y28" d="M1238 1303h0"/><path class="y29" d="M1237 1303h0"/><path class="y30" d="M1240 1304h0"/><path class="y31" d="M1243 1304h0"/><path class="y32" d="M1246 1306h0"/><path class="y33" d="M1249 1305h0"/><path class="y34" d="M1256 1305h0"/><path class="y35" d="M1259 1306h0"/><path class="y36" d="M1262 1307h0"/><path class="y37" d="M1265 1308h0"/><path class="y38" d="M1268 1308h0"/><path class="y0" d="M925 1261h0"/><path class="y1" d="M958 1268h0M957 1256h0"/><path class="y2" d="M978 1257h0"/><path class="y4" d="M1009 1264h0"/><path class="y8" d="M1027 1258h0"/><path class="y15" d="M1055 1265h0"/><path class="y4" d="M1052 1293h0"/><path class="y6" d="M1179 1309h0"/><path class="y11" d="M1231 1320h0M1249 1320h0"/></g>
<path d="M926.8 1253.9L1414.0 1331.8" stroke="#f00" stroke-width="9" fill="none"/>
<rect x="1453" y="955" width="538" height="106" fill="#d9d9d9"/>
<text transform="translate(1722.5,1030.3) scale(1,1.050)" font-size="62.2" text-anchor="middle">80</text>
<rect x="1453" y="1061" width="538" height="536" fill="#f4f4f4"/>
<path d="M1494.0 1061V1597M1653.0 1061V1597M1805.5 1061V1597M1958.0 1061V1597M1453 1069.1H1991M1453 1111.3H1991M1453 1195.7H1991M1453 1280.1H1991M1453 1364.5H1991M1453 1448.9H1991M1453 1533.3H1991M1453 1575.5H1991" stroke="#fff" stroke-width="4" fill="none"/>
<path d="M1573.5 1061V1597M1732.0 1061V1597M1879.0 1061V1597M1453 1153.5H1991M1453 1237.9H1991M1453 1322.3H1991M1453 1406.7H1991M1453 1491.1H1991" stroke="#fff" stroke-width="7" fill="none"/>
<g class="P" clip-path="url(#c12)"><path class="y11" d="M1574 1241h0"/><path class="y15" d="M1569 1240h0"/><path class="y12" d="M1595 1237h0"/><path class="y13" d="M1588 1238h0"/><path class="y14" d="M1580 1240h0"/><path class="y17" d="M1567 1241h0"/><path class="y18" d="M1576 1242h0"/><path class="y22" d="M1604 1238h0"/><path class="y10" d="M1575 1240h0"/><path class="y11" d="M1571 1240h0"/><path class="y13" d="M1563 1241h0"/><path class="y14" d="M1557 1241h0"/><path class="y15" d="M1554 1241h0"/><path class="y16" d="M1561 1241h0"/><path class="y17" d="M1567 1240h0"/><path class="y18" d="M1573 1240h0"/><path class="y11" d="M1553 1241h0"/><path class="y12" d="M1546 1240h0"/><path class="y13" d="M1544 1240h0"/><path class="y14" d="M1538 1239h0"/><path class="y15" d="M1537 1239h0"/><path class="y16" d="M1535 1239h0"/><path class="y17" d="M1545 1240h0"/><path class="y18" d="M1550 1240h0"/><path class="y19" d="M1556 1241h0"/><path class="y20" d="M1562 1242h0"/><path class="y21" d="M1570 1242h0"/><path class="y23" d="M1581 1243h0"/><path class="y24" d="M1588 1244h0"/><path class="y10" d="M1551 1241h0"/><path class="y11" d="M1548 1240h0"/><path class="y12" d="M1545 1240h0"/><path class="y13" d="M1542 1240h0"/><path class="y14" d="M1539 1239h0"/><path class="y15" d="M1538 1239h0"/><path class="y16" d="M1542 1240h0"/><path class="y17" d="M1547 1240h0"/><path class="y18" d="M1556 1241h0"/><path class="y19" d="M1562 1242h0"/><path class="y20" d="M1566 1242h0"/><path class="y21" d="M1573 1242h0"/><path class="y22" d="M1576 1241h0"/><path class="y23" d="M1580 1242h0"/><path class="y25" d="M1591 1244h0"/><path class="y26" d="M1597 1243h0"/><path class="y27" d="M1600 1244h0"/><path class="y28" d="M1595 1243h0"/><path class="y29" d="M1603 1244h0"/><path class="y30" d="M1605 1243h0"/><path class="y31" d="M1619 1243h0"/><path class="y32" d="M1624 1243h0"/><path class="y33" d="M1627 1243h0"/><path class="y38" d="M1643 1244h0"/><path class="y12" d="M1587 1244h0"/><path class="y13" d="M1584 1243h0"/><path class="y14" d="M1582 1242h0"/><path class="y15" d="M1581 1242h0"/><path class="y16" d="M1583 1242h0"/><path class="y17" d="M1591 1243h0"/><path class="y18" d="M1596 1242h0"/><path class="y19" d="M1602 1242h0"/><path class="y20" d="M1604 1243h0"/><path class="y21" d="M1611 1243h0"/><path class="y22" d="M1616 1243h0"/><path class="y23" d="M1620 1242h0"/><path class="y24" d="M1629 1244h0"/><path class="y25" d="M1632 1244h0"/><path class="y26" d="M1637 1244h0"/><path class="y28" d="M1636 1244h0"/><path class="y31" d="M1659 1248h0"/><path class="y32" d="M1660 1249h0"/><path class="y33" d="M1666 1250h0"/><path class="y34" d="M1670 1251h0"/><path class="y35" d="M1674 1253h0"/><path class="y36" d="M1678 1254h0"/><path class="y37" d="M1683 1255h0"/><path class="y38" d="M1689 1257h0"/><path class="y12" d="M1597 1237h0"/><path class="y13" d="M1588 1238h0"/><path class="y14" d="M1578 1240h0"/><path class="y15" d="M1572 1240h0"/><path class="y16" d="M1564 1241h0"/><path class="y17" d="M1562 1241h0"/><path class="y18" d="M1572 1241h0"/><path class="y19" d="M1578 1240h0"/><path class="y20" d="M1584 1241h0"/><path class="y21" d="M1594 1240h0"/><path class="y22" d="M1601 1240h0"/><path class="y23" d="M1604 1239h0"/><path class="y24" d="M1609 1238h0"/><path class="y28" d="M1628 1240h0"/><path class="y26" d="M1887 1286h0"/><path class="y37" d="M1937 1287h0"/><path class="y38" d="M1944 1287h0"/><path class="y1" d="M1736 1247h0"/><path class="y2" d="M1742 1247h0"/><path class="y3" d="M1747 1247h0"/><path class="y4" d="M1751 1248h0"/><path class="y0" d="M1727 1245h0"/><path class="y31" d="M1877 1268h0"/><path class="y37" d="M1917 1278h0"/><path class="y38" d="M1919 1280h0"/><path class="y1" d="M1742 1247h0"/><path class="y9" d="M1777 1253h0"/><path class="y34" d="M1881 1268h0"/><path class="y35" d="M1887 1271h0"/><path class="y5" d="M1739 1247h0"/><path class="y6" d="M1741 1248h0"/><path class="y7" d="M1746 1248h0"/><path class="y10" d="M1758 1248h0"/><path class="y11" d="M1761 1249h0"/><path class="y12" d="M1765 1250h0"/><path class="y0" d="M1605 1238h0"/><path class="y1" d="M1607 1237h0"/><path class="y2" d="M1611 1237h0"/><path class="y3" d="M1617 1236h0"/><path class="y4" d="M1620 1236h0"/><path class="y5" d="M1624 1237h0"/><path class="y17" d="M1803 1268h0"/><path class="y18" d="M1810 1271h0"/><path class="y19" d="M1815 1272h0"/><path class="y22" d="M1835 1273h0"/><path class="y28" d="M1876 1286h0"/><path class="y29" d="M1873 1284h0"/><path class="y32" d="M1890 1288h0"/><path class="y34" d="M1904 1291h0"/><path class="y35" d="M1909 1290h0"/><path class="y27" d="M1882 1285h0"/><path class="y29" d="M1885 1284h0"/><path class="y38" d="M1932 1283h0"/><path class="y1" d="M1637 1237h0"/><path class="y2" d="M1644 1237h0"/><path class="y3" d="M1647 1237h0"/><path class="y4" d="M1653 1239h0"/><path class="y5" d="M1662 1239h0"/><path class="y10" d="M1671 1250h0"/><path class="y11" d="M1668 1250h0"/><path class="y14" d="M1661 1248h0"/><path class="y15" d="M1658 1247h0"/><path class="y16" d="M1661 1248h0"/><path class="y18" d="M1678 1253h0"/><path class="y19" d="M1685 1254h0"/><path class="y25" d="M1723 1258h0"/><path class="y26" d="M1726 1260h0"/><path class="y27" d="M1728 1261h0"/><path class="y28" d="M1730 1261h0"/><path class="y29" d="M1735 1260h0"/><path class="y30" d="M1739 1261h0"/><path class="y31" d="M1752 1262h0"/><path class="y36" d="M1781 1267h0"/><path class="y37" d="M1786 1267h0"/><path class="y38" d="M1789 1268h0"/><path class="y0" d="M1611 1238h0"/><path class="y1" d="M1615 1238h0"/><path class="y2" d="M1621 1238h0"/><path class="y9" d="M1650 1239h0"/><path class="y10" d="M1655 1240h0"/><path class="y12" d="M1663 1240h0"/><path class="y13" d="M1665 1239h0"/><path class="y26" d="M1723 1258h0"/><path class="y27" d="M1731 1260h0"/><path class="y28" d="M1729 1260h0"/><path class="y29" d="M1737 1259h0"/><path class="y31" d="M1760 1263h0"/><path class="y34" d="M1776 1266h0"/><path class="y35" d="M1782 1267h0"/><path class="y36" d="M1789 1267h0"/><path class="y37" d="M1794 1268h0"/><path class="y38" d="M1799 1269h0"/><path class="y28" d="M1727 1258h0"/><path class="y11" d="M1684 1241h0"/><path class="y12" d="M1688 1242h0"/><path class="y13" d="M1692 1242h0"/><path class="y15" d="M1697 1245h0"/><path class="y16" d="M1702 1244h0"/><path class="y22" d="M1836 1274h0"/><path class="y25" d="M1850 1277h0"/><path class="y26" d="M1853 1278h0"/><path class="y28" d="M1862 1282h0"/><path class="y29" d="M1862 1281h0"/><path class="y34" d="M1891 1286h0"/><path class="y10" d="M1661 1247h0"/><path class="y12" d="M1653 1246h0"/><path class="y3" d="M1755 1260h0"/><path class="y7" d="M1779 1265h0"/><path class="y18" d="M1829 1274h0"/><path class="y20" d="M1840 1274h0"/><path class="y21" d="M1843 1276h0"/><path class="y22" d="M1847 1275h0"/><path class="y23" d="M1852 1278h0"/><path class="y24" d="M1858 1281h0"/><path class="y25" d="M1864 1282h0"/><path class="y26" d="M1869 1283h0"/><path class="y27" d="M1875 1283h0"/><path class="y28" d="M1879 1284h0"/><path class="y31" d="M1890 1285h0"/><path class="y32" d="M1894 1290h0"/><path class="y33" d="M1899 1291h0"/><path class="y34" d="M1911 1290h0"/><path class="y35" d="M1916 1289h0"/><path class="y36" d="M1922 1290h0"/><path class="y37" d="M1923 1288h0"/><path class="y38" d="M1929 1289h0"/><path class="y2" d="M1778 1265h0"/><path class="y24" d="M1892 1288h0"/><path class="y29" d="M1915 1287h0"/><path class="y30" d="M1922 1286h0"/><path class="y31" d="M1928 1288h0"/><path class="y32" d="M1931 1288h0"/><path class="y33" d="M1936 1287h0"/><path class="y34" d="M1947 1289h0"/><path class="y35" d="M1951 1288h0"/><path class="y36" d="M1956 1288h0"/><path class="y37" d="M1958 1289h0"/><path class="y38" d="M1962 1290h0"/><path class="y0" d="M1714 1245h0"/><path class="y1" d="M1720 1244h0"/><path class="y2" d="M1723 1246h0"/><path class="y10" d="M1761 1251h0"/><path class="y11" d="M1766 1251h0"/><path class="y38" d="M1912 1285h0"/><path class="y0" d="M1693 1244h0"/><path class="y1" d="M1696 1245h0"/><path class="y2" d="M1699 1244h0"/><path class="y3" d="M1703 1244h0"/><path class="y4" d="M1705 1244h0"/><path class="y7" d="M1715 1247h0"/><path class="y8" d="M1721 1246h0"/><path class="y9" d="M1722 1246h0"/><path class="y10" d="M1728 1246h0"/><path class="y11" d="M1732 1248h0"/><path class="y15" d="M1754 1248h0"/><path class="y16" d="M1759 1250h0"/><path class="y21" d="M1783 1251h0"/><path class="y22" d="M1789 1254h0"/><path class="y14" d="M1719 1257h0"/><path class="y17" d="M1731 1259h0"/><path class="y18" d="M1736 1259h0"/><path class="y19" d="M1741 1260h0"/><path class="y20" d="M1746 1259h0"/><path class="y21" d="M1751 1261h0"/><path class="y22" d="M1757 1260h0"/><path class="y23" d="M1761 1262h0"/><path class="y29" d="M1779 1264h0"/><path class="y30" d="M1784 1266h0"/><path class="y31" d="M1786 1266h0"/><path class="y34" d="M1801 1267h0"/><path class="y2" d="M1721 1249h0"/><path class="y3" d="M1729 1249h0"/><path class="y17" d="M1800 1267h0"/><path class="y18" d="M1804 1268h0"/><path class="y25" d="M1844 1274h0"/><path class="y26" d="M1851 1276h0"/><path class="y31" d="M1871 1283h0"/><path class="y33" d="M1880 1282h0"/><path class="y34" d="M1893 1287h0"/><path class="y35" d="M1896 1285h0"/><path class="y9" d="M1789 1254h0"/><path class="y10" d="M1794 1254h0"/><path class="y11" d="M1800 1255h0"/><path class="y12" d="M1805 1255h0"/><path class="y14" d="M1817 1257h0"/><path class="y15" d="M1823 1260h0"/><path class="y16" d="M1824 1261h0"/><path class="y17" d="M1832 1260h0"/><path class="y18" d="M1833 1261h0"/><path class="y19" d="M1837 1260h0"/><path class="y20" d="M1841 1259h0"/><path class="y21" d="M1844 1259h0"/><path class="y22" d="M1847 1260h0"/><path class="y23" d="M1850 1260h0"/><path class="y24" d="M1852 1260h0"/><path class="y25" d="M1855 1259h0"/><path class="y32" d="M1876 1269h0"/><path class="y33" d="M1883 1272h0"/><path class="y34" d="M1892 1272h0"/><path class="y35" d="M1896 1272h0"/><path class="y36" d="M1901 1274h0"/><path class="y37" d="M1906 1277h0"/><path class="y38" d="M1913 1277h0"/><path class="y27" d="M1876 1283h0"/><path class="y28" d="M1880 1281h0"/><path class="y29" d="M1877 1281h0"/><path class="y32" d="M1887 1275h0"/><path class="y34" d="M1902 1289h0"/><path class="y36" d="M1911 1285h0"/><path class="y38" d="M1923 1285h0"/><path class="y1" d="M1643 1245h0"/><path class="y2" d="M1652 1246h0"/><path class="y3" d="M1660 1248h0"/><path class="y4" d="M1668 1250h0"/><path class="y11" d="M1729 1258h0"/><path class="y12" d="M1734 1257h0"/><path class="y13" d="M1740 1258h0"/><path class="y14" d="M1747 1259h0"/><path class="y29" d="M1838 1273h0"/><path class="y30" d="M1848 1275h0"/><path class="y34" d="M1892 1277h0"/><path class="y36" d="M1905 1278h0"/><path class="y37" d="M1910 1278h0"/><path class="y38" d="M1918 1281h0"/><path class="y0" d="M1660 1247h0"/><path class="y1" d="M1665 1248h0"/><path class="y8" d="M1698 1256h0"/><path class="y9" d="M1704 1258h0"/><path class="y10" d="M1708 1258h0"/><path class="y11" d="M1714 1258h0"/><path class="y12" d="M1717 1258h0"/><path class="y13" d="M1720 1256h0"/><path class="y15" d="M1731 1257h0"/><path class="y16" d="M1731 1257h0"/><path class="y19" d="M1745 1260h0"/><path class="y20" d="M1749 1260h0"/><path class="y21" d="M1753 1259h0"/><path class="y25" d="M1774 1266h0"/><path class="y27" d="M1784 1264h0"/><path class="y29" d="M1786 1266h0"/><path class="y31" d="M1796 1266h0"/><path class="y32" d="M1803 1267h0"/><path class="y33" d="M1808 1269h0"/><path class="y34" d="M1815 1271h0"/><path class="y35" d="M1821 1273h0"/><path class="y36" d="M1823 1273h0"/><path class="y37" d="M1827 1274h0"/><path class="y38" d="M1833 1274h0"/><path class="y0" d="M1624 1241h0"/><path class="y1" d="M1631 1240h0"/><path class="y2" d="M1634 1244h0"/><path class="y3" d="M1641 1244h0"/><path class="y4" d="M1647 1245h0"/><path class="y5" d="M1654 1246h0"/><path class="y6" d="M1661 1244h0"/><path class="y7" d="M1665 1248h0"/><path class="y8" d="M1673 1250h0"/><path class="y9" d="M1679 1252h0"/><path class="y10" d="M1683 1254h0"/><path class="y11" d="M1690 1256h0"/><path class="y12" d="M1696 1256h0"/><path class="y13" d="M1699 1256h0"/><path class="y14" d="M1706 1255h0"/><path class="y15" d="M1709 1256h0"/><path class="y16" d="M1715 1255h0"/><path class="y17" d="M1722 1256h0"/><path class="y18" d="M1724 1257h0"/><path class="y19" d="M1728 1258h0"/><path class="y20" d="M1734 1256h0"/><path class="y21" d="M1738 1257h0"/><path class="y0" d="M1677 1240h0"/><path class="y1" d="M1681 1240h0"/><path class="y2" d="M1686 1242h0"/><path class="y3" d="M1691 1245h0"/><path class="y4" d="M1699 1245h0"/><path class="y5" d="M1704 1246h0"/><path class="y7" d="M1715 1249h0"/><path class="y8" d="M1722 1250h0"/><path class="y9" d="M1727 1249h0"/><path class="y10" d="M1733 1248h0"/><path class="y11" d="M1737 1247h0"/><path class="y12" d="M1745 1249h0"/><path class="y13" d="M1749 1252h0"/><path class="y14" d="M1753 1251h0"/><path class="y15" d="M1755 1252h0"/><path class="y17" d="M1764 1251h0"/><path class="y20" d="M1779 1253h0"/><path class="y21" d="M1783 1254h0"/><path class="y22" d="M1787 1253h0"/><path class="y23" d="M1793 1255h0"/><path class="y24" d="M1796 1256h0"/><path class="y25" d="M1800 1256h0"/><path class="y26" d="M1807 1256h0"/><path class="y29" d="M1816 1259h0"/><path class="y32" d="M1834 1261h0"/><path class="y33" d="M1840 1261h0"/><path class="y34" d="M1853 1263h0"/><path class="y35" d="M1857 1266h0"/><path class="y38" d="M1873 1265h0"/><path class="y4" d="M1776 1256h0"/><path class="y5" d="M1781 1256h0"/><path class="y6" d="M1787 1255h0"/><path class="y7" d="M1791 1257h0"/><path class="y10" d="M1806 1261h0"/><path class="y11" d="M1811 1260h0"/><path class="y12" d="M1813 1260h0"/><path class="y13" d="M1819 1261h0"/><path class="y14" d="M1821 1260h0"/><path class="y15" d="M1824 1261h0"/><path class="y16" d="M1830 1264h0"/><path class="y18" d="M1834 1265h0"/><path class="y21" d="M1850 1267h0"/><path class="y22" d="M1852 1267h0"/><path class="y23" d="M1859 1266h0"/><path class="y24" d="M1863 1263h0"/><path class="y25" d="M1869 1270h0"/><path class="y26" d="M1874 1270h0"/><path class="y27" d="M1875 1271h0"/><path class="y28" d="M1883 1274h0"/><path class="y29" d="M1883 1274h0"/><path class="y30" d="M1889 1276h0"/><path class="y32" d="M1897 1277h0"/><path class="y33" d="M1903 1279h0"/><path class="y34" d="M1909 1280h0"/><path class="y35" d="M1917 1283h0"/><path class="y36" d="M1922 1280h0"/><path class="y37" d="M1925 1282h0"/><path class="y38" d="M1931 1283h0"/><path class="y0" d="M1745 1258h0"/><path class="y1" d="M1750 1259h0"/><path class="y2" d="M1757 1260h0"/><path class="y3" d="M1763 1262h0"/><path class="y4" d="M1768 1260h0"/><path class="y6" d="M1776 1265h0"/><path class="y7" d="M1784 1264h0"/><path class="y8" d="M1788 1267h0"/><path class="y9" d="M1794 1264h0"/><path class="y10" d="M1801 1265h0"/><path class="y11" d="M1805 1265h0"/><path class="y12" d="M1810 1265h0"/><path class="y14" d="M1818 1270h0"/><path class="y16" d="M1829 1268h0"/><path class="y17" d="M1832 1268h0"/><path class="y18" d="M1839 1273h0"/><path class="y19" d="M1842 1272h0"/><path class="y20" d="M1846 1275h0"/><path class="y21" d="M1852 1277h0"/><path class="y22" d="M1856 1278h0"/><path class="y23" d="M1862 1281h0"/><path class="y24" d="M1866 1279h0"/><path class="y25" d="M1873 1278h0"/><path class="y26" d="M1877 1281h0"/><path class="y27" d="M1884 1278h0"/><path class="y28" d="M1890 1282h0"/><path class="y29" d="M1888 1283h0"/><path class="y30" d="M1893 1283h0"/><path class="y31" d="M1899 1284h0"/><path class="y32" d="M1902 1281h0"/><path class="y33" d="M1909 1286h0"/><path class="y34" d="M1920 1282h0"/><path class="y35" d="M1925 1285h0"/><path class="y36" d="M1931 1288h0"/><path class="y37" d="M1934 1286h0"/><path class="y38" d="M1940 1286h0"/><path class="y0" d="M1619 1236h0"/><path class="y1" d="M1622 1237h0"/><path class="y2" d="M1627 1236h0"/><path class="y3" d="M1630 1237h0"/><path class="y4" d="M1634 1236h0"/><path class="y5" d="M1636 1236h0"/><path class="y6" d="M1639 1236h0"/><path class="y7" d="M1645 1237h0"/><path class="y8" d="M1650 1238h0"/><path class="y9" d="M1654 1239h0"/><path class="y10" d="M1659 1239h0"/><path class="y11" d="M1664 1239h0"/><path class="y12" d="M1668 1239h0"/><path class="y13" d="M1673 1240h0"/><path class="y14" d="M1676 1240h0"/><path class="y15" d="M1682 1241h0"/><path class="y16" d="M1685 1244h0"/><path class="y17" d="M1687 1246h0"/><path class="y18" d="M1692 1249h0"/><path class="y19" d="M1697 1248h0"/><path class="y20" d="M1701 1246h0"/><path class="y21" d="M1703 1247h0"/><path class="y22" d="M1705 1246h0"/><path class="y23" d="M1710 1245h0"/><path class="y24" d="M1712 1248h0"/><path class="y25" d="M1715 1249h0"/><path class="y27" d="M1721 1251h0"/><path class="y31" d="M1732 1249h0"/><path class="y32" d="M1737 1248h0"/><path class="y33" d="M1742 1252h0"/><path class="y34" d="M1751 1251h0"/><path class="y35" d="M1757 1253h0"/><path class="y36" d="M1763 1252h0"/><path class="y37" d="M1766 1252h0"/><path class="y38" d="M1770 1249h0"/><path class="y0" d="M1707 1253h0"/><path class="y1" d="M1708 1252h0"/><path class="y2" d="M1715 1252h0"/><path class="y3" d="M1718 1253h0"/><path class="y4" d="M1721 1255h0"/><path class="y5" d="M1725 1252h0"/><path class="y6" d="M1726 1252h0"/><path class="y7" d="M1730 1255h0"/><path class="y8" d="M1734 1254h0"/><path class="y9" d="M1739 1252h0"/><path class="y10" d="M1745 1251h0"/><path class="y11" d="M1748 1253h0"/><path class="y12" d="M1752 1252h0"/><path class="y13" d="M1756 1254h0"/><path class="y14" d="M1761 1255h0"/><path class="y15" d="M1766 1258h0"/><path class="y16" d="M1771 1258h0"/><path class="y17" d="M1775 1258h0"/><path class="y18" d="M1780 1259h0"/><path class="y19" d="M1786 1258h0"/><path class="y20" d="M1789 1260h0"/><path class="y21" d="M1794 1258h0"/><path class="y22" d="M1800 1261h0"/><path class="y23" d="M1802 1263h0"/><path class="y24" d="M1807 1264h0"/><path class="y25" d="M1811 1266h0"/><path class="y26" d="M1814 1269h0"/><path class="y28" d="M1822 1266h0"/><path class="y29" d="M1819 1265h0"/><path class="y30" d="M1822 1267h0"/><path class="y31" d="M1828 1267h0"/><path class="y32" d="M1831 1265h0"/><path class="y33" d="M1836 1267h0"/><path class="y34" d="M1845 1271h0"/><path class="y35" d="M1849 1274h0"/><path class="y36" d="M1854 1275h0"/><path class="y37" d="M1860 1276h0"/><path class="y38" d="M1861 1275h0"/><path class="y0" d="M1712 1250h0"/><path class="y1" d="M1715 1250h0"/><path class="y2" d="M1718 1250h0"/><path class="y3" d="M1722 1252h0"/><path class="y4" d="M1725 1252h0"/><path class="y5" d="M1728 1252h0"/><path class="y6" d="M1731 1252h0"/><path class="y7" d="M1734 1254h0"/><path class="y8" d="M1737 1254h0"/><path class="y9" d="M1740 1254h0"/><path class="y10" d="M1743 1254h0"/><path class="y11" d="M1746 1254h0"/><path class="y12" d="M1748 1255h0"/><path class="y13" d="M1751 1255h0"/><path class="y14" d="M1754 1255h0"/><path class="y15" d="M1757 1255h0"/><path class="y16" d="M1759 1256h0"/><path class="y17" d="M1762 1256h0"/><path class="y18" d="M1764 1257h0"/><path class="y19" d="M1767 1258h0"/><path class="y20" d="M1769 1259h0"/><path class="y21" d="M1772 1258h0"/><path class="y22" d="M1774 1259h0"/><path class="y23" d="M1777 1259h0"/><path class="y24" d="M1780 1259h0"/><path class="y25" d="M1782 1260h0"/><path class="y26" d="M1785 1260h0"/><path class="y27" d="M1787 1261h0"/><path class="y28" d="M1790 1261h0"/><path class="y29" d="M1789 1261h0"/><path class="y30" d="M1792 1262h0"/><path class="y31" d="M1795 1263h0"/><path class="y32" d="M1798 1263h0"/><path class="y33" d="M1801 1264h0"/><path class="y34" d="M1808 1265h0"/><path class="y35" d="M1811 1266h0"/><path class="y36" d="M1814 1267h0"/><path class="y37" d="M1817 1268h0"/><path class="y38" d="M1820 1269h0"/><path class="y0" d="M1477 1235h0"/><path class="y1" d="M1509 1258h0"/><path class="y2" d="M1510 1280h0"/><path class="y3" d="M1531 1225h0"/><path class="y11" d="M1579 1220h0"/><path class="y15" d="M1544 1252h0"/><path class="y8" d="M1597 1260h0"/><path class="y15" d="M1609 1269h0"/><path class="y11" d="M1624 1267h0"/><path class="y13" d="M1643 1261h0"/><path class="y6" d="M1794 1283h0"/><path class="y2" d="M1766 1272h0"/><path class="y11" d="M1810 1248h0"/><path class="y23" d="M1861 1254h0"/></g>
<path d="M1477.4 1218.3L1966.9 1284.5" stroke="#f00" stroke-width="9" fill="none"/>
<rect x="2005" y="955" width="538" height="106" fill="#d9d9d9"/>
<text transform="translate(2274.5,1030.3) scale(1,1.050)" font-size="62.2" text-anchor="middle">90</text>
<rect x="2005" y="1061" width="538" height="536" fill="#f4f4f4"/>
<path d="M2046.0 1061V1597M2205.0 1061V1597M2357.5 1061V1597M2510.0 1061V1597M2005 1069.1H2543M2005 1111.3H2543M2005 1195.7H2543M2005 1280.1H2543M2005 1364.5H2543M2005 1448.9H2543M2005 1533.3H2543M2005 1575.5H2543" stroke="#fff" stroke-width="4" fill="none"/>
<path d="M2125.5 1061V1597M2284.0 1061V1597M2431.0 1061V1597M2005 1153.5H2543M2005 1237.9H2543M2005 1322.3H2543M2005 1406.7H2543M2005 1491.1H2543" stroke="#fff" stroke-width="7" fill="none"/>
<g class="P" clip-path="url(#c13)"><path class="y10" d="M2134 1205h0"/><path class="y11" d="M2126 1204h0"/><path class="y12" d="M2126 1204h0"/><path class="y13" d="M2123 1204h0"/><path class="y14" d="M2121 1204h0"/><path class="y15" d="M2121 1204h0"/><path class="y16" d="M2126 1204h0"/><path class="y17" d="M2129 1204h0"/><path class="y18" d="M2136 1205h0"/><path class="y21" d="M2158 1210h0"/><path class="y22" d="M2163 1211h0"/><path class="y23" d="M2169 1209h0"/><path class="y26" d="M2184 1210h0"/><path class="y27" d="M2188 1211h0"/><path class="y30" d="M2195 1212h0"/><path class="y31" d="M2207 1213h0"/><path class="y15" d="M2124 1204h0"/><path class="y16" d="M2122 1204h0"/><path class="y17" d="M2119 1204h0"/><path class="y18" d="M2128 1204h0"/><path class="y10" d="M2127 1204h0"/><path class="y11" d="M2123 1204h0"/><path class="y12" d="M2116 1204h0"/><path class="y13" d="M2115 1204h0"/><path class="y14" d="M2109 1204h0"/><path class="y15" d="M2106 1204h0"/><path class="y16" d="M2113 1204h0"/><path class="y17" d="M2119 1204h0"/><path class="y18" d="M2125 1204h0"/><path class="y19" d="M2130 1204h0"/><path class="y21" d="M2145 1202h0"/><path class="y31" d="M2199 1211h0"/><path class="y11" d="M2105 1204h0"/><path class="y12" d="M2098 1204h0"/><path class="y13" d="M2096 1203h0"/><path class="y14" d="M2090 1203h0"/><path class="y15" d="M2089 1203h0"/><path class="y16" d="M2087 1203h0"/><path class="y17" d="M2097 1204h0"/><path class="y18" d="M2102 1204h0"/><path class="y19" d="M2108 1204h0"/><path class="y20" d="M2114 1204h0"/><path class="y21" d="M2122 1204h0"/><path class="y22" d="M2130 1203h0"/><path class="y23" d="M2133 1203h0"/><path class="y24" d="M2140 1202h0"/><path class="y25" d="M2150 1200h0"/><path class="y26" d="M2153 1199h0"/><path class="y28" d="M2155 1197h0"/><path class="y30" d="M2166 1196h0"/><path class="y32" d="M2183 1198h0"/><path class="y34" d="M2192 1198h0"/><path class="y37" d="M2213 1199h0"/><path class="y10" d="M2103 1204h0"/><path class="y11" d="M2100 1204h0"/><path class="y12" d="M2097 1204h0"/><path class="y13" d="M2094 1203h0"/><path class="y14" d="M2091 1203h0"/><path class="y15" d="M2090 1203h0"/><path class="y16" d="M2094 1203h0"/><path class="y17" d="M2099 1204h0"/><path class="y18" d="M2108 1204h0"/><path class="y19" d="M2114 1204h0"/><path class="y20" d="M2118 1204h0"/><path class="y21" d="M2125 1204h0"/><path class="y22" d="M2128 1204h0"/><path class="y24" d="M2137 1206h0"/><path class="y25" d="M2143 1207h0"/><path class="y27" d="M2152 1209h0"/><path class="y28" d="M2147 1208h0"/><path class="y29" d="M2155 1209h0"/><path class="y30" d="M2157 1208h0"/><path class="y32" d="M2176 1211h0"/><path class="y33" d="M2179 1211h0"/><path class="y34" d="M2184 1211h0"/><path class="y36" d="M2192 1212h0"/><path class="y37" d="M2194 1211h0"/><path class="y10" d="M2152 1207h0"/><path class="y11" d="M2146 1206h0"/><path class="y12" d="M2139 1205h0"/><path class="y13" d="M2136 1203h0"/><path class="y14" d="M2134 1203h0"/><path class="y15" d="M2133 1204h0"/><path class="y16" d="M2135 1203h0"/><path class="y17" d="M2143 1202h0"/><path class="y18" d="M2148 1202h0"/><path class="y19" d="M2154 1207h0"/><path class="y20" d="M2156 1207h0"/><path class="y21" d="M2163 1207h0"/><path class="y26" d="M2189 1210h0"/><path class="y38" d="M2241 1219h0"/><path class="y12" d="M2149 1205h0"/><path class="y13" d="M2140 1204h0"/><path class="y14" d="M2130 1204h0"/><path class="y15" d="M2124 1204h0"/><path class="y16" d="M2116 1204h0"/><path class="y17" d="M2114 1204h0"/><path class="y18" d="M2124 1204h0"/><path class="y19" d="M2130 1204h0"/><path class="y20" d="M2136 1203h0"/><path class="y21" d="M2146 1203h0"/><path class="y22" d="M2153 1204h0"/><path class="y23" d="M2156 1205h0"/><path class="y24" d="M2161 1206h0"/><path class="y25" d="M2169 1204h0"/><path class="y6" d="M2330 1210h0"/><path class="y37" d="M2489 1235h0"/><path class="y38" d="M2496 1237h0"/><path class="y0" d="M2279 1221h0"/><path class="y1" d="M2282 1223h0"/><path class="y2" d="M2286 1223h0"/><path class="y3" d="M2293 1224h0"/><path class="y4" d="M2300 1223h0"/><path class="y5" d="M2306 1224h0"/><path class="y9" d="M2331 1223h0"/><path class="y10" d="M2337 1224h0"/><path class="y12" d="M2347 1223h0"/><path class="y13" d="M2352 1224h0"/><path class="y19" d="M2374 1228h0"/><path class="y20" d="M2380 1229h0"/><path class="y21" d="M2381 1229h0"/><path class="y22" d="M2386 1228h0"/><path class="y24" d="M2393 1228h0"/><path class="y26" d="M2407 1231h0"/><path class="y27" d="M2410 1232h0"/><path class="y28" d="M2416 1233h0"/><path class="y29" d="M2415 1232h0"/><path class="y32" d="M2418 1218h0"/><path class="y34" d="M2433 1221h0"/><path class="y35" d="M2439 1223h0"/><path class="y0" d="M2157 1203h0"/><path class="y1" d="M2159 1201h0"/><path class="y2" d="M2163 1200h0"/><path class="y3" d="M2169 1201h0"/><path class="y29" d="M2262 1222h0"/><path class="y30" d="M2267 1220h0"/><path class="y32" d="M2274 1219h0"/><path class="y34" d="M2286 1220h0"/><path class="y35" d="M2288 1222h0"/><path class="y36" d="M2290 1221h0"/><path class="y37" d="M2293 1222h0"/><path class="y38" d="M2298 1223h0"/><path class="y5" d="M2302 1207h0"/><path class="y6" d="M2308 1208h0"/><path class="y15" d="M2347 1211h0"/><path class="y16" d="M2351 1211h0"/><path class="y17" d="M2355 1211h0"/><path class="y26" d="M2413 1219h0"/><path class="y6" d="M2316 1208h0"/><path class="y7" d="M2323 1209h0"/><path class="y8" d="M2326 1210h0"/><path class="y9" d="M2331 1211h0"/><path class="y22" d="M2258 1220h0"/><path class="y2" d="M2280 1219h0"/><path class="y0" d="M2163 1199h0"/><path class="y1" d="M2167 1200h0"/><path class="y2" d="M2173 1202h0"/><path class="y3" d="M2176 1198h0"/><path class="y4" d="M2180 1198h0"/><path class="y5" d="M2186 1200h0"/><path class="y1" d="M2259 1203h0"/><path class="y15" d="M2318 1209h0"/><path class="y22" d="M2255 1219h0"/><path class="y23" d="M2261 1218h0"/><path class="y0" d="M2186 1210h0"/><path class="y1" d="M2195 1211h0"/><path class="y2" d="M2199 1211h0"/><path class="y7" d="M2222 1218h0"/><path class="y8" d="M2227 1219h0"/><path class="y9" d="M2229 1220h0"/><path class="y10" d="M2233 1216h0"/><path class="y11" d="M2236 1218h0"/><path class="y12" d="M2240 1219h0"/><path class="y13" d="M2244 1217h0"/><path class="y15" d="M2249 1220h0"/><path class="y19" d="M2263 1217h0M2379 1227h0"/><path class="y26" d="M2405 1230h0"/><path class="y5" d="M2281 1205h0"/><path class="y8" d="M2297 1205h0"/><path class="y9" d="M2306 1208h0"/><path class="y10" d="M2312 1209h0"/><path class="y13" d="M2330 1211h0"/><path class="y14" d="M2336 1209h0"/><path class="y15" d="M2340 1210h0"/><path class="y17" d="M2349 1211h0"/><path class="y24" d="M2381 1213h0"/><path class="y25" d="M2386 1212h0"/><path class="y26" d="M2390 1213h0"/><path class="y27" d="M2394 1213h0"/><path class="y28" d="M2402 1214h0"/><path class="y29" d="M2402 1214h0"/><path class="y30" d="M2408 1215h0"/><path class="y31" d="M2412 1219h0"/><path class="y34" d="M2442 1221h0"/><path class="y35" d="M2446 1222h0"/><path class="y36" d="M2452 1224h0"/><path class="y37" d="M2459 1224h0"/><path class="y38" d="M2464 1225h0"/><path class="y1" d="M2297 1222h0"/><path class="y5" d="M2320 1224h0"/><path class="y6" d="M2323 1224h0"/><path class="y7" d="M2331 1224h0"/><path class="y8" d="M2335 1223h0"/><path class="y9" d="M2338 1224h0"/><path class="y10" d="M2345 1224h0"/><path class="y11" d="M2349 1224h0"/><path class="y12" d="M2355 1226h0"/><path class="y13" d="M2358 1226h0"/><path class="y14" d="M2364 1227h0"/><path class="y15" d="M2369 1228h0"/><path class="y16" d="M2371 1228h0"/><path class="y18" d="M2381 1226h0"/><path class="y19" d="M2386 1226h0"/><path class="y20" d="M2392 1227h0"/><path class="y23" d="M2404 1229h0"/><path class="y24" d="M2410 1232h0"/><path class="y25" d="M2416 1233h0"/><path class="y27" d="M2427 1234h0"/><path class="y28" d="M2431 1236h0"/><path class="y29" d="M2429 1235h0"/><path class="y30" d="M2435 1237h0"/><path class="y31" d="M2442 1237h0"/><path class="y32" d="M2446 1236h0"/><path class="y33" d="M2451 1235h0"/><path class="y34" d="M2463 1235h0"/><path class="y35" d="M2468 1235h0"/><path class="y36" d="M2474 1235h0"/><path class="y37" d="M2475 1235h0"/><path class="y38" d="M2481 1236h0"/><path class="y8" d="M2363 1213h0"/><path class="y23" d="M2436 1225h0"/><path class="y28" d="M2469 1228h0"/><path class="y31" d="M2480 1230h0"/><path class="y33" d="M2488 1232h0"/><path class="y34" d="M2499 1235h0"/><path class="y35" d="M2503 1238h0"/><path class="y36" d="M2508 1242h0"/><path class="y37" d="M2510 1242h0"/><path class="y38" d="M2514 1242h0"/><path class="y11" d="M2318 1209h0"/><path class="y12" d="M2322 1209h0"/><path class="y13" d="M2327 1211h0"/><path class="y27" d="M2408 1217h0"/><path class="y37" d="M2458 1226h0"/><path class="y38" d="M2464 1226h0"/><path class="y30" d="M2361 1213h0"/><path class="y31" d="M2367 1212h0"/><path class="y32" d="M2368 1212h0"/><path class="y34" d="M2383 1214h0"/><path class="y36" d="M2393 1214h0"/><path class="y2" d="M2228 1216h0"/><path class="y3" d="M2234 1213h0"/><path class="y18" d="M2288 1221h0"/><path class="y21" d="M2303 1220h0"/><path class="y36" d="M2358 1222h0"/><path class="y0" d="M2307 1222h0"/><path class="y1" d="M2311 1224h0"/><path class="y2" d="M2313 1222h0"/><path class="y3" d="M2317 1223h0"/><path class="y4" d="M2320 1222h0"/><path class="y6" d="M2329 1222h0"/><path class="y7" d="M2335 1223h0"/><path class="y8" d="M2338 1223h0"/><path class="y9" d="M2341 1223h0"/><path class="y10" d="M2346 1223h0"/><path class="y13" d="M2362 1225h0"/><path class="y14" d="M2369 1225h0"/><path class="y15" d="M2375 1227h0"/><path class="y16" d="M2376 1228h0"/><path class="y20" d="M2393 1227h0"/><path class="y21" d="M2396 1229h0"/><path class="y22" d="M2399 1230h0"/><path class="y23" d="M2402 1227h0"/><path class="y24" d="M2404 1229h0"/><path class="y25" d="M2407 1227h0"/><path class="y26" d="M2409 1228h0"/><path class="y27" d="M2414 1230h0"/><path class="y33" d="M2435 1235h0"/><path class="y6" d="M2330 1220h0"/><path class="y21" d="M2406 1226h0"/><path class="y30" d="M2431 1232h0"/><path class="y0" d="M2190 1198h0"/><path class="y1" d="M2195 1198h0"/><path class="y3" d="M2212 1199h0"/><path class="y4" d="M2220 1199h0"/><path class="y5" d="M2230 1200h0"/><path class="y6" d="M2237 1200h0"/><path class="y7" d="M2246 1202h0"/><path class="y8" d="M2256 1203h0"/><path class="y9" d="M2264 1202h0"/><path class="y10" d="M2271 1202h0"/><path class="y11" d="M2281 1204h0"/><path class="y25" d="M2366 1212h0"/><path class="y28" d="M2392 1214h0"/><path class="y29" d="M2390 1214h0"/><path class="y30" d="M2400 1214h0"/><path class="y31" d="M2409 1217h0"/><path class="y32" d="M2418 1219h0"/><path class="y33" d="M2428 1221h0"/><path class="y34" d="M2444 1224h0"/><path class="y35" d="M2451 1225h0"/><path class="y36" d="M2457 1226h0"/><path class="y37" d="M2462 1226h0"/><path class="y38" d="M2470 1227h0"/><path class="y15" d="M2283 1217h0"/><path class="y25" d="M2326 1222h0"/><path class="y26" d="M2331 1221h0"/><path class="y37" d="M2379 1227h0"/><path class="y38" d="M2385 1227h0"/><path class="y0" d="M2176 1202h0"/><path class="y1" d="M2183 1203h0"/><path class="y2" d="M2186 1204h0"/><path class="y3" d="M2193 1205h0"/><path class="y4" d="M2199 1202h0"/><path class="y5" d="M2206 1206h0"/><path class="y6" d="M2213 1204h0"/><path class="y7" d="M2217 1206h0"/><path class="y8" d="M2225 1209h0"/><path class="y21" d="M2290 1219h0"/><path class="y22" d="M2296 1220h0"/><path class="y25" d="M2314 1223h0"/><path class="y30" d="M2337 1220h0"/><path class="y31" d="M2344 1222h0"/><path class="y33" d="M2357 1222h0"/><path class="y34" d="M2371 1224h0"/><path class="y35" d="M2374 1225h0"/><path class="y0" d="M2229 1204h0"/><path class="y2" d="M2238 1204h0"/><path class="y3" d="M2243 1203h0"/><path class="y4" d="M2251 1204h0"/><path class="y5" d="M2256 1203h0"/><path class="y6" d="M2261 1206h0"/><path class="y7" d="M2267 1205h0"/><path class="y8" d="M2274 1206h0"/><path class="y9" d="M2279 1204h0"/><path class="y10" d="M2285 1205h0"/><path class="y11" d="M2289 1206h0"/><path class="y13" d="M2301 1208h0"/><path class="y37" d="M2419 1220h0"/><path class="y38" d="M2425 1220h0"/><path class="y11" d="M2363 1223h0"/><path class="y12" d="M2365 1223h0"/><path class="y14" d="M2373 1225h0"/><path class="y15" d="M2376 1225h0"/><path class="y16" d="M2382 1225h0"/><path class="y17" d="M2386 1225h0"/><path class="y18" d="M2386 1225h0"/><path class="y19" d="M2393 1227h0"/><path class="y20" d="M2398 1226h0"/><path class="y21" d="M2402 1226h0"/><path class="y22" d="M2404 1223h0"/><path class="y23" d="M2411 1226h0"/><path class="y24" d="M2415 1232h0"/><path class="y25" d="M2421 1234h0"/><path class="y26" d="M2426 1231h0"/><path class="y27" d="M2427 1230h0"/><path class="y29" d="M2435 1232h0"/><path class="y30" d="M2441 1234h0"/><path class="y31" d="M2445 1234h0"/><path class="y32" d="M2449 1234h0"/><path class="y33" d="M2455 1235h0"/><path class="y34" d="M2461 1235h0"/><path class="y35" d="M2469 1234h0"/><path class="y36" d="M2474 1233h0"/><path class="y37" d="M2477 1234h0"/><path class="y38" d="M2483 1235h0"/><path class="y0" d="M2297 1206h0"/><path class="y1" d="M2302 1210h0"/><path class="y2" d="M2309 1208h0"/><path class="y3" d="M2315 1209h0"/><path class="y4" d="M2320 1211h0"/><path class="y5" d="M2325 1211h0"/><path class="y6" d="M2328 1211h0"/><path class="y7" d="M2336 1209h0"/><path class="y8" d="M2340 1210h0"/><path class="y9" d="M2346 1210h0"/><path class="y10" d="M2353 1211h0"/><path class="y11" d="M2357 1212h0"/><path class="y12" d="M2362 1212h0"/><path class="y13" d="M2366 1213h0"/><path class="y14" d="M2370 1215h0"/><path class="y15" d="M2376 1218h0"/><path class="y16" d="M2381 1216h0"/><path class="y17" d="M2384 1214h0"/><path class="y18" d="M2391 1214h0"/><path class="y19" d="M2394 1217h0"/><path class="y20" d="M2398 1217h0"/><path class="y21" d="M2404 1220h0"/><path class="y22" d="M2408 1222h0"/><path class="y23" d="M2414 1223h0"/><path class="y24" d="M2418 1223h0"/><path class="y25" d="M2425 1225h0"/><path class="y26" d="M2429 1227h0"/><path class="y27" d="M2436 1226h0"/><path class="y28" d="M2442 1227h0"/><path class="y29" d="M2440 1226h0"/><path class="y30" d="M2445 1227h0"/><path class="y31" d="M2451 1226h0"/><path class="y32" d="M2454 1230h0"/><path class="y33" d="M2461 1229h0"/><path class="y34" d="M2472 1228h0"/><path class="y35" d="M2477 1229h0"/><path class="y36" d="M2483 1232h0"/><path class="y37" d="M2486 1231h0"/><path class="y38" d="M2492 1233h0"/><path class="y0" d="M2171 1211h0"/><path class="y1" d="M2174 1210h0"/><path class="y2" d="M2179 1209h0"/><path class="y3" d="M2182 1208h0"/><path class="y4" d="M2186 1204h0"/><path class="y5" d="M2188 1206h0"/><path class="y6" d="M2191 1207h0"/><path class="y7" d="M2197 1208h0"/><path class="y8" d="M2202 1210h0"/><path class="y9" d="M2206 1214h0"/><path class="y10" d="M2211 1213h0"/><path class="y11" d="M2216 1216h0"/><path class="y12" d="M2220 1214h0"/><path class="y13" d="M2225 1211h0"/><path class="y14" d="M2228 1208h0"/><path class="y15" d="M2234 1210h0"/><path class="y16" d="M2237 1217h0"/><path class="y17" d="M2239 1215h0"/><path class="y18" d="M2244 1214h0"/><path class="y19" d="M2249 1219h0"/><path class="y20" d="M2253 1220h0"/><path class="y21" d="M2255 1216h0"/><path class="y22" d="M2257 1216h0"/><path class="y23" d="M2262 1214h0"/><path class="y24" d="M2264 1215h0"/><path class="y25" d="M2267 1215h0"/><path class="y27" d="M2273 1213h0"/><path class="y30" d="M2282 1211h0"/><path class="y31" d="M2284 1213h0"/><path class="y35" d="M2309 1218h0"/><path class="y36" d="M2315 1222h0"/><path class="y37" d="M2318 1221h0"/><path class="y0" d="M2259 1216h0"/><path class="y1" d="M2260 1217h0"/><path class="y2" d="M2267 1219h0"/><path class="y3" d="M2270 1220h0"/><path class="y4" d="M2273 1220h0"/><path class="y5" d="M2277 1220h0"/><path class="y6" d="M2278 1217h0"/><path class="y7" d="M2282 1216h0"/><path class="y8" d="M2286 1215h0"/><path class="y9" d="M2291 1211h0"/><path class="y10" d="M2297 1211h0"/><path class="y11" d="M2300 1213h0"/><path class="y12" d="M2304 1215h0"/><path class="y13" d="M2308 1216h0"/><path class="y14" d="M2313 1212h0"/><path class="y15" d="M2318 1213h0"/><path class="y16" d="M2323 1215h0"/><path class="y17" d="M2327 1219h0"/><path class="y18" d="M2332 1220h0"/><path class="y19" d="M2338 1220h0"/><path class="y20" d="M2341 1220h0"/><path class="y21" d="M2346 1223h0"/><path class="y22" d="M2352 1222h0"/><path class="y23" d="M2354 1220h0"/><path class="y24" d="M2359 1218h0"/><path class="y25" d="M2363 1218h0"/><path class="y26" d="M2366 1219h0"/><path class="y27" d="M2370 1220h0"/><path class="y28" d="M2374 1221h0"/><path class="y29" d="M2371 1220h0"/><path class="y30" d="M2374 1222h0"/><path class="y31" d="M2380 1220h0"/><path class="y32" d="M2383 1221h0"/><path class="y33" d="M2388 1223h0"/><path class="y34" d="M2397 1221h0"/><path class="y35" d="M2401 1219h0"/><path class="y36" d="M2406 1219h0"/><path class="y37" d="M2412 1220h0"/><path class="y38" d="M2413 1222h0"/><path class="y0" d="M2264 1215h0"/><path class="y1" d="M2267 1215h0"/><path class="y2" d="M2270 1214h0"/><path class="y3" d="M2274 1214h0"/><path class="y4" d="M2277 1213h0"/><path class="y5" d="M2280 1214h0"/><path class="y6" d="M2283 1214h0"/><path class="y7" d="M2286 1215h0"/><path class="y8" d="M2289 1215h0"/><path class="y9" d="M2292 1216h0"/><path class="y10" d="M2295 1217h0"/><path class="y11" d="M2298 1217h0"/><path class="y12" d="M2300 1218h0"/><path class="y13" d="M2303 1218h0"/><path class="y14" d="M2306 1218h0"/><path class="y15" d="M2309 1217h0"/><path class="y16" d="M2311 1218h0"/><path class="y17" d="M2314 1218h0"/><path class="y18" d="M2316 1218h0"/><path class="y19" d="M2319 1218h0"/><path class="y20" d="M2321 1219h0"/><path class="y21" d="M2324 1218h0"/><path class="y22" d="M2326 1219h0"/><path class="y23" d="M2329 1219h0"/><path class="y24" d="M2332 1220h0"/><path class="y25" d="M2334 1220h0"/><path class="y26" d="M2337 1219h0"/><path class="y27" d="M2339 1220h0"/><path class="y28" d="M2342 1220h0"/><path class="y29" d="M2341 1220h0"/><path class="y30" d="M2344 1219h0"/><path class="y31" d="M2347 1219h0"/><path class="y32" d="M2350 1220h0"/><path class="y33" d="M2353 1220h0"/><path class="y34" d="M2360 1220h0"/><path class="y35" d="M2363 1221h0"/><path class="y36" d="M2366 1221h0"/><path class="y37" d="M2369 1222h0"/><path class="y38" d="M2372 1222h0"/><path class="y0" d="M2029 1164h0"/><path class="y1" d="M2062 1178h0M2061 1210h0"/><path class="y4" d="M2082 1204h0M2098 1223h0"/><path class="y13" d="M2122 1249h0"/><path class="y8" d="M2131 1244h0"/><path class="y6" d="M2151 1233h0"/><path class="y4" d="M2163 1239h0"/><path class="y19" d="M2162 1255h0"/><path class="y17" d="M2195 1238h0"/><path class="y13" d="M2206 1254h0"/><path class="y2" d="M2341 1237h0"/><path class="y21" d="M2196 1226h0M2214 1226h0"/><path class="y2" d="M2254 1190h0"/><path class="y1" d="M2230 1195h0"/><path class="y3" d="M2202 1193h0"/><path class="y4" d="M2293 1197h0"/><path class="y23" d="M2376 1203h0"/><path class="y15" d="M2159 1191h0"/><path class="y13" d="M2175 1191h0"/></g>
<path d="M2029.0 1193.1L2518.5 1230.4" stroke="#f00" stroke-width="9" fill="none"/>
<rect x="2557" y="955" width="538" height="106" fill="#d9d9d9"/>
<text transform="translate(2826.5,1030.3) scale(1,1.050)" font-size="62.2" text-anchor="middle">100</text>
<rect x="2557" y="1061" width="538" height="536" fill="#f4f4f4"/>
<path d="M2598.0 1061V1597M2757.0 1061V1597M2909.5 1061V1597M3062.0 1061V1597M2557 1069.1H3095M2557 1111.3H3095M2557 1195.7H3095M2557 1280.1H3095M2557 1364.5H3095M2557 1448.9H3095M2557 1533.3H3095M2557 1575.5H3095" stroke="#fff" stroke-width="4" fill="none"/>
<path d="M2677.5 1061V1597M2836.0 1061V1597M2983.0 1061V1597M2557 1153.5H3095M2557 1237.9H3095M2557 1322.3H3095M2557 1406.7H3095M2557 1491.1H3095" stroke="#fff" stroke-width="7" fill="none"/>
<g class="P" clip-path="url(#c14)"><path class="y0" d="M2693 1190h0M2701 1200h0M2722 1202h0"/><path class="y8" d="M2729 1165h0"/><path class="y0" d="M2715 1168h0"/><path class="y3" d="M2775 1196h0"/><path class="y11" d="M2757 1159h0"/><path class="y10" d="M2644 1177h0"/><path class="y2" d="M2736 1202h0"/><path class="y10" d="M2851 1169h0"/><path class="y0" d="M2704 1198h0"/><path class="y2" d="M2812 1160h0"/><path class="y9" d="M2799 1173h0"/><path class="y0" d="M2838 1165h0"/><path class="y7" d="M2778 1205h0"/><path class="y11" d="M2768 1202h0"/><path class="y15" d="M2641 1174h0M2679 1172h0"/><path class="y18" d="M2899 1206h0"/><path class="y8" d="M2830 1209h0"/><path class="y11" d="M2781 1167h0"/><path class="y8" d="M2642 1173h0"/><path class="y11" d="M2802 1160h0"/><path class="y5" d="M2828 1168h0"/><path class="y0" d="M2734 1162h0"/><path class="y4" d="M2804 1174h0"/><path class="y13" d="M2653 1174h0"/><path class="y24" d="M2946 1168h0"/><path class="y0" d="M2732 1172h0M2724 1172h0M2705 1165h0"/><path class="y6" d="M2824 1168h0"/><path class="y5" d="M2816 1167h0"/><path class="y9" d="M2803 1164h0"/><path class="y3" d="M2774 1209h0"/><path class="y0" d="M2844 1167h0"/><path class="y17" d="M2867 1163h0"/><path class="y0" d="M2771 1165h0"/><path class="y8" d="M2814 1167h0"/><path class="y0" d="M2775 1172h0"/><path class="y5" d="M2712 1167h0"/><path class="y12" d="M2807 1169h0"/><path class="y17" d="M2805 1179h0"/><path class="y21" d="M2890 1171h0"/><path class="y0" d="M2700 1195h0"/><path class="y5" d="M2771 1206h0"/><path class="y7" d="M2795 1152h0"/><path class="y17" d="M2885 1173h0"/><path class="y0" d="M2789 1167h0M2774 1159h0"/><path class="y25" d="M2938 1173h0"/><path class="y15" d="M2894 1196h0"/><path class="y8" d="M2774 1193h0"/><path class="y15" d="M2858 1166h0"/><path class="y0" d="M2715 1198h0"/><path class="y5" d="M2770 1168h0"/><path class="y8" d="M2856 1209h0"/><path class="y17" d="M2877 1193h0"/><path class="y34" d="M2985 1202h0"/><path class="y4" d="M2787 1167h0"/><path class="y15" d="M2679 1184h0"/><path class="y1" d="M2726 1197h0"/><path class="y19" d="M2856 1202h0"/><path class="y14" d="M2841 1168h0"/><path class="y23" d="M2892 1173h0"/><path class="y17" d="M2843 1158h0"/><path class="y15" d="M2765 1193h0"/><path class="y19" d="M2890 1196h0"/><path class="y38" d="M3072 1208h0"/><path class="y4" d="M2815 1178h0"/><path class="y7" d="M2830 1171h0"/><path class="y6" d="M2833 1194h0"/><path class="y7" d="M2695 1166h0"/><path class="y20" d="M2908 1206h0"/><path class="y16" d="M2901 1206h0"/><path class="y9" d="M2875 1163h0"/><path class="y2" d="M2713 1190h0"/><path class="y8" d="M2838 1199h0"/><path class="y0" d="M2694 1191h0"/><path class="y21" d="M2899 1189h0"/><path class="y1" d="M2795 1210h0"/><path class="y28" d="M2959 1202h0"/><path class="y38" d="M3037 1207h0"/><path class="y1" d="M2808 1192h0M2723 1172h0"/><path class="y16" d="M2788 1170h0"/><path class="y11" d="M2748 1193h0"/><path class="y19" d="M2878 1173h0M2936 1177h0"/><path class="y22" d="M2702 1167h0"/><path class="y19" d="M2915 1207h0"/><path class="y5" d="M2812 1170h0"/><path class="y16" d="M2859 1167h0"/><path class="y37" d="M3006 1202h0"/><path class="y0" d="M2740 1196h0"/><path class="y6" d="M2828 1179h0"/><path class="y24" d="M2984 1204h0"/><path class="y9" d="M2735 1196h0"/><path class="y2" d="M2755 1201h0"/><path class="y24" d="M2910 1167h0"/><path class="y38" d="M3063 1207h0"/><path class="y0" d="M2859 1204h0"/><path class="y38" d="M3006 1183h0"/><path class="y5" d="M2828 1180h0"/><path class="y38" d="M3062 1192h0"/><path class="y19" d="M2914 1169h0"/><path class="y7" d="M2746 1191h0"/><path class="y2" d="M2733 1184h0"/><path class="y22" d="M2898 1172h0"/><path class="y20" d="M2670 1181h0"/><path class="y38" d="M3065 1207h0"/><path class="y8" d="M2811 1196h0"/><path class="y29" d="M2955 1200h0"/><path class="y12" d="M2642 1175h0"/><path class="y6" d="M2830 1186h0"/><path class="y4" d="M2781 1150h0"/><path class="y10" d="M2796 1158h0"/><path class="y19" d="M2910 1202h0"/><path class="y11" d="M2804 1166h0M2816 1185h0"/><path class="y12" d="M2832 1206h0"/><path class="y31" d="M2988 1170h0"/><path class="y38" d="M3035 1182h0"/><path class="y4" d="M2821 1169h0"/><path class="y3" d="M2807 1200h0"/><path class="y2" d="M2825 1152h0"/><path class="y6" d="M2803 1210h0"/><path class="y12" d="M2655 1173h0"/><path class="y33" d="M2971 1168h0"/><path class="y0" d="M2751 1164h0"/><path class="y38" d="M3028 1184h0"/><path class="y5" d="M2702 1168h0"/><path class="y11" d="M2791 1206h0"/><path class="y23" d="M2914 1196h0"/><path class="y32" d="M2987 1170h0"/><path class="y29" d="M2938 1205h0"/><path class="y6" d="M2813 1204h0"/><path class="y29" d="M2918 1166h0"/><path class="y1" d="M2706 1174h0"/><path class="y37" d="M3014 1184h0"/><path class="y24" d="M2941 1201h0"/><path class="y14" d="M2857 1160h0"/><path class="y7" d="M2850 1186h0"/><path class="y5" d="M2754 1186h0"/><path class="y3" d="M2771 1188h0"/><path class="y13" d="M2657 1172h0"/><path class="y0" d="M2701 1201h0"/><path class="y8" d="M2722 1200h0"/><path class="y7" d="M2770 1167h0"/><path class="y17" d="M2681 1173h0"/><path class="y9" d="M2774 1172h0"/><path class="y26" d="M2904 1198h0"/><path class="y9" d="M2818 1171h0"/><path class="y10" d="M2849 1184h0"/><path class="y19" d="M2692 1170h0"/><path class="y3" d="M2800 1183h0"/><path class="y15" d="M2874 1168h0"/><path class="y38" d="M3069 1208h0"/><path class="y17" d="M2700 1188h0"/><path class="y38" d="M3068 1207h0"/><path class="y10" d="M2804 1154h0"/><path class="y1" d="M2695 1169h0"/><path class="y17" d="M2925 1207h0"/><path class="y0" d="M2748 1159h0"/><path class="y23" d="M2930 1198h0"/><path class="y14" d="M2791 1176h0"/><path class="y13" d="M2741 1183h0"/><path class="y5" d="M2853 1175h0"/><path class="y17" d="M2859 1203h0"/><path class="y16" d="M2863 1206h0"/><path class="y10" d="M2800 1203h0"/><path class="y38" d="M3067 1203h0"/><path class="y8" d="M2810 1205h0"/><path class="y7" d="M2793 1192h0"/><path class="y2" d="M2815 1182h0"/><path class="y0" d="M2701 1194h0"/><path class="y17" d="M2875 1175h0"/><path class="y12" d="M2820 1192h0"/><path class="y19" d="M2729 1176h0"/><path class="y15" d="M2661 1178h0"/><path class="y3" d="M2765 1189h0"/><path class="y9" d="M2796 1197h0"/><path class="y5" d="M2758 1190h0"/><path class="y38" d="M3045 1187h0"/><path class="y17" d="M2923 1193h0"/><path class="y11" d="M2665 1172h0"/><path class="y16" d="M2682 1182h0"/><path class="y0" d="M2738 1175h0"/><path class="y5" d="M2748 1182h0"/><path class="y16" d="M2887 1192h0"/><path class="y29" d="M2948 1208h0"/><path class="y11" d="M2858 1183h0"/><path class="y9" d="M2800 1194h0"/><path class="y25" d="M2726 1175h0"/><path class="y38" d="M3060 1204h0"/><path class="y7" d="M2785 1187h0"/><path class="y38" d="M3058 1203h0"/><path class="y1" d="M2731 1193h0"/><path class="y18" d="M2723 1189h0"/><path class="y16" d="M2837 1190h0"/><path class="y7" d="M2839 1182h0"/><path class="y27" d="M3001 1175h0"/><path class="y12" d="M2860 1203h0M2860 1199h0"/><path class="y19" d="M2697 1186h0"/><path class="y4" d="M2741 1166h0"/><path class="y5" d="M2784 1181h0"/><path class="y11" d="M2845 1200h0"/><path class="y15" d="M2652 1180h0"/><path class="y1" d="M2801 1200h0"/><path class="y38" d="M3005 1182h0"/><path class="y12" d="M2842 1196h0"/><path class="y3" d="M2744 1170h0"/><path class="y0" d="M2733 1194h0"/><path class="y11" d="M2857 1183h0"/><path class="y34" d="M2994 1198h0"/><path class="y15" d="M2850 1176h0"/><path class="y9" d="M2864 1202h0"/><path class="y27" d="M2933 1189h0"/><path class="y18" d="M2875 1205h0"/><path class="y0" d="M2736 1178h0"/><path class="y11" d="M2762 1160h0M2760 1207h0"/><path class="y34" d="M2999 1182h0"/><path class="y14" d="M2663 1181h0"/><path class="y18" d="M2667 1170h0"/><path class="y15" d="M2852 1194h0"/><path class="y10" d="M2756 1192h0"/><path class="y5" d="M2777 1182h0"/><path class="y28" d="M2952 1199h0"/><path class="y7" d="M2758 1175h0"/><path class="y22" d="M2736 1190h0"/><path class="y20" d="M2903 1179h0"/><path class="y2" d="M2819 1211h0"/><path class="y14" d="M2763 1182h0"/><path class="y29" d="M2926 1200h0"/><path class="y11" d="M2821 1200h0"/><path class="y5" d="M2796 1162h0"/><path class="y8" d="M2775 1180h0"/><path class="y2" d="M2762 1156h0"/><path class="y38" d="M3056 1203h0"/><path class="y22" d="M2735 1185h0"/><path class="y3" d="M2801 1193h0"/><path class="y11" d="M2850 1184h0"/><path class="y12" d="M2646 1179h0M2862 1184h0"/><path class="y24" d="M2903 1168h0"/><path class="y38" d="M3056 1204h0"/><path class="y18" d="M2704 1180h0"/><path class="y24" d="M2903 1189h0"/><path class="y14" d="M2864 1171h0"/><path class="y21" d="M2720 1177h0"/><path class="y2" d="M2702 1176h0"/><path class="y25" d="M2718 1176h0"/><path class="y5" d="M2771 1181h0"/><path class="y18" d="M2680 1178h0"/><path class="y12" d="M2788 1194h0"/><path class="y6" d="M2815 1174h0"/><path class="y19" d="M2957 1171h0"/><path class="y9" d="M2761 1172h0"/><path class="y30" d="M2985 1171h0"/><path class="y33" d="M3001 1186h0M2965 1174h0"/><path class="y4" d="M2839 1168h0"/><path class="y7" d="M2849 1176h0M2822 1182h0"/><path class="y11" d="M2892 1179h0"/><path class="y26" d="M2926 1196h0"/><path class="y4" d="M2823 1211h0"/><path class="y16" d="M2871 1197h0"/><path class="y4" d="M2748 1179h0"/><path class="y10" d="M2860 1191h0"/><path class="y18" d="M2925 1169h0"/><path class="y16" d="M2924 1207h0"/><path class="y5" d="M2776 1177h0"/><path class="y20" d="M2687 1185h0"/><path class="y27" d="M2971 1188h0"/><path class="y29" d="M2960 1179h0"/><path class="y19" d="M2693 1174h0"/><path class="y17" d="M2665 1178h0"/><path class="y19" d="M2696 1182h0"/><path class="y14" d="M2897 1172h0"/><path class="y9" d="M2786 1156h0"/><path class="y38" d="M3051 1187h0"/><path class="y14" d="M2646 1180h0"/><path class="y20" d="M2903 1195h0"/><path class="y12" d="M2662 1179h0"/><path class="y17" d="M2893 1188h0"/><path class="y31" d="M2991 1178h0"/><path class="y25" d="M2948 1193h0"/><path class="y8" d="M2790 1178h0"/><path class="y33" d="M2959 1196h0"/><path class="y11" d="M2775 1189h0"/><path class="y21" d="M2969 1202h0"/><path class="y18" d="M2913 1175h0"/><path class="y38" d="M2992 1196h0"/><path class="y11" d="M2865 1196h0"/><path class="y36" d="M2981 1206h0"/><path class="y38" d="M3056 1202h0"/><path class="y9" d="M2821 1170h0"/><path class="y27" d="M2970 1185h0"/><path class="y16" d="M2833 1185h0"/><path class="y14" d="M2664 1178h0"/><path class="y18" d="M2696 1186h0"/><path class="y13" d="M2815 1215h0"/><path class="y16" d="M2714 1169h0"/><path class="y26" d="M2931 1185h0"/><path class="y38" d="M3077 1200h0"/><path class="y10" d="M2768 1205h0"/><path class="y17" d="M2681 1175h0"/><path class="y20" d="M2702 1175h0"/><path class="y24" d="M2933 1189h0"/><path class="y20" d="M2907 1192h0"/><path class="y16" d="M2862 1187h0"/><path class="y21" d="M2864 1197h0"/><path class="y13" d="M2913 1182h0"/><path class="y18" d="M2686 1174h0"/><path class="y12" d="M2677 1173h0"/><path class="y30" d="M2974 1175h0"/><path class="y23" d="M2915 1179h0"/><path class="y38" d="M3060 1192h0"/><path class="y31" d="M2946 1169h0"/><path class="y24" d="M2956 1175h0"/><path class="y35" d="M3048 1204h0"/><path class="y38" d="M3073 1205h0"/><path class="y25" d="M2903 1170h0"/><path class="y13" d="M2851 1198h0"/><path class="y23" d="M2946 1174h0"/><path class="y21" d="M2870 1178h0"/><path class="y14" d="M2849 1198h0"/><path class="y24" d="M2860 1192h0"/><path class="y38" d="M3011 1201h0"/><path class="y24" d="M2925 1182h0"/><path class="y16" d="M2879 1191h0"/><path class="y19" d="M2908 1192h0"/><path class="y36" d="M3000 1198h0"/><path class="y14" d="M2656 1179h0"/><path class="y22" d="M2885 1191h0"/><path class="y37" d="M3038 1189h0"/><path class="y38" d="M3057 1191h0"/><path class="y35" d="M3003 1200h0"/><path class="y38" d="M2977 1198h0"/><path class="y22" d="M2913 1194h0"/><path class="y24" d="M2909 1202h0"/><path class="y19" d="M2917 1191h0"/><path class="y18" d="M2889 1186h0"/><path class="y20" d="M2925 1180h0"/><path class="y21" d="M2928 1178h0M2875 1185h0"/><path class="y20" d="M2709 1178h0"/><path class="y18" d="M2714 1188h0"/><path class="y20" d="M2886 1177h0"/><path class="y26" d="M2990 1195h0M2890 1177h0"/><path class="y38" d="M3030 1205h0"/><path class="y20" d="M2868 1192h0"/><path class="y27" d="M2925 1174h0"/><path class="y30" d="M2972 1214h0"/><path class="y38" d="M3020 1199h0M3040 1200h0"/><path class="y20" d="M2684 1182h0"/><path class="y29" d="M2944 1185h0"/><path class="y19" d="M2714 1181h0"/><path class="y24" d="M2700 1175h0"/><path class="y38" d="M3038 1196h0"/><path class="y32" d="M2932 1182h0"/><path class="y38" d="M3078 1207h0"/><path class="y29" d="M2981 1175h0"/><path class="y35" d="M3022 1194h0"/><path class="y37" d="M3002 1191h0"/><path class="y30" d="M2952 1183h0"/><path class="y36" d="M3032 1206h0"/><path class="y23" d="M2978 1187h0"/><path class="y24" d="M2864 1192h0"/><path class="y35" d="M3048 1188h0"/><path class="y34" d="M2996 1170h0"/><path class="y32" d="M2987 1195h0"/><path class="y38" d="M3066 1196h0M3074 1203h0M3056 1191h0"/><path class="y30" d="M2972 1207h0"/><path class="y26" d="M2979 1181h0"/><path class="y34" d="M2962 1189h0"/><path class="y33" d="M3015 1191h0"/><path class="y30" d="M2942 1175h0"/><path class="y38" d="M3062 1202h0M3065 1200h0M2965 1198h0M2996 1192h0M3041 1193h0M3073 1197h0"/><path class="y25" d="M2952 1205h0"/><path class="y37" d="M3031 1192h0"/><path class="y30" d="M2963 1189h0"/><path class="y33" d="M3022 1183h0"/><path class="y29" d="M2939 1190h0"/><path class="y33" d="M2978 1173h0"/><path class="y38" d="M3076 1211h0M2985 1194h0"/><path class="y30" d="M2962 1181h0"/><path class="y38" d="M3053 1199h0"/><path class="y29" d="M2951 1192h0"/><path class="y35" d="M2998 1182h0"/><path class="y38" d="M3047 1192h0M3061 1200h0M3049 1200h0"/><path class="y31" d="M3031 1185h0"/><path class="y38" d="M3047 1195h0"/><path class="y35" d="M2986 1186h0"/><path class="y38" d="M3074 1200h0"/><path class="y35" d="M3007 1193h0"/><path class="y37" d="M3021 1201h0"/><path class="y38" d="M3060 1202h0M3045 1199h0M3013 1184h0"/><path class="y0" d="M2615 1089h0"/><path class="y2" d="M2649 1113h0M2634 1122h0"/><path class="y15" d="M2711 1128h0"/><path class="y6" d="M2683 1154h0"/><path class="y15" d="M2700 1147h0"/><path class="y8" d="M2714 1154h0"/><path class="y2" d="M2786 1132h0"/><path class="y11" d="M2786 1141h0"/><path class="y0" d="M2762 1151h0"/><path class="y2" d="M2806 1149h0"/><path class="y4" d="M2877 1139h0"/><path class="y2" d="M2871 1147h0"/><path class="y19" d="M2923 1138h0"/><path class="y27" d="M2935 1158h0"/><path class="y0" d="M2763 1249h0"/><path class="y2" d="M2755 1223h0"/><path class="y6" d="M2801 1222h0"/><path class="y1" d="M2839 1221h0"/><path class="y19" d="M2906 1226h0"/><path class="y8" d="M2905 1217h0"/><path class="y21" d="M2956 1241h0"/><path class="y34" d="M2973 1232h0"/><path class="y8" d="M2839 1149h0"/><path class="y0" d="M2738 1205h0"/></g>
<path d="M2614.3 1174.3L3070.6 1189.8" stroke="#f00" stroke-width="9" fill="none"/>
<rect x="3109" y="955" width="538" height="106" fill="#d9d9d9"/>
<text transform="translate(3378.5,1030.3) scale(1,1.050)" font-size="62.2" text-anchor="middle">110</text>
<rect x="3109" y="1061" width="538" height="536" fill="#f4f4f4"/>
<path d="M3150.0 1061V1597M3309.0 1061V1597M3461.5 1061V1597M3614.0 1061V1597M3109 1069.1H3647M3109 1111.3H3647M3109 1195.7H3647M3109 1280.1H3647M3109 1364.5H3647M3109 1448.9H3647M3109 1533.3H3647M3109 1575.5H3647" stroke="#fff" stroke-width="4" fill="none"/>
<path d="M3229.5 1061V1597M3388.0 1061V1597M3535.0 1061V1597M3109 1153.5H3647M3109 1237.9H3647M3109 1322.3H3647M3109 1406.7H3647M3109 1491.1H3647" stroke="#fff" stroke-width="7" fill="none"/>
<g class="P" clip-path="url(#c15)"><path class="y7" d="M3489 1214h0"/><path class="y8" d="M3276 1189h0"/><path class="y7" d="M3349 1127h0"/><path class="y3" d="M3283 1109h0"/><path class="y8" d="M3332 1167h0"/><path class="y13" d="M3468 1213h0"/><path class="y6" d="M3317 1183h0"/><path class="y7" d="M3322 1089h0"/><path class="y12" d="M3371 1184h0"/><path class="y4" d="M3337 1086h0"/><path class="y3" d="M3443 1197h0"/><path class="y18" d="M3334 1095h0"/><path class="y10" d="M3347 1200h0M3353 1109h0M3480 1203h0"/><path class="y2" d="M3293 1103h0"/><path class="y4" d="M3327 1119h0"/><path class="y10" d="M3416 1137h0"/><path class="y14" d="M3378 1192h0"/><path class="y12" d="M3499 1208h0"/><path class="y16" d="M3405 1156h0"/><path class="y26" d="M3332 1146h0"/><path class="y17" d="M3320 1154h0"/><path class="y15" d="M3361 1159h0"/><path class="y4" d="M3339 1197h0"/><path class="y24" d="M3253 1131h0"/><path class="y5" d="M3305 1184h0"/><path class="y4" d="M3389 1097h0"/><path class="y6" d="M3386 1107h0"/><path class="y16" d="M3219 1149h0"/><path class="y11" d="M3427 1135h0"/><path class="y19" d="M3291 1125h0"/><path class="y12" d="M3320 1086h0"/><path class="y9" d="M3300 1179h0"/><path class="y12" d="M3316 1177h0"/><path class="y19" d="M3446 1142h0"/><path class="y7" d="M3378 1193h0"/><path class="y10" d="M3366 1094h0"/><path class="y21" d="M3362 1133h0"/><path class="y19" d="M3432 1127h0"/><path class="y16" d="M3395 1201h0"/><path class="y12" d="M3329 1209h0"/><path class="y25" d="M3285 1127h0"/><path class="y11" d="M3427 1155h0"/><path class="y16" d="M3273 1149h0M3424 1174h0M3303 1134h0"/><path class="y13" d="M3269 1182h0"/><path class="y22" d="M3600 1176h0"/><path class="y12" d="M3388 1173h0"/><path class="y22" d="M3278 1157h0"/><path class="y26" d="M3275 1126h0"/><path class="y12" d="M3544 1093h0"/><path class="y9" d="M3496 1214h0"/><path class="y28" d="M3325 1128h0"/><path class="y20" d="M3487 1136h0"/><path class="y12" d="M3307 1172h0"/><path class="y18" d="M3403 1137h0"/><path class="y16" d="M3371 1158h0"/><path class="y24" d="M3319 1142h0"/><path class="y22" d="M3236 1142h0"/><path class="y20" d="M3480 1177h0"/><path class="y18" d="M3373 1099h0"/><path class="y23" d="M3418 1161h0"/><path class="y20" d="M3486 1103h0"/><path class="y15" d="M3414 1160h0"/><path class="y3" d="M3440 1099h0"/><path class="y23" d="M3512 1128h0"/><path class="y6" d="M3349 1175h0"/><path class="y9" d="M3395 1163h0"/><path class="y19" d="M3399 1138h0"/><path class="y7" d="M3255 1169h0"/><path class="y18" d="M3491 1201h0"/><path class="y21" d="M3524 1153h0"/><path class="y10" d="M3328 1201h0"/><path class="y8" d="M3274 1168h0"/><path class="y23" d="M3483 1087h0"/><path class="y21" d="M3327 1150h0"/><path class="y20" d="M3364 1131h0"/><path class="y1" d="M3366 1127h0"/><path class="y6" d="M3388 1199h0"/><path class="y20" d="M3503 1104h0"/><path class="y13" d="M3433 1157h0"/><path class="y16" d="M3382 1123h0"/><path class="y12" d="M3499 1175h0"/><path class="y20" d="M3505 1152h0"/><path class="y19" d="M3432 1171h0"/><path class="y6" d="M3384 1196h0"/><path class="y14" d="M3373 1185h0"/><path class="y8" d="M3398 1203h0"/><path class="y11" d="M3486 1211h0M3251 1177h0"/><path class="y14" d="M3280 1190h0"/><path class="y13" d="M3290 1168h0"/><path class="y15" d="M3392 1160h0"/><path class="y22" d="M3484 1198h0"/><path class="y9" d="M3252 1177h0"/><path class="y28" d="M3285 1138h0M3309 1153h0"/><path class="y5" d="M3318 1166h0"/><path class="y3" d="M3260 1184h0"/><path class="y20" d="M3437 1117h0"/><path class="y7" d="M3344 1196h0"/><path class="y4" d="M3344 1123h0"/><path class="y20" d="M3290 1135h0"/><path class="y11" d="M3336 1117h0"/><path class="y23" d="M3503 1198h0"/><path class="y10" d="M3400 1175h0"/><path class="y15" d="M3401 1173h0"/><path class="y4" d="M3389 1196h0"/><path class="y16" d="M3398 1201h0"/><path class="y12" d="M3295 1166h0"/><path class="y26" d="M3508 1172h0"/><path class="y8" d="M3316 1175h0"/><path class="y16" d="M3397 1197h0"/><path class="y3" d="M3367 1126h0"/><path class="y24" d="M3236 1153h0"/><path class="y19" d="M3421 1157h0"/><path class="y12" d="M3281 1184h0"/><path class="y22" d="M3466 1089h0"/><path class="y7" d="M3425 1202h0"/><path class="y18" d="M3298 1126h0"/><path class="y28" d="M3237 1158h0"/><path class="y14" d="M3324 1195h0"/><path class="y16" d="M3435 1193h0"/><path class="y23" d="M3417 1146h0"/><path class="y10" d="M3453 1098h0"/><path class="y21" d="M3366 1162h0"/><path class="y10" d="M3445 1152h0"/><path class="y3" d="M3318 1172h0"/><path class="y4" d="M3417 1202h0"/><path class="y30" d="M3436 1141h0"/><path class="y17" d="M3428 1116h0"/><path class="y25" d="M3497 1115h0"/><path class="y22" d="M3274 1143h0M3412 1145h0"/><path class="y7" d="M3354 1134h0"/><path class="y28" d="M3537 1104h0"/><path class="y20" d="M3546 1085h0"/><path class="y31" d="M3485 1168h0"/><path class="y29" d="M3482 1158h0"/><path class="y13" d="M3497 1211h0"/><path class="y16" d="M3268 1146h0"/><path class="y21" d="M3454 1183h0"/><path class="y15" d="M3395 1113h0"/><path class="y5" d="M3321 1176h0"/><path class="y13" d="M3380 1128h0"/><path class="y26" d="M3296 1144h0"/><path class="y12" d="M3266 1170h0"/><path class="y14" d="M3380 1135h0"/><path class="y2" d="M3265 1184h0"/><path class="y30" d="M3475 1106h0"/><path class="y3" d="M3386 1090h0"/><path class="y6" d="M3431 1175h0"/><path class="y13" d="M3339 1100h0"/><path class="y33" d="M3532 1140h0"/><path class="y14" d="M3323 1207h0"/><path class="y6" d="M3364 1144h0"/><path class="y20" d="M3336 1146h0"/><path class="y11" d="M3476 1122h0"/><path class="y28" d="M3487 1170h0"/><path class="y13" d="M3383 1193h0"/><path class="y18" d="M3240 1141h0M3466 1106h0"/><path class="y17" d="M3405 1166h0"/><path class="y3" d="M3404 1088h0"/><path class="y18" d="M3452 1186h0"/><path class="y4" d="M3319 1174h0"/><path class="y13" d="M3474 1214h0M3349 1174h0"/><path class="y26" d="M3533 1135h0"/><path class="y18" d="M3457 1148h0"/><path class="y31" d="M3559 1168h0"/><path class="y14" d="M3482 1212h0"/><path class="y7" d="M3487 1204h0"/><path class="y8" d="M3402 1200h0"/><path class="y19" d="M3362 1174h0"/><path class="y6" d="M3342 1131h0"/><path class="y15" d="M3422 1094h0"/><path class="y13" d="M3471 1199h0"/><path class="y5" d="M3328 1165h0"/><path class="y14" d="M3224 1151h0"/><path class="y19" d="M3306 1140h0"/><path class="y14" d="M3370 1165h0"/><path class="y23" d="M3454 1196h0"/><path class="y25" d="M3415 1130h0"/><path class="y18" d="M3371 1143h0"/><path class="y23" d="M3358 1165h0"/><path class="y18" d="M3364 1142h0"/><path class="y17" d="M3462 1117h0"/><path class="y27" d="M3510 1124h0"/><path class="y28" d="M3297 1155h0"/><path class="y1" d="M3328 1177h0"/><path class="y19" d="M3296 1128h0"/><path class="y24" d="M3559 1098h0"/><path class="y29" d="M3329 1147h0"/><path class="y12" d="M3411 1199h0"/><path class="y34" d="M3565 1116h0"/><path class="y13" d="M3460 1159h0"/><path class="y17" d="M3416 1149h0"/><path class="y25" d="M3511 1145h0"/><path class="y3" d="M3322 1186h0"/><path class="y36" d="M3524 1194h0"/><path class="y21" d="M3420 1105h0"/><path class="y34" d="M3452 1153h0"/><path class="y21" d="M3452 1166h0"/><path class="y6" d="M3341 1188h0"/><path class="y2" d="M3291 1176h0"/><path class="y37" d="M3615 1169h0"/><path class="y21" d="M3467 1109h0"/><path class="y24" d="M3283 1158h0"/><path class="y36" d="M3523 1106h0"/><path class="y26" d="M3269 1134h0"/><path class="y20" d="M3463 1131h0"/><path class="y13" d="M3472 1152h0"/><path class="y28" d="M3259 1130h0M3427 1131h0"/><path class="y2" d="M3303 1171h0"/><path class="y21" d="M3460 1111h0"/><path class="y23" d="M3402 1117h0"/><path class="y37" d="M3606 1176h0"/><path class="y31" d="M3513 1194h0"/><path class="y9" d="M3374 1134h0"/><path class="y38" d="M3557 1180h0"/><path class="y8" d="M3405 1188h0"/><path class="y17" d="M3406 1151h0"/><path class="y6" d="M3392 1185h0"/><path class="y5" d="M3406 1202h0"/><path class="y7" d="M3379 1184h0"/><path class="y11" d="M3309 1094h0"/><path class="y20" d="M3377 1138h0"/><path class="y36" d="M3571 1116h0"/><path class="y14" d="M3459 1171h0"/><path class="y37" d="M3577 1162h0"/><path class="y26" d="M3241 1146h0"/><path class="y13" d="M3371 1159h0"/><path class="y28" d="M3465 1086h0"/><path class="y38" d="M3502 1127h0"/><path class="y20" d="M3238 1157h0"/><path class="y38" d="M3468 1174h0"/><path class="y27" d="M3493 1086h0"/><path class="y32" d="M3388 1155h0"/><path class="y31" d="M3492 1123h0"/><path class="y22" d="M3440 1099h0"/><path class="y26" d="M3436 1139h0"/><path class="y8" d="M3384 1184h0"/><path class="y31" d="M3532 1086h0"/><path class="y4" d="M3415 1107h0"/><path class="y18" d="M3280 1144h0"/><path class="y13" d="M3271 1166h0"/><path class="y17" d="M3449 1194h0"/><path class="y26" d="M3445 1168h0"/><path class="y38" d="M3529 1192h0"/><path class="y4" d="M3423 1179h0"/><path class="y23" d="M3449 1175h0"/><path class="y27" d="M3309 1155h0"/><path class="y24" d="M3466 1088h0"/><path class="y27" d="M3308 1158h0"/><path class="y13" d="M3412 1092h0"/><path class="y22" d="M3514 1100h0"/><path class="y16" d="M3365 1133h0"/><path class="y14" d="M3359 1170h0"/><path class="y4" d="M3333 1105h0"/><path class="y20" d="M3487 1085h0"/><path class="y16" d="M3407 1167h0"/><path class="y18" d="M3428 1130h0"/><path class="y13" d="M3331 1187h0"/><path class="y21" d="M3486 1147h0"/><path class="y33" d="M3481 1117h0"/><path class="y20" d="M3467 1115h0"/><path class="y4" d="M3371 1176h0"/><path class="y26" d="M3474 1172h0"/><path class="y16" d="M3277 1127h0"/><path class="y9" d="M3321 1095h0"/><path class="y17" d="M3318 1141h0"/><path class="y5" d="M3324 1191h0"/><path class="y21" d="M3329 1130h0"/><path class="y19" d="M3469 1085h0"/><path class="y6" d="M3277 1179h0"/><path class="y20" d="M3266 1128h0"/><path class="y38" d="M3607 1176h0"/><path class="y20" d="M3428 1109h0"/><path class="y9" d="M3354 1143h0"/><path class="y15" d="M3220 1151h0"/><path class="y7" d="M3375 1184h0"/><path class="y17" d="M3376 1155h0"/><path class="y11" d="M3358 1168h0"/><path class="y4" d="M3393 1113h0"/><path class="y20" d="M3384 1118h0"/><path class="y6" d="M3333 1189h0"/><path class="y29" d="M3451 1163h0"/><path class="y22" d="M3370 1163h0"/><path class="y11" d="M3290 1179h0"/><path class="y35" d="M3532 1171h0"/><path class="y26" d="M3267 1136h0"/><path class="y17" d="M3314 1139h0"/><path class="y1" d="M3268 1170h0"/><path class="y30" d="M3529 1197h0"/><path class="y5" d="M3284 1172h0"/><path class="y19" d="M3371 1131h0"/><path class="y11" d="M3373 1160h0"/><path class="y34" d="M3506 1150h0"/><path class="y12" d="M3255 1102h0"/><path class="y17" d="M3403 1171h0"/><path class="y38" d="M3600 1175h0"/><path class="y14" d="M3373 1162h0"/><path class="y34" d="M3496 1162h0"/><path class="y27" d="M3492 1087h0"/><path class="y18" d="M3409 1143h0"/><path class="y32" d="M3509 1116h0"/><path class="y25" d="M3488 1095h0"/><path class="y29" d="M3569 1149h0"/><path class="y15" d="M3441 1176h0"/><path class="y22" d="M3251 1135h0M3432 1153h0"/><path class="y6" d="M3311 1161h0"/><path class="y15" d="M3495 1214h0M3260 1139h0"/><path class="y18" d="M3308 1143h0"/><path class="y8" d="M3307 1162h0"/><path class="y31" d="M3538 1181h0"/><path class="y22" d="M3494 1148h0"/><path class="y19" d="M3563 1132h0"/><path class="y15" d="M3399 1188h0"/><path class="y38" d="M3577 1137h0M3554 1109h0"/><path class="y17" d="M3341 1135h0"/><path class="y15" d="M3304 1151h0"/><path class="y28" d="M3502 1151h0"/><path class="y7" d="M3399 1191h0"/><path class="y37" d="M3556 1150h0"/><path class="y27" d="M3323 1133h0"/><path class="y22" d="M3461 1193h0"/><path class="y23" d="M3418 1192h0"/><path class="y38" d="M3540 1168h0"/><path class="y27" d="M3414 1129h0"/><path class="y9" d="M3328 1200h0"/><path class="y21" d="M3497 1177h0"/><path class="y33" d="M3582 1172h0"/><path class="y15" d="M3470 1216h0"/><path class="y33" d="M3549 1177h0"/><path class="y19" d="M3452 1118h0"/><path class="y16" d="M3290 1129h0"/><path class="y27" d="M3595 1180h0"/><path class="y3" d="M3415 1151h0"/><path class="y34" d="M3532 1087h0"/><path class="y14" d="M3424 1157h0"/><path class="y12" d="M3378 1168h0"/><path class="y24" d="M3255 1157h0"/><path class="y34" d="M3507 1128h0"/><path class="y32" d="M3553 1192h0"/><path class="y34" d="M3438 1175h0"/><path class="y3" d="M3268 1092h0"/><path class="y32" d="M3540 1125h0"/><path class="y35" d="M3596 1179h0"/><path class="y29" d="M3494 1181h0"/><path class="y28" d="M3552 1125h0"/><path class="y20" d="M3454 1107h0"/><path class="y38" d="M3589 1180h0M3563 1105h0M3479 1097h0"/><path class="y21" d="M3473 1179h0"/><path class="y13" d="M3398 1151h0"/><path class="y7" d="M3263 1178h0"/><path class="y27" d="M3460 1171h0"/><path class="y33" d="M3545 1103h0M3550 1116h0"/><path class="y32" d="M3496 1127h0"/><path class="y35" d="M3592 1182h0"/><path class="y24" d="M3296 1127h0"/><path class="y4" d="M3332 1167h0"/><path class="y17" d="M3527 1087h0"/><path class="y38" d="M3564 1141h0"/><path class="y20" d="M3359 1139h0"/><path class="y30" d="M3478 1101h0"/><path class="y18" d="M3288 1128h0"/><path class="y9" d="M3371 1141h0"/><path class="y15" d="M3429 1140h0"/><path class="y26" d="M3475 1198h0"/><path class="y21" d="M3254 1131h0"/><path class="y6" d="M3480 1218h0"/><path class="y19" d="M3346 1146h0"/><path class="y21" d="M3495 1142h0"/><path class="y24" d="M3412 1116h0"/><path class="y20" d="M3405 1108h0"/><path class="y11" d="M3393 1164h0"/><path class="y34" d="M3427 1134h0"/><path class="y23" d="M3507 1099h0"/><path class="y35" d="M3430 1086h0"/><path class="y33" d="M3514 1090h0"/><path class="y6" d="M3414 1172h0"/><path class="y15" d="M3234 1157h0"/><path class="y16" d="M3394 1147h0"/><path class="y29" d="M3532 1196h0"/><path class="y14" d="M3314 1124h0"/><path class="y19" d="M3430 1193h0"/><path class="y38" d="M3626 1152h0"/><path class="y11" d="M3412 1188h0"/><path class="y13" d="M3405 1185h0"/><path class="y38" d="M3626 1148h0"/><path class="y19" d="M3457 1197h0"/><path class="y6" d="M3372 1128h0"/><path class="y24" d="M3400 1125h0"/><path class="y29" d="M3596 1178h0"/><path class="y21" d="M3521 1151h0"/><path class="y10" d="M3388 1172h0"/><path class="y24" d="M3268 1145h0"/><path class="y18" d="M3336 1143h0"/><path class="y28" d="M3508 1140h0"/><path class="y38" d="M3581 1143h0"/><path class="y14" d="M3246 1148h0"/><path class="y19" d="M3477 1085h0"/><path class="y25" d="M3264 1159h0"/><path class="y38" d="M3619 1166h0"/><path class="y36" d="M3560 1149h0"/><path class="y26" d="M3414 1155h0"/><path class="y19" d="M3255 1137h0"/><path class="y24" d="M3262 1128h0"/><path class="y23" d="M3453 1192h0"/><path class="y28" d="M3530 1128h0"/><path class="y24" d="M3413 1189h0"/><path class="y19" d="M3409 1129h0"/><path class="y26" d="M3432 1094h0"/><path class="y14" d="M3348 1134h0"/><path class="y19" d="M3459 1175h0"/><path class="y25" d="M3565 1163h0"/><path class="y17" d="M3372 1132h0"/><path class="y38" d="M3570 1187h0"/><path class="y16" d="M3438 1193h0"/><path class="y17" d="M3457 1086h0"/><path class="y13" d="M3465 1181h0"/><path class="y14" d="M3509 1089h0"/><path class="y23" d="M3309 1127h0"/><path class="y11" d="M3386 1183h0M3356 1149h0"/><path class="y15" d="M3227 1145h0"/><path class="y29" d="M3224 1142h0"/><path class="y24" d="M3458 1197h0M3574 1169h0"/><path class="y38" d="M3588 1162h0"/><path class="y37" d="M3598 1133h0"/><path class="y20" d="M3290 1152h0"/><path class="y31" d="M3522 1178h0"/><path class="y12" d="M3409 1109h0"/><path class="y28" d="M3497 1107h0"/><path class="y12" d="M3429 1124h0"/><path class="y22" d="M3514 1177h0"/><path class="y12" d="M3469 1118h0"/><path class="y13" d="M3389 1142h0"/><path class="y25" d="M3472 1176h0"/><path class="y30" d="M3514 1167h0"/><path class="y24" d="M3490 1155h0"/><path class="y20" d="M3490 1112h0"/><path class="y21" d="M3458 1126h0M3517 1188h0"/><path class="y35" d="M3625 1148h0"/><path class="y24" d="M3443 1146h0"/><path class="y26" d="M3467 1086h0"/><path class="y38" d="M3501 1183h0"/><path class="y27" d="M3508 1127h0"/><path class="y20" d="M3404 1103h0"/><path class="y34" d="M3581 1123h0"/><path class="y35" d="M3578 1128h0"/><path class="y18" d="M3371 1133h0"/><path class="y33" d="M3531 1156h0"/><path class="y11" d="M3390 1127h0"/><path class="y29" d="M3441 1190h0M3282 1139h0"/><path class="y19" d="M3447 1150h0"/><path class="y32" d="M3508 1116h0M3476 1142h0"/><path class="y20" d="M3475 1088h0"/><path class="y17" d="M3263 1150h0"/><path class="y22" d="M3255 1143h0"/><path class="y24" d="M3479 1113h0"/><path class="y10" d="M3402 1176h0"/><path class="y15" d="M3280 1128h0"/><path class="y17" d="M3481 1135h0"/><path class="y14" d="M3382 1171h0"/><path class="y18" d="M3270 1161h0M3462 1199h0"/><path class="y22" d="M3338 1130h0"/><path class="y28" d="M3498 1189h0"/><path class="y23" d="M3379 1170h0"/><path class="y16" d="M3249 1151h0"/><path class="y18" d="M3287 1156h0"/><path class="y33" d="M3538 1172h0"/><path class="y28" d="M3483 1133h0M3334 1143h0"/><path class="y15" d="M3399 1114h0"/><path class="y19" d="M3311 1133h0"/><path class="y18" d="M3442 1191h0"/><path class="y22" d="M3569 1183h0"/><path class="y17" d="M3402 1173h0"/><path class="y18" d="M3527 1095h0"/><path class="y19" d="M3447 1132h0"/><path class="y29" d="M3509 1187h0"/><path class="y28" d="M3522 1137h0"/><path class="y34" d="M3541 1195h0"/><path class="y38" d="M3579 1155h0"/><path class="y26" d="M3480 1199h0"/><path class="y13" d="M3390 1133h0"/><path class="y24" d="M3304 1156h0"/><path class="y14" d="M3421 1126h0"/><path class="y20" d="M3283 1157h0"/><path class="y14" d="M3455 1137h0"/><path class="y22" d="M3465 1194h0M3473 1178h0"/><path class="y26" d="M3448 1156h0"/><path class="y34" d="M3453 1112h0"/><path class="y36" d="M3546 1158h0"/><path class="y32" d="M3548 1087h0"/><path class="y22" d="M3482 1166h0"/><path class="y26" d="M3327 1143h0"/><path class="y28" d="M3279 1150h0"/><path class="y13" d="M3488 1194h0"/><path class="y20" d="M3415 1095h0"/><path class="y28" d="M3484 1125h0"/><path class="y17" d="M3503 1139h0"/><path class="y31" d="M3466 1158h0"/><path class="y26" d="M3340 1145h0"/><path class="y28" d="M3606 1138h0"/><path class="y30" d="M3533 1097h0"/><path class="y18" d="M3408 1167h0M3437 1165h0"/><path class="y14" d="M3441 1116h0"/><path class="y19" d="M3395 1115h0"/><path class="y36" d="M3540 1113h0"/><path class="y16" d="M3384 1175h0"/><path class="y27" d="M3472 1146h0"/><path class="y17" d="M3388 1147h0"/><path class="y20" d="M3383 1163h0"/><path class="y19" d="M3443 1105h0"/><path class="y28" d="M3508 1176h0"/><path class="y21" d="M3448 1181h0"/><path class="y29" d="M3482 1102h0"/><path class="y32" d="M3544 1178h0"/><path class="y19" d="M3537 1104h0"/><path class="y18" d="M3465 1140h0"/><path class="y24" d="M3423 1183h0"/><path class="y21" d="M3392 1154h0"/><path class="y33" d="M3552 1110h0"/><path class="y32" d="M3552 1105h0"/><path class="y15" d="M3423 1180h0M3523 1100h0"/><path class="y20" d="M3375 1152h0"/><path class="y29" d="M3557 1183h0"/><path class="y25" d="M3470 1159h0"/><path class="y29" d="M3289 1130h0"/><path class="y34" d="M3567 1141h0"/><path class="y23" d="M3517 1149h0"/><path class="y20" d="M3468 1115h0"/><path class="y36" d="M3468 1131h0"/><path class="y24" d="M3502 1182h0"/><path class="y38" d="M3544 1090h0"/><path class="y27" d="M3491 1114h0"/><path class="y38" d="M3625 1160h0"/><path class="y17" d="M3441 1097h0"/><path class="y33" d="M3535 1086h0"/><path class="y38" d="M3591 1130h0"/><path class="y32" d="M3554 1105h0"/><path class="y25" d="M3466 1135h0"/><path class="y17" d="M3373 1128h0"/><path class="y18" d="M3398 1142h0"/><path class="y21" d="M3427 1173h0"/><path class="y37" d="M3522 1165h0"/><path class="y31" d="M3489 1122h0"/><path class="y38" d="M3540 1160h0"/><path class="y28" d="M3595 1140h0"/><path class="y29" d="M3524 1126h0"/><path class="y38" d="M3589 1153h0"/><path class="y24" d="M3380 1143h0"/><path class="y29" d="M3553 1145h0"/><path class="y34" d="M3417 1180h0"/><path class="y23" d="M3549 1192h0"/><path class="y37" d="M3568 1167h0"/><path class="y38" d="M3605 1154h0"/><path class="y20" d="M3417 1116h0"/><path class="y31" d="M3458 1175h0"/><path class="y22" d="M3452 1095h0"/><path class="y20" d="M3427 1191h0"/><path class="y30" d="M3545 1161h0"/><path class="y29" d="M3486 1120h0"/><path class="y30" d="M3435 1087h0"/><path class="y31" d="M3560 1147h0"/><path class="y20" d="M3432 1090h0"/><path class="y26" d="M3482 1141h0"/><path class="y37" d="M3532 1088h0"/><path class="y38" d="M3600 1148h0"/><path class="y33" d="M3492 1171h0"/><path class="y38" d="M3545 1149h0"/><path class="y29" d="M3504 1105h0"/><path class="y30" d="M3466 1131h0"/><path class="y24" d="M3527 1087h0"/><path class="y35" d="M3513 1194h0"/><path class="y22" d="M3543 1149h0"/><path class="y26" d="M3536 1121h0"/><path class="y27" d="M3442 1118h0"/><path class="y38" d="M3555 1161h0"/><path class="y34" d="M3520 1109h0"/><path class="y24" d="M3428 1189h0M3476 1140h0"/><path class="y37" d="M3576 1156h0M3499 1091h0"/><path class="y32" d="M3614 1151h0"/><path class="y28" d="M3495 1162h0"/><path class="y25" d="M3545 1142h0"/><path class="y33" d="M3583 1143h0"/><path class="y35" d="M3438 1188h0"/><path class="y38" d="M3625 1156h0"/><path class="y26" d="M3546 1187h0"/><path class="y38" d="M3625 1157h0"/><path class="y32" d="M3567 1151h0"/><path class="y27" d="M3417 1190h0"/><path class="y22" d="M3415 1178h0"/><path class="y29" d="M3572 1160h0"/><path class="y35" d="M3523 1159h0"/><path class="y32" d="M3576 1187h0"/><path class="y34" d="M3543 1139h0"/><path class="y31" d="M3460 1146h0"/><path class="y26" d="M3451 1088h0"/><path class="y33" d="M3514 1177h0"/><path class="y28" d="M3565 1149h0"/><path class="y25" d="M3446 1088h0"/><path class="y38" d="M3567 1124h0"/><path class="y31" d="M3465 1110h0"/><path class="y34" d="M3609 1140h0"/><path class="y31" d="M3518 1100h0"/><path class="y36" d="M3625 1149h0M3614 1169h0M3586 1147h0"/><path class="y29" d="M3513 1131h0"/><path class="y38" d="M3621 1147h0"/><path class="y26" d="M3566 1134h0"/><path class="y31" d="M3438 1086h0"/><path class="y38" d="M3604 1142h0"/><path class="y26" d="M3543 1155h0"/><path class="y38" d="M3594 1148h0"/><path class="y35" d="M3602 1134h0"/><path class="y34" d="M3563 1166h0"/><path class="y38" d="M3622 1160h0"/><path class="y36" d="M3576 1176h0"/><path class="y34" d="M3506 1140h0"/><path class="y29" d="M3395 1131h0"/><path class="y31" d="M3549 1143h0"/><path class="y29" d="M3595 1149h0"/><path class="y37" d="M3549 1086h0"/><path class="y38" d="M3609 1175h0"/><path class="y30" d="M3579 1131h0"/><path class="y38" d="M3627 1153h0"/><path class="y36" d="M3507 1164h0"/><path class="y34" d="M3597 1159h0"/><path class="y31" d="M3513 1171h0"/><path class="y33" d="M3531 1096h0"/><path class="y32" d="M3587 1184h0"/><path class="y35" d="M3510 1087h0"/><path class="y36" d="M3617 1162h0"/><path class="y38" d="M3544 1089h0"/><path class="y33" d="M3532 1165h0"/><path class="y35" d="M3533 1172h0"/><path class="y38" d="M3542 1105h0"/><path class="y30" d="M3530 1100h0"/><path class="y36" d="M3615 1146h0"/><path class="y38" d="M3568 1188h0"/><path class="y31" d="M3591 1135h0"/><path class="y35" d="M3569 1117h0M3608 1173h0"/><path class="y36" d="M3472 1114h0"/><path class="y38" d="M3598 1160h0M3600 1148h0M3533 1101h0"/><path class="y32" d="M3533 1116h0"/><path class="y37" d="M3582 1152h0"/><path class="y38" d="M3540 1126h0M3594 1173h0"/><path class="y37" d="M3559 1149h0"/><path class="y38" d="M3585 1136h0M3583 1124h0M3620 1155h0M3588 1127h0"/><path class="y36" d="M3534 1147h0"/><path class="y38" d="M3605 1164h0M3591 1169h0M3588 1164h0M3615 1154h0M3618 1144h0M3480 1086h0"/><path class="y0" d="M3133 1153h0"/><path class="y1" d="M3165 1155h0"/><path class="y4" d="M3202 1113h0"/><path class="y19" d="M3201 1153h0"/><path class="y6" d="M3455 1242h0"/><path class="y17" d="M3524 1235h0"/><path class="y28" d="M3523 1217h0"/><path class="y38" d="M3567 1113h0"/><path class="y13" d="M3333 1221h0"/><path class="y15" d="M3347 1216h0"/><path class="y4" d="M3317 1204h0"/><path class="y2" d="M3417 1208h0"/><path class="y30" d="M3458 1203h0"/><path class="y2" d="M3337 1088h0"/><path class="y1" d="M3328 1103h0"/><path class="y4" d="M3358 1113h0"/><path class="y2" d="M3327 1127h0"/></g>
<path d="M3132.5 1150.5L3622.4 1151.4" stroke="#f00" stroke-width="9" fill="none"/>
<rect x="334" y="1146.2" width="16" height="14.6" fill="#333"/>
<text transform="translate(321.0,1175.8) scale(1,1.050)" font-size="62.2" text-anchor="end">100%</text>
<rect x="334" y="1230.6" width="16" height="14.6" fill="#333"/>
<text transform="translate(321.0,1260.2) scale(1,1.050)" font-size="62.2" text-anchor="end">10%</text>
<rect x="334" y="1315.0" width="16" height="14.6" fill="#333"/>
<text transform="translate(321.0,1344.6) scale(1,1.050)" font-size="62.2" text-anchor="end">1%</text>
<rect x="334" y="1399.4" width="16" height="14.6" fill="#333"/>
<text transform="translate(321.0,1429.0) scale(1,1.050)" font-size="62.2" text-anchor="end">0.1%</text>
<rect x="334" y="1483.8" width="16" height="14.6" fill="#333"/>
<text transform="translate(321.0,1513.4) scale(1,1.050)" font-size="62.2" text-anchor="end">0.01%</text>
</svg></body></html>
